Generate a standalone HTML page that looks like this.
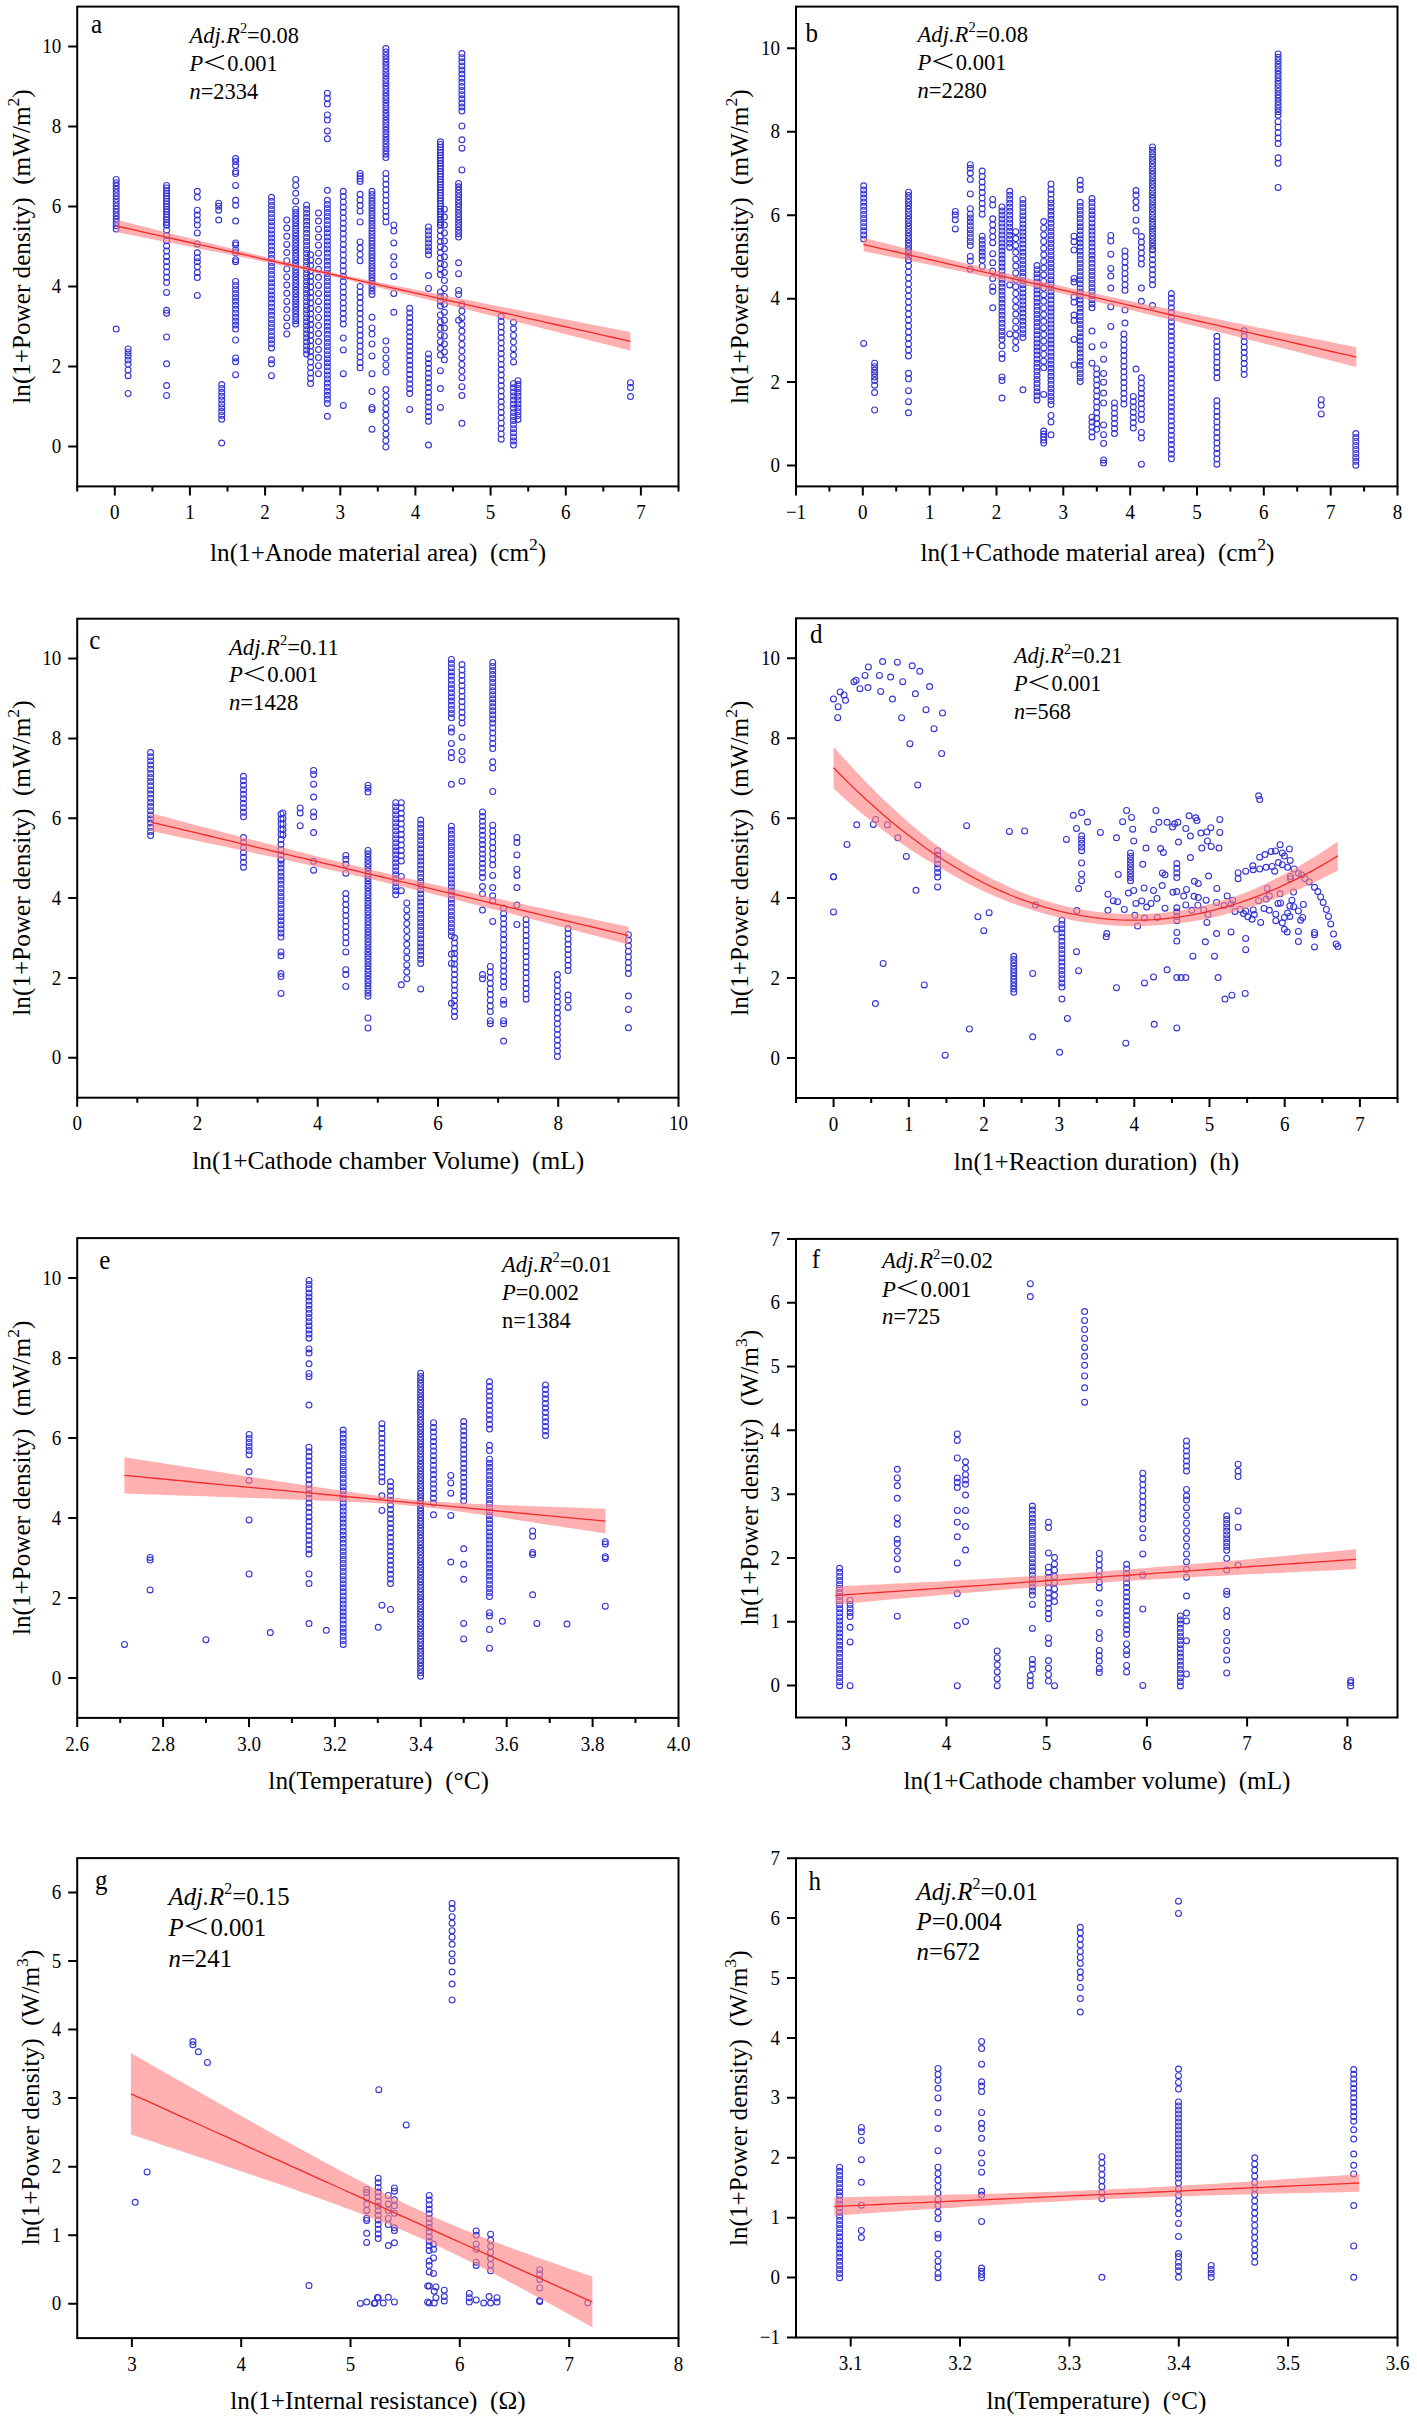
<!DOCTYPE html>
<html><head><meta charset="utf-8"><style>
html,body{margin:0;padding:0;background:#fff;}
svg{display:block;}
text{font-family:"Liberation Serif", serif;fill:#000;white-space:pre;}
</style></head><body>
<svg width="1417" height="2421" viewBox="0 0 1417 2421">
<rect width="1417" height="2421" fill="#fff"/>
<g fill="none" stroke="#3434d4" stroke-width="1.1"><circle cx="116.2" cy="179.4" r="2.95"/><circle cx="116.2" cy="182.7" r="2.95"/><circle cx="116.2" cy="186.0" r="2.95"/><circle cx="116.2" cy="189.3" r="2.95"/><circle cx="116.2" cy="192.6" r="2.95"/><circle cx="116.2" cy="195.9" r="2.95"/><circle cx="116.2" cy="199.2" r="2.95"/><circle cx="116.2" cy="202.5" r="2.95"/><circle cx="116.2" cy="205.9" r="2.95"/><circle cx="116.2" cy="209.2" r="2.95"/><circle cx="116.2" cy="212.5" r="2.95"/><circle cx="116.2" cy="215.8" r="2.95"/><circle cx="116.2" cy="219.1" r="2.95"/><circle cx="116.2" cy="222.4" r="2.95"/><circle cx="116.2" cy="225.7" r="2.95"/><circle cx="116.2" cy="229.0" r="2.95"/><circle cx="116.2" cy="329.1" r="2.95"/><circle cx="128.1" cy="348.9" r="2.95"/><circle cx="128.1" cy="352.4" r="2.95"/><circle cx="128.1" cy="356.0" r="2.95"/><circle cx="128.1" cy="360.0" r="2.95"/><circle cx="128.1" cy="364.0" r="2.95"/><circle cx="128.1" cy="370.0" r="2.95"/><circle cx="128.1" cy="375.7" r="2.95"/><circle cx="128.1" cy="393.5" r="2.95"/><circle cx="166.6" cy="185.4" r="2.95"/><circle cx="166.6" cy="188.0" r="2.95"/><circle cx="166.6" cy="190.7" r="2.95"/><circle cx="166.6" cy="193.3" r="2.95"/><circle cx="166.6" cy="196.0" r="2.95"/><circle cx="166.6" cy="198.6" r="2.95"/><circle cx="166.6" cy="201.2" r="2.95"/><circle cx="166.6" cy="203.9" r="2.95"/><circle cx="166.6" cy="206.5" r="2.95"/><circle cx="166.6" cy="209.2" r="2.95"/><circle cx="166.6" cy="211.8" r="2.95"/><circle cx="166.6" cy="214.4" r="2.95"/><circle cx="166.6" cy="217.1" r="2.95"/><circle cx="166.6" cy="219.7" r="2.95"/><circle cx="166.6" cy="222.4" r="2.95"/><circle cx="166.6" cy="225.0" r="2.95"/><circle cx="166.6" cy="225.0" r="2.95"/><circle cx="166.6" cy="230.2" r="2.95"/><circle cx="166.6" cy="235.5" r="2.95"/><circle cx="166.6" cy="240.7" r="2.95"/><circle cx="166.6" cy="245.9" r="2.95"/><circle cx="166.6" cy="251.1" r="2.95"/><circle cx="166.6" cy="256.4" r="2.95"/><circle cx="166.6" cy="261.6" r="2.95"/><circle cx="166.6" cy="266.8" r="2.95"/><circle cx="166.6" cy="272.0" r="2.95"/><circle cx="166.6" cy="277.3" r="2.95"/><circle cx="166.6" cy="282.5" r="2.95"/><circle cx="166.6" cy="292.4" r="2.95"/><circle cx="166.6" cy="310.3" r="2.95"/><circle cx="166.6" cy="313.2" r="2.95"/><circle cx="166.6" cy="337.0" r="2.95"/><circle cx="166.6" cy="363.8" r="2.95"/><circle cx="166.6" cy="385.6" r="2.95"/><circle cx="166.6" cy="395.5" r="2.95"/><circle cx="197.3" cy="191.3" r="2.95"/><circle cx="197.3" cy="197.3" r="2.95"/><circle cx="197.3" cy="210.2" r="2.95"/><circle cx="197.3" cy="215.1" r="2.95"/><circle cx="197.3" cy="220.1" r="2.95"/><circle cx="197.3" cy="225.0" r="2.95"/><circle cx="197.3" cy="233.0" r="2.95"/><circle cx="197.3" cy="243.9" r="2.95"/><circle cx="197.3" cy="252.8" r="2.95"/><circle cx="197.3" cy="257.7" r="2.95"/><circle cx="197.3" cy="261.7" r="2.95"/><circle cx="197.3" cy="266.7" r="2.95"/><circle cx="197.3" cy="272.6" r="2.95"/><circle cx="197.3" cy="277.6" r="2.95"/><circle cx="197.3" cy="295.4" r="2.95"/><circle cx="218.7" cy="203.2" r="2.95"/><circle cx="218.7" cy="206.2" r="2.95"/><circle cx="218.7" cy="210.2" r="2.95"/><circle cx="218.7" cy="220.1" r="2.95"/><circle cx="221.7" cy="384.6" r="2.95"/><circle cx="221.7" cy="388.5" r="2.95"/><circle cx="221.7" cy="392.3" r="2.95"/><circle cx="221.7" cy="396.2" r="2.95"/><circle cx="221.7" cy="400.0" r="2.95"/><circle cx="221.7" cy="403.9" r="2.95"/><circle cx="221.7" cy="407.7" r="2.95"/><circle cx="221.7" cy="411.6" r="2.95"/><circle cx="221.7" cy="415.4" r="2.95"/><circle cx="221.7" cy="419.3" r="2.95"/><circle cx="221.7" cy="443.1" r="2.95"/><circle cx="235.6" cy="158.6" r="2.95"/><circle cx="235.6" cy="161.6" r="2.95"/><circle cx="235.6" cy="165.6" r="2.95"/><circle cx="235.6" cy="171.5" r="2.95"/><circle cx="235.6" cy="173.5" r="2.95"/><circle cx="235.6" cy="185.4" r="2.95"/><circle cx="235.6" cy="200.3" r="2.95"/><circle cx="235.6" cy="205.2" r="2.95"/><circle cx="235.6" cy="221.1" r="2.95"/><circle cx="235.6" cy="242.9" r="2.95"/><circle cx="235.6" cy="244.9" r="2.95"/><circle cx="235.6" cy="249.9" r="2.95"/><circle cx="235.6" cy="252.8" r="2.95"/><circle cx="235.6" cy="259.7" r="2.95"/><circle cx="235.6" cy="261.7" r="2.95"/><circle cx="235.6" cy="281.5" r="2.95"/><circle cx="235.6" cy="285.5" r="2.95"/><circle cx="235.6" cy="289.4" r="2.95"/><circle cx="235.6" cy="293.4" r="2.95"/><circle cx="235.6" cy="297.4" r="2.95"/><circle cx="235.6" cy="301.3" r="2.95"/><circle cx="235.6" cy="305.3" r="2.95"/><circle cx="235.6" cy="309.3" r="2.95"/><circle cx="235.6" cy="313.2" r="2.95"/><circle cx="235.6" cy="317.2" r="2.95"/><circle cx="235.6" cy="321.2" r="2.95"/><circle cx="235.6" cy="325.1" r="2.95"/><circle cx="235.6" cy="329.1" r="2.95"/><circle cx="235.6" cy="340.0" r="2.95"/><circle cx="235.6" cy="357.9" r="2.95"/><circle cx="235.6" cy="361.8" r="2.95"/><circle cx="235.6" cy="374.7" r="2.95"/><circle cx="271.5" cy="197.3" r="2.95"/><circle cx="271.5" cy="201.4" r="2.95"/><circle cx="271.5" cy="205.4" r="2.95"/><circle cx="271.5" cy="209.5" r="2.95"/><circle cx="271.5" cy="213.6" r="2.95"/><circle cx="271.5" cy="217.7" r="2.95"/><circle cx="271.5" cy="221.7" r="2.95"/><circle cx="271.5" cy="225.8" r="2.95"/><circle cx="271.5" cy="229.9" r="2.95"/><circle cx="271.5" cy="233.9" r="2.95"/><circle cx="271.5" cy="238.0" r="2.95"/><circle cx="271.5" cy="242.1" r="2.95"/><circle cx="271.5" cy="246.1" r="2.95"/><circle cx="271.5" cy="250.2" r="2.95"/><circle cx="271.5" cy="254.3" r="2.95"/><circle cx="271.5" cy="258.4" r="2.95"/><circle cx="271.5" cy="262.4" r="2.95"/><circle cx="271.5" cy="266.5" r="2.95"/><circle cx="271.5" cy="270.6" r="2.95"/><circle cx="271.5" cy="274.6" r="2.95"/><circle cx="271.5" cy="278.7" r="2.95"/><circle cx="271.5" cy="282.8" r="2.95"/><circle cx="271.5" cy="286.8" r="2.95"/><circle cx="271.5" cy="290.9" r="2.95"/><circle cx="271.5" cy="295.0" r="2.95"/><circle cx="271.5" cy="299.1" r="2.95"/><circle cx="271.5" cy="303.1" r="2.95"/><circle cx="271.5" cy="307.2" r="2.95"/><circle cx="271.5" cy="311.3" r="2.95"/><circle cx="271.5" cy="315.3" r="2.95"/><circle cx="271.5" cy="319.4" r="2.95"/><circle cx="271.5" cy="323.5" r="2.95"/><circle cx="271.5" cy="327.5" r="2.95"/><circle cx="271.5" cy="331.6" r="2.95"/><circle cx="271.5" cy="335.7" r="2.95"/><circle cx="271.5" cy="339.8" r="2.95"/><circle cx="271.5" cy="343.8" r="2.95"/><circle cx="271.5" cy="347.9" r="2.95"/><circle cx="271.5" cy="359.8" r="2.95"/><circle cx="271.5" cy="363.8" r="2.95"/><circle cx="271.5" cy="375.7" r="2.95"/><circle cx="286.8" cy="220.0" r="2.95"/><circle cx="286.8" cy="228.1" r="2.95"/><circle cx="286.8" cy="236.3" r="2.95"/><circle cx="286.8" cy="244.4" r="2.95"/><circle cx="286.8" cy="252.6" r="2.95"/><circle cx="286.8" cy="260.7" r="2.95"/><circle cx="286.8" cy="268.9" r="2.95"/><circle cx="286.8" cy="277.0" r="2.95"/><circle cx="286.8" cy="285.1" r="2.95"/><circle cx="286.8" cy="293.3" r="2.95"/><circle cx="286.8" cy="301.4" r="2.95"/><circle cx="286.8" cy="309.6" r="2.95"/><circle cx="286.8" cy="317.7" r="2.95"/><circle cx="286.8" cy="325.9" r="2.95"/><circle cx="286.8" cy="334.0" r="2.95"/><circle cx="295.7" cy="179.4" r="2.95"/><circle cx="295.7" cy="185.4" r="2.95"/><circle cx="295.7" cy="193.3" r="2.95"/><circle cx="295.7" cy="201.2" r="2.95"/><circle cx="295.7" cy="209.2" r="2.95"/><circle cx="295.7" cy="212.6" r="2.95"/><circle cx="295.7" cy="216.0" r="2.95"/><circle cx="295.7" cy="219.3" r="2.95"/><circle cx="295.7" cy="222.7" r="2.95"/><circle cx="295.7" cy="226.1" r="2.95"/><circle cx="295.7" cy="229.5" r="2.95"/><circle cx="295.7" cy="232.9" r="2.95"/><circle cx="295.7" cy="236.2" r="2.95"/><circle cx="295.7" cy="239.6" r="2.95"/><circle cx="295.7" cy="243.0" r="2.95"/><circle cx="295.7" cy="246.4" r="2.95"/><circle cx="295.7" cy="249.8" r="2.95"/><circle cx="295.7" cy="253.1" r="2.95"/><circle cx="295.7" cy="256.5" r="2.95"/><circle cx="295.7" cy="259.9" r="2.95"/><circle cx="295.7" cy="263.3" r="2.95"/><circle cx="295.7" cy="266.6" r="2.95"/><circle cx="295.7" cy="270.0" r="2.95"/><circle cx="295.7" cy="273.4" r="2.95"/><circle cx="295.7" cy="276.8" r="2.95"/><circle cx="295.7" cy="280.2" r="2.95"/><circle cx="295.7" cy="283.5" r="2.95"/><circle cx="295.7" cy="286.9" r="2.95"/><circle cx="295.7" cy="290.3" r="2.95"/><circle cx="295.7" cy="293.7" r="2.95"/><circle cx="295.7" cy="297.1" r="2.95"/><circle cx="295.7" cy="300.4" r="2.95"/><circle cx="295.7" cy="303.8" r="2.95"/><circle cx="295.7" cy="307.2" r="2.95"/><circle cx="295.7" cy="310.6" r="2.95"/><circle cx="295.7" cy="314.0" r="2.95"/><circle cx="295.7" cy="317.3" r="2.95"/><circle cx="295.7" cy="320.7" r="2.95"/><circle cx="295.7" cy="324.1" r="2.95"/><circle cx="306.6" cy="205.2" r="2.95"/><circle cx="306.6" cy="209.2" r="2.95"/><circle cx="306.6" cy="213.2" r="2.95"/><circle cx="306.6" cy="217.3" r="2.95"/><circle cx="306.6" cy="221.3" r="2.95"/><circle cx="306.6" cy="225.3" r="2.95"/><circle cx="306.6" cy="229.3" r="2.95"/><circle cx="306.6" cy="233.3" r="2.95"/><circle cx="306.6" cy="237.4" r="2.95"/><circle cx="306.6" cy="241.4" r="2.95"/><circle cx="306.6" cy="245.4" r="2.95"/><circle cx="306.6" cy="249.4" r="2.95"/><circle cx="306.6" cy="253.4" r="2.95"/><circle cx="306.6" cy="257.4" r="2.95"/><circle cx="306.6" cy="261.5" r="2.95"/><circle cx="306.6" cy="265.5" r="2.95"/><circle cx="306.6" cy="269.5" r="2.95"/><circle cx="306.6" cy="273.5" r="2.95"/><circle cx="306.6" cy="277.5" r="2.95"/><circle cx="306.6" cy="281.6" r="2.95"/><circle cx="306.6" cy="285.6" r="2.95"/><circle cx="306.6" cy="289.6" r="2.95"/><circle cx="306.6" cy="293.6" r="2.95"/><circle cx="306.6" cy="297.6" r="2.95"/><circle cx="306.6" cy="301.7" r="2.95"/><circle cx="306.6" cy="305.7" r="2.95"/><circle cx="306.6" cy="309.7" r="2.95"/><circle cx="306.6" cy="313.7" r="2.95"/><circle cx="306.6" cy="317.7" r="2.95"/><circle cx="306.6" cy="321.7" r="2.95"/><circle cx="306.6" cy="325.8" r="2.95"/><circle cx="306.6" cy="329.8" r="2.95"/><circle cx="306.6" cy="333.8" r="2.95"/><circle cx="306.6" cy="337.8" r="2.95"/><circle cx="306.6" cy="341.8" r="2.95"/><circle cx="306.6" cy="345.9" r="2.95"/><circle cx="306.6" cy="349.9" r="2.95"/><circle cx="306.6" cy="353.9" r="2.95"/><circle cx="310.6" cy="254.8" r="2.95"/><circle cx="310.6" cy="260.2" r="2.95"/><circle cx="310.6" cy="265.5" r="2.95"/><circle cx="310.6" cy="270.9" r="2.95"/><circle cx="310.6" cy="276.3" r="2.95"/><circle cx="310.6" cy="281.6" r="2.95"/><circle cx="310.6" cy="287.0" r="2.95"/><circle cx="310.6" cy="292.4" r="2.95"/><circle cx="310.6" cy="297.7" r="2.95"/><circle cx="310.6" cy="303.1" r="2.95"/><circle cx="310.6" cy="308.5" r="2.95"/><circle cx="310.6" cy="313.8" r="2.95"/><circle cx="310.6" cy="319.2" r="2.95"/><circle cx="310.6" cy="324.6" r="2.95"/><circle cx="310.6" cy="329.9" r="2.95"/><circle cx="310.6" cy="335.3" r="2.95"/><circle cx="310.6" cy="340.7" r="2.95"/><circle cx="310.6" cy="346.0" r="2.95"/><circle cx="310.6" cy="351.4" r="2.95"/><circle cx="310.6" cy="356.8" r="2.95"/><circle cx="310.6" cy="362.1" r="2.95"/><circle cx="310.6" cy="367.5" r="2.95"/><circle cx="310.6" cy="372.9" r="2.95"/><circle cx="310.6" cy="378.2" r="2.95"/><circle cx="310.6" cy="383.6" r="2.95"/><circle cx="318.5" cy="213.1" r="2.95"/><circle cx="318.5" cy="221.1" r="2.95"/><circle cx="318.5" cy="229.2" r="2.95"/><circle cx="318.5" cy="237.2" r="2.95"/><circle cx="318.5" cy="245.2" r="2.95"/><circle cx="318.5" cy="253.2" r="2.95"/><circle cx="318.5" cy="261.3" r="2.95"/><circle cx="318.5" cy="269.3" r="2.95"/><circle cx="318.5" cy="277.3" r="2.95"/><circle cx="318.5" cy="285.4" r="2.95"/><circle cx="318.5" cy="293.4" r="2.95"/><circle cx="318.5" cy="301.4" r="2.95"/><circle cx="318.5" cy="309.5" r="2.95"/><circle cx="318.5" cy="317.5" r="2.95"/><circle cx="318.5" cy="325.5" r="2.95"/><circle cx="318.5" cy="333.6" r="2.95"/><circle cx="318.5" cy="341.6" r="2.95"/><circle cx="318.5" cy="349.6" r="2.95"/><circle cx="318.5" cy="357.6" r="2.95"/><circle cx="318.5" cy="365.7" r="2.95"/><circle cx="318.5" cy="373.7" r="2.95"/><circle cx="327.4" cy="93.2" r="2.95"/><circle cx="327.4" cy="98.2" r="2.95"/><circle cx="327.4" cy="104.1" r="2.95"/><circle cx="327.4" cy="115.0" r="2.95"/><circle cx="327.4" cy="120.0" r="2.95"/><circle cx="327.4" cy="130.9" r="2.95"/><circle cx="327.4" cy="138.8" r="2.95"/><circle cx="327.4" cy="190.3" r="2.95"/><circle cx="327.4" cy="200.3" r="2.95"/><circle cx="327.4" cy="204.4" r="2.95"/><circle cx="327.4" cy="208.4" r="2.95"/><circle cx="327.4" cy="212.5" r="2.95"/><circle cx="327.4" cy="216.5" r="2.95"/><circle cx="327.4" cy="220.6" r="2.95"/><circle cx="327.4" cy="224.7" r="2.95"/><circle cx="327.4" cy="228.7" r="2.95"/><circle cx="327.4" cy="232.8" r="2.95"/><circle cx="327.4" cy="236.9" r="2.95"/><circle cx="327.4" cy="240.9" r="2.95"/><circle cx="327.4" cy="245.0" r="2.95"/><circle cx="327.4" cy="249.0" r="2.95"/><circle cx="327.4" cy="253.1" r="2.95"/><circle cx="327.4" cy="257.2" r="2.95"/><circle cx="327.4" cy="261.2" r="2.95"/><circle cx="327.4" cy="265.3" r="2.95"/><circle cx="327.4" cy="269.4" r="2.95"/><circle cx="327.4" cy="273.4" r="2.95"/><circle cx="327.4" cy="277.5" r="2.95"/><circle cx="327.4" cy="281.5" r="2.95"/><circle cx="327.4" cy="285.6" r="2.95"/><circle cx="327.4" cy="289.7" r="2.95"/><circle cx="327.4" cy="293.7" r="2.95"/><circle cx="327.4" cy="297.8" r="2.95"/><circle cx="327.4" cy="301.9" r="2.95"/><circle cx="327.4" cy="305.9" r="2.95"/><circle cx="327.4" cy="310.0" r="2.95"/><circle cx="327.4" cy="314.0" r="2.95"/><circle cx="327.4" cy="318.1" r="2.95"/><circle cx="327.4" cy="322.2" r="2.95"/><circle cx="327.4" cy="326.2" r="2.95"/><circle cx="327.4" cy="330.3" r="2.95"/><circle cx="327.4" cy="334.3" r="2.95"/><circle cx="327.4" cy="338.4" r="2.95"/><circle cx="327.4" cy="342.5" r="2.95"/><circle cx="327.4" cy="346.5" r="2.95"/><circle cx="327.4" cy="350.6" r="2.95"/><circle cx="327.4" cy="354.7" r="2.95"/><circle cx="327.4" cy="358.7" r="2.95"/><circle cx="327.4" cy="362.8" r="2.95"/><circle cx="327.4" cy="366.8" r="2.95"/><circle cx="327.4" cy="370.9" r="2.95"/><circle cx="327.4" cy="375.0" r="2.95"/><circle cx="327.4" cy="379.0" r="2.95"/><circle cx="327.4" cy="383.1" r="2.95"/><circle cx="327.4" cy="387.2" r="2.95"/><circle cx="327.4" cy="391.2" r="2.95"/><circle cx="327.4" cy="395.3" r="2.95"/><circle cx="327.4" cy="399.3" r="2.95"/><circle cx="327.4" cy="403.4" r="2.95"/><circle cx="327.4" cy="416.3" r="2.95"/><circle cx="343.3" cy="191.3" r="2.95"/><circle cx="343.3" cy="196.6" r="2.95"/><circle cx="343.3" cy="201.9" r="2.95"/><circle cx="343.3" cy="207.2" r="2.95"/><circle cx="343.3" cy="212.5" r="2.95"/><circle cx="343.3" cy="217.9" r="2.95"/><circle cx="343.3" cy="223.2" r="2.95"/><circle cx="343.3" cy="228.5" r="2.95"/><circle cx="343.3" cy="233.8" r="2.95"/><circle cx="343.3" cy="239.1" r="2.95"/><circle cx="343.3" cy="244.4" r="2.95"/><circle cx="343.3" cy="249.7" r="2.95"/><circle cx="343.3" cy="255.0" r="2.95"/><circle cx="343.3" cy="260.4" r="2.95"/><circle cx="343.3" cy="265.7" r="2.95"/><circle cx="343.3" cy="271.0" r="2.95"/><circle cx="343.3" cy="276.3" r="2.95"/><circle cx="343.3" cy="281.6" r="2.95"/><circle cx="343.3" cy="286.9" r="2.95"/><circle cx="343.3" cy="292.2" r="2.95"/><circle cx="343.3" cy="297.5" r="2.95"/><circle cx="343.3" cy="302.9" r="2.95"/><circle cx="343.3" cy="308.2" r="2.95"/><circle cx="343.3" cy="313.5" r="2.95"/><circle cx="343.3" cy="318.8" r="2.95"/><circle cx="343.3" cy="324.1" r="2.95"/><circle cx="343.3" cy="338.0" r="2.95"/><circle cx="343.3" cy="349.9" r="2.95"/><circle cx="343.3" cy="373.7" r="2.95"/><circle cx="343.3" cy="405.4" r="2.95"/><circle cx="360.1" cy="173.5" r="2.95"/><circle cx="360.1" cy="176.1" r="2.95"/><circle cx="360.1" cy="178.8" r="2.95"/><circle cx="360.1" cy="181.4" r="2.95"/><circle cx="360.1" cy="194.3" r="2.95"/><circle cx="360.1" cy="199.9" r="2.95"/><circle cx="360.1" cy="205.6" r="2.95"/><circle cx="360.1" cy="211.2" r="2.95"/><circle cx="360.1" cy="222.0" r="2.95"/><circle cx="360.1" cy="241.9" r="2.95"/><circle cx="360.1" cy="248.2" r="2.95"/><circle cx="360.1" cy="254.4" r="2.95"/><circle cx="360.1" cy="260.7" r="2.95"/><circle cx="360.1" cy="286.5" r="2.95"/><circle cx="360.1" cy="291.9" r="2.95"/><circle cx="360.1" cy="297.3" r="2.95"/><circle cx="360.1" cy="302.8" r="2.95"/><circle cx="360.1" cy="308.2" r="2.95"/><circle cx="360.1" cy="313.6" r="2.95"/><circle cx="360.1" cy="319.0" r="2.95"/><circle cx="360.1" cy="324.4" r="2.95"/><circle cx="360.1" cy="329.9" r="2.95"/><circle cx="360.1" cy="335.3" r="2.95"/><circle cx="360.1" cy="340.7" r="2.95"/><circle cx="360.1" cy="346.1" r="2.95"/><circle cx="360.1" cy="351.5" r="2.95"/><circle cx="360.1" cy="357.0" r="2.95"/><circle cx="360.1" cy="362.4" r="2.95"/><circle cx="360.1" cy="367.8" r="2.95"/><circle cx="372.0" cy="191.3" r="2.95"/><circle cx="372.0" cy="194.6" r="2.95"/><circle cx="372.0" cy="198.0" r="2.95"/><circle cx="372.0" cy="201.3" r="2.95"/><circle cx="372.0" cy="204.6" r="2.95"/><circle cx="372.0" cy="207.9" r="2.95"/><circle cx="372.0" cy="211.3" r="2.95"/><circle cx="372.0" cy="214.6" r="2.95"/><circle cx="372.0" cy="217.9" r="2.95"/><circle cx="372.0" cy="221.2" r="2.95"/><circle cx="372.0" cy="224.6" r="2.95"/><circle cx="372.0" cy="227.9" r="2.95"/><circle cx="372.0" cy="231.2" r="2.95"/><circle cx="372.0" cy="234.5" r="2.95"/><circle cx="372.0" cy="237.9" r="2.95"/><circle cx="372.0" cy="241.2" r="2.95"/><circle cx="372.0" cy="244.5" r="2.95"/><circle cx="372.0" cy="247.8" r="2.95"/><circle cx="372.0" cy="251.2" r="2.95"/><circle cx="372.0" cy="254.5" r="2.95"/><circle cx="372.0" cy="257.8" r="2.95"/><circle cx="372.0" cy="261.1" r="2.95"/><circle cx="372.0" cy="264.5" r="2.95"/><circle cx="372.0" cy="267.8" r="2.95"/><circle cx="372.0" cy="271.1" r="2.95"/><circle cx="372.0" cy="274.4" r="2.95"/><circle cx="372.0" cy="277.8" r="2.95"/><circle cx="372.0" cy="281.1" r="2.95"/><circle cx="372.0" cy="284.4" r="2.95"/><circle cx="372.0" cy="287.7" r="2.95"/><circle cx="372.0" cy="291.1" r="2.95"/><circle cx="372.0" cy="294.4" r="2.95"/><circle cx="372.0" cy="317.2" r="2.95"/><circle cx="372.0" cy="328.0" r="2.95"/><circle cx="372.0" cy="334.0" r="2.95"/><circle cx="372.0" cy="344.0" r="2.95"/><circle cx="372.0" cy="355.9" r="2.95"/><circle cx="372.0" cy="373.7" r="2.95"/><circle cx="372.0" cy="391.5" r="2.95"/><circle cx="372.0" cy="407.4" r="2.95"/><circle cx="372.0" cy="409.4" r="2.95"/><circle cx="372.0" cy="429.2" r="2.95"/><circle cx="385.9" cy="48.6" r="2.95"/><circle cx="385.9" cy="52.0" r="2.95"/><circle cx="385.9" cy="55.4" r="2.95"/><circle cx="385.9" cy="58.8" r="2.95"/><circle cx="385.9" cy="62.2" r="2.95"/><circle cx="385.9" cy="65.6" r="2.95"/><circle cx="385.9" cy="69.0" r="2.95"/><circle cx="385.9" cy="72.4" r="2.95"/><circle cx="385.9" cy="75.8" r="2.95"/><circle cx="385.9" cy="79.3" r="2.95"/><circle cx="385.9" cy="82.7" r="2.95"/><circle cx="385.9" cy="86.1" r="2.95"/><circle cx="385.9" cy="89.5" r="2.95"/><circle cx="385.9" cy="92.9" r="2.95"/><circle cx="385.9" cy="96.3" r="2.95"/><circle cx="385.9" cy="99.7" r="2.95"/><circle cx="385.9" cy="103.1" r="2.95"/><circle cx="385.9" cy="106.5" r="2.95"/><circle cx="385.9" cy="109.9" r="2.95"/><circle cx="385.9" cy="113.3" r="2.95"/><circle cx="385.9" cy="116.7" r="2.95"/><circle cx="385.9" cy="120.1" r="2.95"/><circle cx="385.9" cy="123.5" r="2.95"/><circle cx="385.9" cy="126.9" r="2.95"/><circle cx="385.9" cy="130.3" r="2.95"/><circle cx="385.9" cy="133.8" r="2.95"/><circle cx="385.9" cy="137.2" r="2.95"/><circle cx="385.9" cy="140.6" r="2.95"/><circle cx="385.9" cy="144.0" r="2.95"/><circle cx="385.9" cy="147.4" r="2.95"/><circle cx="385.9" cy="150.8" r="2.95"/><circle cx="385.9" cy="154.2" r="2.95"/><circle cx="385.9" cy="157.6" r="2.95"/><circle cx="385.9" cy="173.5" r="2.95"/><circle cx="385.9" cy="178.9" r="2.95"/><circle cx="385.9" cy="184.3" r="2.95"/><circle cx="385.9" cy="189.7" r="2.95"/><circle cx="385.9" cy="195.1" r="2.95"/><circle cx="385.9" cy="200.4" r="2.95"/><circle cx="385.9" cy="205.8" r="2.95"/><circle cx="385.9" cy="211.2" r="2.95"/><circle cx="385.9" cy="216.6" r="2.95"/><circle cx="385.9" cy="222.0" r="2.95"/><circle cx="385.9" cy="341.0" r="2.95"/><circle cx="385.9" cy="350.0" r="2.95"/><circle cx="385.9" cy="358.0" r="2.95"/><circle cx="385.9" cy="365.0" r="2.95"/><circle cx="385.9" cy="372.0" r="2.95"/><circle cx="385.9" cy="389.6" r="2.95"/><circle cx="385.9" cy="396.0" r="2.95"/><circle cx="385.9" cy="402.4" r="2.95"/><circle cx="385.9" cy="408.7" r="2.95"/><circle cx="385.9" cy="415.1" r="2.95"/><circle cx="385.9" cy="421.5" r="2.95"/><circle cx="385.9" cy="427.9" r="2.95"/><circle cx="385.9" cy="434.2" r="2.95"/><circle cx="385.9" cy="440.6" r="2.95"/><circle cx="385.9" cy="447.0" r="2.95"/><circle cx="393.8" cy="225.0" r="2.95"/><circle cx="393.8" cy="231.0" r="2.95"/><circle cx="393.8" cy="242.9" r="2.95"/><circle cx="393.8" cy="256.7" r="2.95"/><circle cx="393.8" cy="264.7" r="2.95"/><circle cx="393.8" cy="276.6" r="2.95"/><circle cx="393.8" cy="293.4" r="2.95"/><circle cx="393.8" cy="312.3" r="2.95"/><circle cx="409.7" cy="308.3" r="2.95"/><circle cx="409.7" cy="313.0" r="2.95"/><circle cx="409.7" cy="317.8" r="2.95"/><circle cx="409.7" cy="322.5" r="2.95"/><circle cx="409.7" cy="327.2" r="2.95"/><circle cx="409.7" cy="332.0" r="2.95"/><circle cx="409.7" cy="336.7" r="2.95"/><circle cx="409.7" cy="341.4" r="2.95"/><circle cx="409.7" cy="346.2" r="2.95"/><circle cx="409.7" cy="350.9" r="2.95"/><circle cx="409.7" cy="355.6" r="2.95"/><circle cx="409.7" cy="360.4" r="2.95"/><circle cx="409.7" cy="365.1" r="2.95"/><circle cx="409.7" cy="369.8" r="2.95"/><circle cx="409.7" cy="374.6" r="2.95"/><circle cx="409.7" cy="379.3" r="2.95"/><circle cx="409.7" cy="384.0" r="2.95"/><circle cx="409.7" cy="388.8" r="2.95"/><circle cx="409.7" cy="393.5" r="2.95"/><circle cx="409.7" cy="409.4" r="2.95"/><circle cx="428.5" cy="227.0" r="2.95"/><circle cx="428.5" cy="231.0" r="2.95"/><circle cx="428.5" cy="234.9" r="2.95"/><circle cx="428.5" cy="238.9" r="2.95"/><circle cx="428.5" cy="242.9" r="2.95"/><circle cx="428.5" cy="246.9" r="2.95"/><circle cx="428.5" cy="250.8" r="2.95"/><circle cx="428.5" cy="254.8" r="2.95"/><circle cx="428.5" cy="275.6" r="2.95"/><circle cx="428.5" cy="288.5" r="2.95"/><circle cx="428.5" cy="353.9" r="2.95"/><circle cx="428.5" cy="358.7" r="2.95"/><circle cx="428.5" cy="363.5" r="2.95"/><circle cx="428.5" cy="368.3" r="2.95"/><circle cx="428.5" cy="373.2" r="2.95"/><circle cx="428.5" cy="378.0" r="2.95"/><circle cx="428.5" cy="382.8" r="2.95"/><circle cx="428.5" cy="387.6" r="2.95"/><circle cx="428.5" cy="392.4" r="2.95"/><circle cx="428.5" cy="397.2" r="2.95"/><circle cx="428.5" cy="402.0" r="2.95"/><circle cx="428.5" cy="406.9" r="2.95"/><circle cx="428.5" cy="411.7" r="2.95"/><circle cx="428.5" cy="416.5" r="2.95"/><circle cx="428.5" cy="421.3" r="2.95"/><circle cx="428.5" cy="445.1" r="2.95"/><circle cx="440.4" cy="141.8" r="2.95"/><circle cx="440.4" cy="144.5" r="2.95"/><circle cx="440.4" cy="147.2" r="2.95"/><circle cx="440.4" cy="149.9" r="2.95"/><circle cx="440.4" cy="152.5" r="2.95"/><circle cx="440.4" cy="155.2" r="2.95"/><circle cx="440.4" cy="157.9" r="2.95"/><circle cx="440.4" cy="160.6" r="2.95"/><circle cx="440.4" cy="163.3" r="2.95"/><circle cx="440.4" cy="166.0" r="2.95"/><circle cx="440.4" cy="168.6" r="2.95"/><circle cx="440.4" cy="171.3" r="2.95"/><circle cx="440.4" cy="174.0" r="2.95"/><circle cx="440.4" cy="176.7" r="2.95"/><circle cx="440.4" cy="179.4" r="2.95"/><circle cx="440.4" cy="182.1" r="2.95"/><circle cx="440.4" cy="184.7" r="2.95"/><circle cx="440.4" cy="187.4" r="2.95"/><circle cx="440.4" cy="190.1" r="2.95"/><circle cx="440.4" cy="192.8" r="2.95"/><circle cx="440.4" cy="195.5" r="2.95"/><circle cx="440.4" cy="198.2" r="2.95"/><circle cx="440.4" cy="200.8" r="2.95"/><circle cx="440.4" cy="203.5" r="2.95"/><circle cx="440.4" cy="206.2" r="2.95"/><circle cx="440.4" cy="208.9" r="2.95"/><circle cx="440.4" cy="211.6" r="2.95"/><circle cx="440.4" cy="214.3" r="2.95"/><circle cx="440.4" cy="216.9" r="2.95"/><circle cx="440.4" cy="219.6" r="2.95"/><circle cx="440.4" cy="222.3" r="2.95"/><circle cx="440.4" cy="225.0" r="2.95"/><circle cx="440.4" cy="225.0" r="2.95"/><circle cx="440.4" cy="230.5" r="2.95"/><circle cx="440.4" cy="236.0" r="2.95"/><circle cx="440.4" cy="241.5" r="2.95"/><circle cx="440.4" cy="247.0" r="2.95"/><circle cx="440.4" cy="252.6" r="2.95"/><circle cx="440.4" cy="258.1" r="2.95"/><circle cx="440.4" cy="263.6" r="2.95"/><circle cx="440.4" cy="269.1" r="2.95"/><circle cx="440.4" cy="274.6" r="2.95"/><circle cx="440.4" cy="292.0" r="2.95"/><circle cx="440.4" cy="296.7" r="2.95"/><circle cx="440.4" cy="301.3" r="2.95"/><circle cx="440.4" cy="306.0" r="2.95"/><circle cx="440.4" cy="315.0" r="2.95"/><circle cx="440.4" cy="321.7" r="2.95"/><circle cx="440.4" cy="328.3" r="2.95"/><circle cx="440.4" cy="335.0" r="2.95"/><circle cx="440.4" cy="341.7" r="2.95"/><circle cx="440.4" cy="348.3" r="2.95"/><circle cx="440.4" cy="355.0" r="2.95"/><circle cx="440.4" cy="370.7" r="2.95"/><circle cx="440.4" cy="388.6" r="2.95"/><circle cx="440.4" cy="407.4" r="2.95"/><circle cx="444.4" cy="209.2" r="2.95"/><circle cx="444.4" cy="217.1" r="2.95"/><circle cx="444.4" cy="225.1" r="2.95"/><circle cx="444.4" cy="233.0" r="2.95"/><circle cx="444.4" cy="240.9" r="2.95"/><circle cx="444.4" cy="248.8" r="2.95"/><circle cx="444.4" cy="256.8" r="2.95"/><circle cx="444.4" cy="264.7" r="2.95"/><circle cx="444.4" cy="272.6" r="2.95"/><circle cx="444.4" cy="280.5" r="2.95"/><circle cx="444.4" cy="288.5" r="2.95"/><circle cx="444.4" cy="296.4" r="2.95"/><circle cx="444.4" cy="304.3" r="2.95"/><circle cx="444.4" cy="312.2" r="2.95"/><circle cx="444.4" cy="320.2" r="2.95"/><circle cx="444.4" cy="328.1" r="2.95"/><circle cx="444.4" cy="336.0" r="2.95"/><circle cx="444.4" cy="343.9" r="2.95"/><circle cx="444.4" cy="351.9" r="2.95"/><circle cx="444.4" cy="359.8" r="2.95"/><circle cx="458.6" cy="183.4" r="2.95"/><circle cx="458.6" cy="186.8" r="2.95"/><circle cx="458.6" cy="190.1" r="2.95"/><circle cx="458.6" cy="193.5" r="2.95"/><circle cx="458.6" cy="196.8" r="2.95"/><circle cx="458.6" cy="200.2" r="2.95"/><circle cx="458.6" cy="203.5" r="2.95"/><circle cx="458.6" cy="206.8" r="2.95"/><circle cx="458.6" cy="210.2" r="2.95"/><circle cx="458.6" cy="213.6" r="2.95"/><circle cx="458.6" cy="216.9" r="2.95"/><circle cx="458.6" cy="220.2" r="2.95"/><circle cx="458.6" cy="223.6" r="2.95"/><circle cx="458.6" cy="226.9" r="2.95"/><circle cx="458.6" cy="230.3" r="2.95"/><circle cx="458.6" cy="233.7" r="2.95"/><circle cx="458.6" cy="237.0" r="2.95"/><circle cx="458.6" cy="262.8" r="2.95"/><circle cx="458.6" cy="273.7" r="2.95"/><circle cx="458.6" cy="290.5" r="2.95"/><circle cx="458.6" cy="294.5" r="2.95"/><circle cx="458.6" cy="320.2" r="2.95"/><circle cx="461.9" cy="53.6" r="2.95"/><circle cx="461.9" cy="57.7" r="2.95"/><circle cx="461.9" cy="61.8" r="2.95"/><circle cx="461.9" cy="65.9" r="2.95"/><circle cx="461.9" cy="70.0" r="2.95"/><circle cx="461.9" cy="74.1" r="2.95"/><circle cx="461.9" cy="78.2" r="2.95"/><circle cx="461.9" cy="82.3" r="2.95"/><circle cx="461.9" cy="86.5" r="2.95"/><circle cx="461.9" cy="90.6" r="2.95"/><circle cx="461.9" cy="94.7" r="2.95"/><circle cx="461.9" cy="98.8" r="2.95"/><circle cx="461.9" cy="102.9" r="2.95"/><circle cx="461.9" cy="107.0" r="2.95"/><circle cx="461.9" cy="111.1" r="2.95"/><circle cx="461.9" cy="126.0" r="2.95"/><circle cx="461.9" cy="139.8" r="2.95"/><circle cx="461.9" cy="148.2" r="2.95"/><circle cx="461.9" cy="170.0" r="2.95"/><circle cx="461.9" cy="304.4" r="2.95"/><circle cx="461.9" cy="311.1" r="2.95"/><circle cx="461.9" cy="317.7" r="2.95"/><circle cx="461.9" cy="324.4" r="2.95"/><circle cx="461.9" cy="331.1" r="2.95"/><circle cx="461.9" cy="337.7" r="2.95"/><circle cx="461.9" cy="344.4" r="2.95"/><circle cx="461.9" cy="351.0" r="2.95"/><circle cx="461.9" cy="357.7" r="2.95"/><circle cx="461.9" cy="364.4" r="2.95"/><circle cx="461.9" cy="371.0" r="2.95"/><circle cx="461.9" cy="377.7" r="2.95"/><circle cx="461.9" cy="386.7" r="2.95"/><circle cx="461.9" cy="395.6" r="2.95"/><circle cx="461.9" cy="423.3" r="2.95"/><circle cx="501.2" cy="316.3" r="2.95"/><circle cx="501.2" cy="321.6" r="2.95"/><circle cx="501.2" cy="327.0" r="2.95"/><circle cx="501.2" cy="332.3" r="2.95"/><circle cx="501.2" cy="337.7" r="2.95"/><circle cx="501.2" cy="343.0" r="2.95"/><circle cx="501.2" cy="348.4" r="2.95"/><circle cx="501.2" cy="353.7" r="2.95"/><circle cx="501.2" cy="359.0" r="2.95"/><circle cx="501.2" cy="364.4" r="2.95"/><circle cx="501.2" cy="369.7" r="2.95"/><circle cx="501.2" cy="375.1" r="2.95"/><circle cx="501.2" cy="380.4" r="2.95"/><circle cx="501.2" cy="385.8" r="2.95"/><circle cx="501.2" cy="391.1" r="2.95"/><circle cx="501.2" cy="396.5" r="2.95"/><circle cx="501.2" cy="401.8" r="2.95"/><circle cx="501.2" cy="407.1" r="2.95"/><circle cx="501.2" cy="412.5" r="2.95"/><circle cx="501.2" cy="417.8" r="2.95"/><circle cx="501.2" cy="423.2" r="2.95"/><circle cx="501.2" cy="428.5" r="2.95"/><circle cx="501.2" cy="433.9" r="2.95"/><circle cx="501.2" cy="439.2" r="2.95"/><circle cx="513.5" cy="322.2" r="2.95"/><circle cx="513.5" cy="328.8" r="2.95"/><circle cx="513.5" cy="335.4" r="2.95"/><circle cx="513.5" cy="342.0" r="2.95"/><circle cx="513.5" cy="348.7" r="2.95"/><circle cx="513.5" cy="355.3" r="2.95"/><circle cx="513.5" cy="361.9" r="2.95"/><circle cx="513.5" cy="383.7" r="2.95"/><circle cx="513.5" cy="387.8" r="2.95"/><circle cx="513.5" cy="391.9" r="2.95"/><circle cx="513.5" cy="396.0" r="2.95"/><circle cx="513.5" cy="400.1" r="2.95"/><circle cx="513.5" cy="404.2" r="2.95"/><circle cx="513.5" cy="408.3" r="2.95"/><circle cx="513.5" cy="412.4" r="2.95"/><circle cx="513.5" cy="416.4" r="2.95"/><circle cx="513.5" cy="420.5" r="2.95"/><circle cx="513.5" cy="424.6" r="2.95"/><circle cx="513.5" cy="428.7" r="2.95"/><circle cx="513.5" cy="432.8" r="2.95"/><circle cx="513.5" cy="436.9" r="2.95"/><circle cx="513.5" cy="441.0" r="2.95"/><circle cx="513.5" cy="445.1" r="2.95"/><circle cx="518.0" cy="380.7" r="2.95"/><circle cx="518.0" cy="384.6" r="2.95"/><circle cx="518.0" cy="388.4" r="2.95"/><circle cx="518.0" cy="392.3" r="2.95"/><circle cx="518.0" cy="396.2" r="2.95"/><circle cx="518.0" cy="400.0" r="2.95"/><circle cx="518.0" cy="403.9" r="2.95"/><circle cx="518.0" cy="407.8" r="2.95"/><circle cx="518.0" cy="411.7" r="2.95"/><circle cx="518.0" cy="415.5" r="2.95"/><circle cx="518.0" cy="419.4" r="2.95"/><circle cx="630.5" cy="382.7" r="2.95"/><circle cx="630.5" cy="387.6" r="2.95"/><circle cx="630.5" cy="396.6" r="2.95"/></g><polygon points="116.8,220.0 125.4,222.1 133.9,224.3 142.5,226.4 151.0,228.6 159.6,230.7 168.2,232.9 176.7,235.0 185.3,237.1 193.8,239.3 202.4,241.4 211.0,243.5 219.5,245.7 228.1,247.8 236.6,249.9 245.2,252.0 253.8,254.1 262.3,256.2 270.9,258.3 279.4,260.3 288.0,262.3 296.6,264.3 305.1,266.3 313.7,268.3 322.2,270.2 330.8,272.1 339.4,273.9 347.9,275.8 356.5,277.6 365.0,279.4 373.6,281.2 382.2,282.9 390.7,284.7 399.3,286.4 407.8,288.1 416.4,289.9 425.0,291.6 433.5,293.3 442.1,295.0 450.6,296.7 459.2,298.4 467.8,300.1 476.3,301.8 484.9,303.5 493.4,305.2 502.0,306.9 510.6,308.6 519.1,310.2 527.7,311.9 536.2,313.6 544.8,315.3 553.4,317.0 561.9,318.7 570.5,320.3 579.0,322.0 587.6,323.7 596.2,325.4 604.7,327.1 613.3,328.8 621.8,330.4 630.4,332.1 630.4,350.5 621.8,348.4 613.3,346.2 604.7,344.0 596.2,341.9 587.6,339.7 579.0,337.6 570.5,335.4 561.9,333.3 553.4,331.1 544.8,328.9 536.2,326.8 527.7,324.6 519.1,322.5 510.6,320.3 502.0,318.2 493.4,316.0 484.9,313.9 476.3,311.7 467.8,309.6 459.2,307.4 450.6,305.3 442.1,303.2 433.5,301.0 425.0,298.9 416.4,296.8 407.8,294.7 399.3,292.5 390.7,290.4 382.2,288.4 373.6,286.3 365.0,284.2 356.5,282.2 347.9,280.1 339.4,278.1 330.8,276.1 322.2,274.2 313.7,272.3 305.1,270.4 296.6,268.5 288.0,266.7 279.4,264.9 270.9,263.1 262.3,261.3 253.8,259.6 245.2,257.8 236.6,256.1 228.1,254.3 219.5,252.6 211.0,250.9 202.4,249.2 193.8,247.5 185.3,245.8 176.7,244.1 168.2,242.4 159.6,240.7 151.0,239.0 142.5,237.3 133.9,235.6 125.4,233.9 116.8,232.2" fill="#ff8080" fill-opacity="0.62" stroke="none"/><polyline points="116.8,226.1 125.4,228.0 133.9,229.9 142.5,231.9 151.0,233.8 159.6,235.7 168.2,237.6 176.7,239.5 185.3,241.5 193.8,243.4 202.4,245.3 211.0,247.2 219.5,249.2 228.1,251.1 236.6,253.0 245.2,254.9 253.8,256.8 262.3,258.8 270.9,260.7 279.4,262.6 288.0,264.5 296.6,266.4 305.1,268.4 313.7,270.3 322.2,272.2 330.8,274.1 339.4,276.0 347.9,278.0 356.5,279.9 365.0,281.8 373.6,283.7 382.2,285.6 390.7,287.6 399.3,289.5 407.8,291.4 416.4,293.3 425.0,295.2 433.5,297.2 442.1,299.1 450.6,301.0 459.2,302.9 467.8,304.8 476.3,306.8 484.9,308.7 493.4,310.6 502.0,312.5 510.6,314.4 519.1,316.4 527.7,318.3 536.2,320.2 544.8,322.1 553.4,324.0 561.9,326.0 570.5,327.9 579.0,329.8 587.6,331.7 596.2,333.6 604.7,335.6 613.3,337.5 621.8,339.4 630.4,341.3" fill="none" stroke="#f22a2a" stroke-width="1.3"/>
<rect x="77.2" y="6.6" width="601.3" height="479.8" fill="none" stroke="#000" stroke-width="2"/>
<path d="M114.8 486.4V495.4 M189.9 486.4V495.4 M265.1 486.4V495.4 M340.3 486.4V495.4 M415.4 486.4V495.4 M490.6 486.4V495.4 M565.8 486.4V495.4 M640.9 486.4V495.4 M77.2 486.4V491.4 M152.4 486.4V491.4 M227.5 486.4V491.4 M302.7 486.4V491.4 M377.8 486.4V491.4 M453.0 486.4V491.4 M528.2 486.4V491.4 M603.3 486.4V491.4 M678.5 486.4V491.4 M77.2 446.4H68.2 M77.2 366.4H68.2 M77.2 286.5H68.2 M77.2 206.5H68.2 M77.2 126.6H68.2 M77.2 46.6H68.2" stroke="#000" stroke-width="2" fill="none"/>
<text transform="translate(114.8,519.0) scale(1,1.09)" font-size="19" text-anchor="middle">0</text>
<text transform="translate(189.9,519.0) scale(1,1.09)" font-size="19" text-anchor="middle">1</text>
<text transform="translate(265.1,519.0) scale(1,1.09)" font-size="19" text-anchor="middle">2</text>
<text transform="translate(340.3,519.0) scale(1,1.09)" font-size="19" text-anchor="middle">3</text>
<text transform="translate(415.4,519.0) scale(1,1.09)" font-size="19" text-anchor="middle">4</text>
<text transform="translate(490.6,519.0) scale(1,1.09)" font-size="19" text-anchor="middle">5</text>
<text transform="translate(565.8,519.0) scale(1,1.09)" font-size="19" text-anchor="middle">6</text>
<text transform="translate(640.9,519.0) scale(1,1.09)" font-size="19" text-anchor="middle">7</text>
<text transform="translate(61.2,453.0) scale(1,1.09)" font-size="19" text-anchor="end">0</text>
<text transform="translate(61.2,373.1) scale(1,1.09)" font-size="19" text-anchor="end">2</text>
<text transform="translate(61.2,293.1) scale(1,1.09)" font-size="19" text-anchor="end">4</text>
<text transform="translate(61.2,213.1) scale(1,1.09)" font-size="19" text-anchor="end">6</text>
<text transform="translate(61.2,133.2) scale(1,1.09)" font-size="19" text-anchor="end">8</text>
<text transform="translate(61.2,53.2) scale(1,1.09)" font-size="19" text-anchor="end">10</text>
<text transform="translate(91.1,32.7) scale(1,1.07)" font-size="25">a</text>
<g transform="translate(1.87,0) scale(0.9964,1)"><g transform="translate(0,43.0) scale(1,1.07) translate(0,-43.0)"><text x="188.3" y="43.0" font-size="22.5"><tspan font-style="italic">Adj.R</tspan><tspan font-size="14.4" dy="-9.0">2</tspan><tspan dy="9.0">=0.08</tspan></text></g></g>
<g transform="translate(1.87,0) scale(0.9964,1)"><g transform="translate(0,71.2) scale(1,1.07) translate(0,-71.2)"><text x="188.3" y="71.2" font-size="22.5"><tspan font-style="italic">P</tspan></text><path d="M223.0 56.3L205.0 62.9L223.0 69.6" fill="none" stroke="#000" stroke-width="1.25"/><text x="226.3" y="71.2" font-size="22.5">0.001</text></g></g>
<g transform="translate(1.87,0) scale(0.9964,1)"><g transform="translate(0,99.0) scale(1,1.07) translate(0,-99.0)"><text x="188.3" y="99.0" font-size="22.5"><tspan font-style="italic">n</tspan>=2334</text></g></g>
<g transform="translate(-2.60,-0.65) scale(1.0076,1.0000)"><text x="377.9" y="561.9" font-size="25" text-anchor="middle">ln(1+Anode material area)  (cm<tspan font-size="17.5" dy="-11">2</tspan><tspan dy="11">)</tspan></text></g>
<g transform="translate(-0.85,10.47) scale(1.0000,1.0065)"><text transform="translate(30.6,234.5) rotate(-90)" font-size="25" text-anchor="middle">ln(1+Power density)  (mW/m<tspan font-size="17.5" dy="-11">2</tspan><tspan dy="11">)</tspan></text></g>
<g fill="none" stroke="#3434d4" stroke-width="1.1"><circle cx="863.7" cy="185.8" r="2.95"/><circle cx="863.7" cy="189.9" r="2.95"/><circle cx="863.7" cy="194.0" r="2.95"/><circle cx="863.7" cy="198.1" r="2.95"/><circle cx="863.7" cy="202.2" r="2.95"/><circle cx="863.7" cy="206.3" r="2.95"/><circle cx="863.7" cy="210.4" r="2.95"/><circle cx="863.7" cy="214.4" r="2.95"/><circle cx="863.7" cy="218.5" r="2.95"/><circle cx="863.7" cy="222.6" r="2.95"/><circle cx="863.7" cy="226.7" r="2.95"/><circle cx="863.7" cy="230.8" r="2.95"/><circle cx="863.7" cy="234.9" r="2.95"/><circle cx="863.7" cy="239.0" r="2.95"/><circle cx="863.7" cy="343.4" r="2.95"/><circle cx="874.6" cy="363.2" r="2.95"/><circle cx="874.6" cy="366.7" r="2.95"/><circle cx="874.6" cy="370.2" r="2.95"/><circle cx="874.6" cy="373.6" r="2.95"/><circle cx="874.6" cy="377.1" r="2.95"/><circle cx="874.6" cy="380.6" r="2.95"/><circle cx="874.6" cy="385.2" r="2.95"/><circle cx="874.6" cy="392.6" r="2.95"/><circle cx="874.6" cy="410.0" r="2.95"/><circle cx="908.5" cy="192.2" r="2.95"/><circle cx="908.5" cy="195.6" r="2.95"/><circle cx="908.5" cy="199.0" r="2.95"/><circle cx="908.5" cy="202.4" r="2.95"/><circle cx="908.5" cy="205.8" r="2.95"/><circle cx="908.5" cy="209.1" r="2.95"/><circle cx="908.5" cy="212.5" r="2.95"/><circle cx="908.5" cy="215.9" r="2.95"/><circle cx="908.5" cy="219.3" r="2.95"/><circle cx="908.5" cy="222.7" r="2.95"/><circle cx="908.5" cy="226.1" r="2.95"/><circle cx="908.5" cy="229.5" r="2.95"/><circle cx="908.5" cy="232.9" r="2.95"/><circle cx="908.5" cy="236.3" r="2.95"/><circle cx="908.5" cy="239.7" r="2.95"/><circle cx="908.5" cy="243.1" r="2.95"/><circle cx="908.5" cy="246.4" r="2.95"/><circle cx="908.5" cy="249.8" r="2.95"/><circle cx="908.5" cy="253.2" r="2.95"/><circle cx="908.5" cy="256.6" r="2.95"/><circle cx="908.5" cy="260.0" r="2.95"/><circle cx="908.5" cy="260.0" r="2.95"/><circle cx="908.5" cy="266.0" r="2.95"/><circle cx="908.5" cy="272.0" r="2.95"/><circle cx="908.5" cy="278.0" r="2.95"/><circle cx="908.5" cy="284.0" r="2.95"/><circle cx="908.5" cy="290.0" r="2.95"/><circle cx="908.5" cy="296.0" r="2.95"/><circle cx="908.5" cy="302.0" r="2.95"/><circle cx="908.5" cy="307.9" r="2.95"/><circle cx="908.5" cy="313.9" r="2.95"/><circle cx="908.5" cy="319.9" r="2.95"/><circle cx="908.5" cy="325.9" r="2.95"/><circle cx="908.5" cy="331.9" r="2.95"/><circle cx="908.5" cy="337.9" r="2.95"/><circle cx="908.5" cy="343.9" r="2.95"/><circle cx="908.5" cy="349.9" r="2.95"/><circle cx="908.5" cy="355.9" r="2.95"/><circle cx="908.5" cy="373.3" r="2.95"/><circle cx="908.5" cy="378.8" r="2.95"/><circle cx="908.5" cy="390.7" r="2.95"/><circle cx="908.5" cy="401.7" r="2.95"/><circle cx="908.5" cy="412.8" r="2.95"/><circle cx="955.3" cy="211.5" r="2.95"/><circle cx="955.3" cy="215.1" r="2.95"/><circle cx="955.3" cy="219.7" r="2.95"/><circle cx="955.3" cy="228.9" r="2.95"/><circle cx="970.3" cy="164.7" r="2.95"/><circle cx="970.3" cy="168.3" r="2.95"/><circle cx="970.3" cy="172.9" r="2.95"/><circle cx="970.3" cy="179.4" r="2.95"/><circle cx="970.3" cy="194.0" r="2.95"/><circle cx="970.3" cy="208.7" r="2.95"/><circle cx="970.3" cy="214.2" r="2.95"/><circle cx="970.3" cy="217.9" r="2.95"/><circle cx="970.3" cy="221.8" r="2.95"/><circle cx="970.3" cy="225.8" r="2.95"/><circle cx="970.3" cy="229.7" r="2.95"/><circle cx="970.3" cy="233.6" r="2.95"/><circle cx="970.3" cy="237.5" r="2.95"/><circle cx="970.3" cy="241.5" r="2.95"/><circle cx="970.3" cy="245.4" r="2.95"/><circle cx="970.3" cy="256.4" r="2.95"/><circle cx="970.3" cy="261.0" r="2.95"/><circle cx="970.3" cy="269.3" r="2.95"/><circle cx="982.2" cy="171.1" r="2.95"/><circle cx="982.2" cy="176.5" r="2.95"/><circle cx="982.2" cy="181.9" r="2.95"/><circle cx="982.2" cy="187.3" r="2.95"/><circle cx="982.2" cy="192.6" r="2.95"/><circle cx="982.2" cy="198.0" r="2.95"/><circle cx="982.2" cy="203.4" r="2.95"/><circle cx="982.2" cy="208.8" r="2.95"/><circle cx="982.2" cy="214.2" r="2.95"/><circle cx="982.2" cy="236.2" r="2.95"/><circle cx="982.2" cy="240.2" r="2.95"/><circle cx="982.2" cy="244.2" r="2.95"/><circle cx="982.2" cy="248.2" r="2.95"/><circle cx="982.2" cy="252.1" r="2.95"/><circle cx="982.2" cy="256.1" r="2.95"/><circle cx="982.2" cy="260.1" r="2.95"/><circle cx="982.2" cy="266.5" r="2.95"/><circle cx="992.7" cy="199.5" r="2.95"/><circle cx="992.7" cy="205.0" r="2.95"/><circle cx="992.7" cy="218.8" r="2.95"/><circle cx="992.7" cy="224.8" r="2.95"/><circle cx="992.7" cy="230.8" r="2.95"/><circle cx="992.7" cy="236.7" r="2.95"/><circle cx="992.7" cy="242.7" r="2.95"/><circle cx="992.7" cy="253.7" r="2.95"/><circle cx="992.7" cy="262.8" r="2.95"/><circle cx="992.7" cy="271.1" r="2.95"/><circle cx="992.7" cy="278.4" r="2.95"/><circle cx="992.7" cy="286.7" r="2.95"/><circle cx="992.7" cy="291.3" r="2.95"/><circle cx="992.7" cy="307.8" r="2.95"/><circle cx="1002.0" cy="206.9" r="2.95"/><circle cx="1002.0" cy="210.9" r="2.95"/><circle cx="1002.0" cy="214.9" r="2.95"/><circle cx="1002.0" cy="218.9" r="2.95"/><circle cx="1002.0" cy="223.0" r="2.95"/><circle cx="1002.0" cy="227.0" r="2.95"/><circle cx="1002.0" cy="231.0" r="2.95"/><circle cx="1002.0" cy="235.0" r="2.95"/><circle cx="1002.0" cy="239.0" r="2.95"/><circle cx="1002.0" cy="243.0" r="2.95"/><circle cx="1002.0" cy="247.1" r="2.95"/><circle cx="1002.0" cy="251.1" r="2.95"/><circle cx="1002.0" cy="255.1" r="2.95"/><circle cx="1002.0" cy="259.1" r="2.95"/><circle cx="1002.0" cy="263.1" r="2.95"/><circle cx="1002.0" cy="267.1" r="2.95"/><circle cx="1002.0" cy="271.1" r="2.95"/><circle cx="1002.0" cy="275.2" r="2.95"/><circle cx="1002.0" cy="279.2" r="2.95"/><circle cx="1002.0" cy="283.2" r="2.95"/><circle cx="1002.0" cy="287.2" r="2.95"/><circle cx="1002.0" cy="291.2" r="2.95"/><circle cx="1002.0" cy="295.2" r="2.95"/><circle cx="1002.0" cy="299.2" r="2.95"/><circle cx="1002.0" cy="303.3" r="2.95"/><circle cx="1002.0" cy="307.3" r="2.95"/><circle cx="1002.0" cy="311.3" r="2.95"/><circle cx="1002.0" cy="315.3" r="2.95"/><circle cx="1002.0" cy="319.3" r="2.95"/><circle cx="1002.0" cy="323.3" r="2.95"/><circle cx="1002.0" cy="327.4" r="2.95"/><circle cx="1002.0" cy="331.4" r="2.95"/><circle cx="1002.0" cy="335.4" r="2.95"/><circle cx="1002.0" cy="339.4" r="2.95"/><circle cx="1002.0" cy="345.8" r="2.95"/><circle cx="1002.0" cy="354.0" r="2.95"/><circle cx="1002.0" cy="358.6" r="2.95"/><circle cx="1002.0" cy="377.0" r="2.95"/><circle cx="1002.0" cy="380.6" r="2.95"/><circle cx="1002.0" cy="398.1" r="2.95"/><circle cx="1009.7" cy="191.3" r="2.95"/><circle cx="1009.7" cy="195.3" r="2.95"/><circle cx="1009.7" cy="199.3" r="2.95"/><circle cx="1009.7" cy="203.3" r="2.95"/><circle cx="1009.7" cy="207.3" r="2.95"/><circle cx="1009.7" cy="211.3" r="2.95"/><circle cx="1009.7" cy="215.3" r="2.95"/><circle cx="1009.7" cy="219.2" r="2.95"/><circle cx="1009.7" cy="223.2" r="2.95"/><circle cx="1009.7" cy="227.2" r="2.95"/><circle cx="1009.7" cy="231.2" r="2.95"/><circle cx="1009.7" cy="235.2" r="2.95"/><circle cx="1009.7" cy="239.2" r="2.95"/><circle cx="1009.7" cy="243.2" r="2.95"/><circle cx="1009.7" cy="247.2" r="2.95"/><circle cx="1009.7" cy="284.9" r="2.95"/><circle cx="1009.7" cy="333.9" r="2.95"/><circle cx="1015.7" cy="231.7" r="2.95"/><circle cx="1015.7" cy="238.6" r="2.95"/><circle cx="1015.7" cy="245.4" r="2.95"/><circle cx="1015.7" cy="252.3" r="2.95"/><circle cx="1015.7" cy="259.2" r="2.95"/><circle cx="1015.7" cy="266.1" r="2.95"/><circle cx="1015.7" cy="272.9" r="2.95"/><circle cx="1015.7" cy="279.8" r="2.95"/><circle cx="1015.7" cy="286.7" r="2.95"/><circle cx="1015.7" cy="293.5" r="2.95"/><circle cx="1015.7" cy="300.4" r="2.95"/><circle cx="1015.7" cy="307.3" r="2.95"/><circle cx="1015.7" cy="314.1" r="2.95"/><circle cx="1015.7" cy="321.0" r="2.95"/><circle cx="1015.7" cy="327.9" r="2.95"/><circle cx="1015.7" cy="334.8" r="2.95"/><circle cx="1015.7" cy="341.6" r="2.95"/><circle cx="1015.7" cy="348.5" r="2.95"/><circle cx="1022.9" cy="199.5" r="2.95"/><circle cx="1022.9" cy="203.6" r="2.95"/><circle cx="1022.9" cy="207.6" r="2.95"/><circle cx="1022.9" cy="211.7" r="2.95"/><circle cx="1022.9" cy="215.7" r="2.95"/><circle cx="1022.9" cy="219.8" r="2.95"/><circle cx="1022.9" cy="223.9" r="2.95"/><circle cx="1022.9" cy="227.9" r="2.95"/><circle cx="1022.9" cy="232.0" r="2.95"/><circle cx="1022.9" cy="236.0" r="2.95"/><circle cx="1022.9" cy="240.1" r="2.95"/><circle cx="1022.9" cy="244.1" r="2.95"/><circle cx="1022.9" cy="248.2" r="2.95"/><circle cx="1022.9" cy="252.3" r="2.95"/><circle cx="1022.9" cy="256.3" r="2.95"/><circle cx="1022.9" cy="260.4" r="2.95"/><circle cx="1022.9" cy="264.4" r="2.95"/><circle cx="1022.9" cy="268.5" r="2.95"/><circle cx="1022.9" cy="272.6" r="2.95"/><circle cx="1022.9" cy="276.6" r="2.95"/><circle cx="1022.9" cy="280.7" r="2.95"/><circle cx="1022.9" cy="284.7" r="2.95"/><circle cx="1022.9" cy="288.8" r="2.95"/><circle cx="1022.9" cy="292.9" r="2.95"/><circle cx="1022.9" cy="296.9" r="2.95"/><circle cx="1022.9" cy="301.0" r="2.95"/><circle cx="1022.9" cy="305.0" r="2.95"/><circle cx="1022.9" cy="309.1" r="2.95"/><circle cx="1022.9" cy="313.1" r="2.95"/><circle cx="1022.9" cy="317.2" r="2.95"/><circle cx="1022.9" cy="321.3" r="2.95"/><circle cx="1022.9" cy="325.3" r="2.95"/><circle cx="1022.9" cy="329.4" r="2.95"/><circle cx="1022.9" cy="333.4" r="2.95"/><circle cx="1022.9" cy="337.5" r="2.95"/><circle cx="1022.9" cy="389.8" r="2.95"/><circle cx="1037.0" cy="265.6" r="2.95"/><circle cx="1037.0" cy="269.7" r="2.95"/><circle cx="1037.0" cy="273.7" r="2.95"/><circle cx="1037.0" cy="277.8" r="2.95"/><circle cx="1037.0" cy="281.9" r="2.95"/><circle cx="1037.0" cy="285.9" r="2.95"/><circle cx="1037.0" cy="290.0" r="2.95"/><circle cx="1037.0" cy="294.1" r="2.95"/><circle cx="1037.0" cy="298.2" r="2.95"/><circle cx="1037.0" cy="302.2" r="2.95"/><circle cx="1037.0" cy="306.3" r="2.95"/><circle cx="1037.0" cy="310.4" r="2.95"/><circle cx="1037.0" cy="314.4" r="2.95"/><circle cx="1037.0" cy="318.5" r="2.95"/><circle cx="1037.0" cy="322.6" r="2.95"/><circle cx="1037.0" cy="326.6" r="2.95"/><circle cx="1037.0" cy="330.7" r="2.95"/><circle cx="1037.0" cy="334.8" r="2.95"/><circle cx="1037.0" cy="338.9" r="2.95"/><circle cx="1037.0" cy="342.9" r="2.95"/><circle cx="1037.0" cy="347.0" r="2.95"/><circle cx="1037.0" cy="351.1" r="2.95"/><circle cx="1037.0" cy="355.1" r="2.95"/><circle cx="1037.0" cy="359.2" r="2.95"/><circle cx="1037.0" cy="363.3" r="2.95"/><circle cx="1037.0" cy="367.3" r="2.95"/><circle cx="1037.0" cy="371.4" r="2.95"/><circle cx="1037.0" cy="375.5" r="2.95"/><circle cx="1037.0" cy="379.6" r="2.95"/><circle cx="1037.0" cy="383.6" r="2.95"/><circle cx="1037.0" cy="387.7" r="2.95"/><circle cx="1037.0" cy="391.8" r="2.95"/><circle cx="1037.0" cy="395.8" r="2.95"/><circle cx="1037.0" cy="399.9" r="2.95"/><circle cx="1043.7" cy="221.6" r="2.95"/><circle cx="1043.7" cy="228.2" r="2.95"/><circle cx="1043.7" cy="234.9" r="2.95"/><circle cx="1043.7" cy="241.5" r="2.95"/><circle cx="1043.7" cy="248.2" r="2.95"/><circle cx="1043.7" cy="254.8" r="2.95"/><circle cx="1043.7" cy="261.5" r="2.95"/><circle cx="1043.7" cy="268.1" r="2.95"/><circle cx="1043.7" cy="274.8" r="2.95"/><circle cx="1043.7" cy="281.4" r="2.95"/><circle cx="1043.7" cy="288.1" r="2.95"/><circle cx="1043.7" cy="294.7" r="2.95"/><circle cx="1043.7" cy="301.3" r="2.95"/><circle cx="1043.7" cy="308.0" r="2.95"/><circle cx="1043.7" cy="314.6" r="2.95"/><circle cx="1043.7" cy="321.3" r="2.95"/><circle cx="1043.7" cy="327.9" r="2.95"/><circle cx="1043.7" cy="334.6" r="2.95"/><circle cx="1043.7" cy="341.2" r="2.95"/><circle cx="1043.7" cy="347.9" r="2.95"/><circle cx="1043.7" cy="354.5" r="2.95"/><circle cx="1043.7" cy="361.2" r="2.95"/><circle cx="1043.7" cy="367.8" r="2.95"/><circle cx="1043.7" cy="394.4" r="2.95"/><circle cx="1043.7" cy="431.1" r="2.95"/><circle cx="1043.7" cy="434.1" r="2.95"/><circle cx="1043.7" cy="437.1" r="2.95"/><circle cx="1043.7" cy="440.0" r="2.95"/><circle cx="1043.7" cy="443.0" r="2.95"/><circle cx="1051.0" cy="184.0" r="2.95"/><circle cx="1051.0" cy="189.4" r="2.95"/><circle cx="1051.0" cy="194.0" r="2.95"/><circle cx="1051.0" cy="199.5" r="2.95"/><circle cx="1051.0" cy="203.2" r="2.95"/><circle cx="1051.0" cy="207.2" r="2.95"/><circle cx="1051.0" cy="211.3" r="2.95"/><circle cx="1051.0" cy="215.3" r="2.95"/><circle cx="1051.0" cy="219.3" r="2.95"/><circle cx="1051.0" cy="223.3" r="2.95"/><circle cx="1051.0" cy="227.4" r="2.95"/><circle cx="1051.0" cy="231.4" r="2.95"/><circle cx="1051.0" cy="235.4" r="2.95"/><circle cx="1051.0" cy="239.4" r="2.95"/><circle cx="1051.0" cy="243.5" r="2.95"/><circle cx="1051.0" cy="247.5" r="2.95"/><circle cx="1051.0" cy="251.5" r="2.95"/><circle cx="1051.0" cy="255.5" r="2.95"/><circle cx="1051.0" cy="259.6" r="2.95"/><circle cx="1051.0" cy="263.6" r="2.95"/><circle cx="1051.0" cy="267.6" r="2.95"/><circle cx="1051.0" cy="271.6" r="2.95"/><circle cx="1051.0" cy="275.7" r="2.95"/><circle cx="1051.0" cy="279.7" r="2.95"/><circle cx="1051.0" cy="283.7" r="2.95"/><circle cx="1051.0" cy="287.7" r="2.95"/><circle cx="1051.0" cy="291.8" r="2.95"/><circle cx="1051.0" cy="295.8" r="2.95"/><circle cx="1051.0" cy="299.8" r="2.95"/><circle cx="1051.0" cy="303.9" r="2.95"/><circle cx="1051.0" cy="307.9" r="2.95"/><circle cx="1051.0" cy="311.9" r="2.95"/><circle cx="1051.0" cy="315.9" r="2.95"/><circle cx="1051.0" cy="320.0" r="2.95"/><circle cx="1051.0" cy="324.0" r="2.95"/><circle cx="1051.0" cy="328.0" r="2.95"/><circle cx="1051.0" cy="332.0" r="2.95"/><circle cx="1051.0" cy="336.1" r="2.95"/><circle cx="1051.0" cy="340.1" r="2.95"/><circle cx="1051.0" cy="344.1" r="2.95"/><circle cx="1051.0" cy="348.1" r="2.95"/><circle cx="1051.0" cy="352.2" r="2.95"/><circle cx="1051.0" cy="356.2" r="2.95"/><circle cx="1051.0" cy="360.2" r="2.95"/><circle cx="1051.0" cy="364.2" r="2.95"/><circle cx="1051.0" cy="368.3" r="2.95"/><circle cx="1051.0" cy="372.3" r="2.95"/><circle cx="1051.0" cy="376.3" r="2.95"/><circle cx="1051.0" cy="380.3" r="2.95"/><circle cx="1051.0" cy="384.4" r="2.95"/><circle cx="1051.0" cy="388.4" r="2.95"/><circle cx="1051.0" cy="392.4" r="2.95"/><circle cx="1051.0" cy="396.4" r="2.95"/><circle cx="1051.0" cy="400.5" r="2.95"/><circle cx="1051.0" cy="404.5" r="2.95"/><circle cx="1051.0" cy="415.5" r="2.95"/><circle cx="1051.0" cy="421.9" r="2.95"/><circle cx="1051.0" cy="434.8" r="2.95"/><circle cx="1074.0" cy="236.2" r="2.95"/><circle cx="1074.0" cy="241.7" r="2.95"/><circle cx="1074.0" cy="250.0" r="2.95"/><circle cx="1074.0" cy="278.4" r="2.95"/><circle cx="1074.0" cy="282.1" r="2.95"/><circle cx="1074.0" cy="296.8" r="2.95"/><circle cx="1074.0" cy="302.3" r="2.95"/><circle cx="1074.0" cy="315.1" r="2.95"/><circle cx="1074.0" cy="320.6" r="2.95"/><circle cx="1074.0" cy="339.4" r="2.95"/><circle cx="1074.0" cy="365.0" r="2.95"/><circle cx="1080.2" cy="180.3" r="2.95"/><circle cx="1080.2" cy="184.9" r="2.95"/><circle cx="1080.2" cy="189.4" r="2.95"/><circle cx="1080.2" cy="202.3" r="2.95"/><circle cx="1080.2" cy="206.4" r="2.95"/><circle cx="1080.2" cy="210.5" r="2.95"/><circle cx="1080.2" cy="214.5" r="2.95"/><circle cx="1080.2" cy="218.6" r="2.95"/><circle cx="1080.2" cy="222.7" r="2.95"/><circle cx="1080.2" cy="226.8" r="2.95"/><circle cx="1080.2" cy="230.8" r="2.95"/><circle cx="1080.2" cy="234.9" r="2.95"/><circle cx="1080.2" cy="239.0" r="2.95"/><circle cx="1080.2" cy="243.1" r="2.95"/><circle cx="1080.2" cy="247.1" r="2.95"/><circle cx="1080.2" cy="251.2" r="2.95"/><circle cx="1080.2" cy="255.3" r="2.95"/><circle cx="1080.2" cy="259.4" r="2.95"/><circle cx="1080.2" cy="263.4" r="2.95"/><circle cx="1080.2" cy="267.5" r="2.95"/><circle cx="1080.2" cy="271.6" r="2.95"/><circle cx="1080.2" cy="275.7" r="2.95"/><circle cx="1080.2" cy="279.7" r="2.95"/><circle cx="1080.2" cy="283.8" r="2.95"/><circle cx="1080.2" cy="287.9" r="2.95"/><circle cx="1080.2" cy="292.0" r="2.95"/><circle cx="1080.2" cy="296.0" r="2.95"/><circle cx="1080.2" cy="300.1" r="2.95"/><circle cx="1080.2" cy="304.2" r="2.95"/><circle cx="1080.2" cy="308.2" r="2.95"/><circle cx="1080.2" cy="312.3" r="2.95"/><circle cx="1080.2" cy="316.4" r="2.95"/><circle cx="1080.2" cy="320.5" r="2.95"/><circle cx="1080.2" cy="324.6" r="2.95"/><circle cx="1080.2" cy="328.6" r="2.95"/><circle cx="1080.2" cy="332.7" r="2.95"/><circle cx="1080.2" cy="336.8" r="2.95"/><circle cx="1080.2" cy="340.9" r="2.95"/><circle cx="1080.2" cy="344.9" r="2.95"/><circle cx="1080.2" cy="349.0" r="2.95"/><circle cx="1080.2" cy="353.1" r="2.95"/><circle cx="1080.2" cy="357.2" r="2.95"/><circle cx="1080.2" cy="361.2" r="2.95"/><circle cx="1080.2" cy="365.3" r="2.95"/><circle cx="1080.2" cy="369.4" r="2.95"/><circle cx="1080.2" cy="373.5" r="2.95"/><circle cx="1080.2" cy="377.5" r="2.95"/><circle cx="1080.2" cy="381.6" r="2.95"/><circle cx="1092.0" cy="198.6" r="2.95"/><circle cx="1092.0" cy="202.6" r="2.95"/><circle cx="1092.0" cy="206.7" r="2.95"/><circle cx="1092.0" cy="210.7" r="2.95"/><circle cx="1092.0" cy="214.8" r="2.95"/><circle cx="1092.0" cy="218.8" r="2.95"/><circle cx="1092.0" cy="222.9" r="2.95"/><circle cx="1092.0" cy="226.9" r="2.95"/><circle cx="1092.0" cy="231.0" r="2.95"/><circle cx="1092.0" cy="235.0" r="2.95"/><circle cx="1092.0" cy="239.0" r="2.95"/><circle cx="1092.0" cy="243.1" r="2.95"/><circle cx="1092.0" cy="247.1" r="2.95"/><circle cx="1092.0" cy="251.2" r="2.95"/><circle cx="1092.0" cy="255.2" r="2.95"/><circle cx="1092.0" cy="259.3" r="2.95"/><circle cx="1092.0" cy="263.3" r="2.95"/><circle cx="1092.0" cy="267.4" r="2.95"/><circle cx="1092.0" cy="271.4" r="2.95"/><circle cx="1092.0" cy="275.4" r="2.95"/><circle cx="1092.0" cy="279.5" r="2.95"/><circle cx="1092.0" cy="283.5" r="2.95"/><circle cx="1092.0" cy="287.6" r="2.95"/><circle cx="1092.0" cy="291.6" r="2.95"/><circle cx="1092.0" cy="295.7" r="2.95"/><circle cx="1092.0" cy="299.7" r="2.95"/><circle cx="1092.0" cy="303.8" r="2.95"/><circle cx="1092.0" cy="307.8" r="2.95"/><circle cx="1092.0" cy="331.1" r="2.95"/><circle cx="1092.0" cy="346.7" r="2.95"/><circle cx="1092.0" cy="363.2" r="2.95"/><circle cx="1092.0" cy="417.2" r="2.95"/><circle cx="1092.0" cy="422.1" r="2.95"/><circle cx="1092.0" cy="427.0" r="2.95"/><circle cx="1092.0" cy="432.0" r="2.95"/><circle cx="1092.0" cy="436.9" r="2.95"/><circle cx="1096.7" cy="368.7" r="2.95"/><circle cx="1096.7" cy="374.2" r="2.95"/><circle cx="1096.7" cy="379.7" r="2.95"/><circle cx="1096.7" cy="385.2" r="2.95"/><circle cx="1096.7" cy="390.7" r="2.95"/><circle cx="1096.7" cy="396.2" r="2.95"/><circle cx="1096.7" cy="401.8" r="2.95"/><circle cx="1096.7" cy="407.3" r="2.95"/><circle cx="1096.7" cy="412.8" r="2.95"/><circle cx="1096.7" cy="418.3" r="2.95"/><circle cx="1096.7" cy="423.8" r="2.95"/><circle cx="1096.7" cy="429.3" r="2.95"/><circle cx="1103.6" cy="345.0" r="2.95"/><circle cx="1103.6" cy="359.2" r="2.95"/><circle cx="1103.6" cy="373.4" r="2.95"/><circle cx="1103.6" cy="382.2" r="2.95"/><circle cx="1103.6" cy="393.1" r="2.95"/><circle cx="1103.6" cy="403.0" r="2.95"/><circle cx="1103.6" cy="424.9" r="2.95"/><circle cx="1103.6" cy="434.7" r="2.95"/><circle cx="1103.6" cy="443.5" r="2.95"/><circle cx="1103.6" cy="459.9" r="2.95"/><circle cx="1103.6" cy="463.1" r="2.95"/><circle cx="1110.8" cy="235.5" r="2.95"/><circle cx="1110.8" cy="241.0" r="2.95"/><circle cx="1110.8" cy="254.2" r="2.95"/><circle cx="1110.8" cy="268.4" r="2.95"/><circle cx="1110.8" cy="276.1" r="2.95"/><circle cx="1110.8" cy="288.1" r="2.95"/><circle cx="1110.8" cy="306.7" r="2.95"/><circle cx="1110.8" cy="326.4" r="2.95"/><circle cx="1114.5" cy="403.0" r="2.95"/><circle cx="1114.5" cy="408.1" r="2.95"/><circle cx="1114.5" cy="413.2" r="2.95"/><circle cx="1114.5" cy="418.3" r="2.95"/><circle cx="1114.5" cy="423.4" r="2.95"/><circle cx="1114.5" cy="428.5" r="2.95"/><circle cx="1114.5" cy="433.6" r="2.95"/><circle cx="1125.0" cy="250.9" r="2.95"/><circle cx="1125.0" cy="256.5" r="2.95"/><circle cx="1125.0" cy="262.2" r="2.95"/><circle cx="1125.0" cy="267.8" r="2.95"/><circle cx="1125.0" cy="273.4" r="2.95"/><circle cx="1125.0" cy="279.0" r="2.95"/><circle cx="1125.0" cy="284.7" r="2.95"/><circle cx="1125.0" cy="290.3" r="2.95"/><circle cx="1125.0" cy="310.0" r="2.95"/><circle cx="1125.0" cy="323.1" r="2.95"/><circle cx="1123.9" cy="334.1" r="2.95"/><circle cx="1123.9" cy="339.5" r="2.95"/><circle cx="1123.9" cy="344.9" r="2.95"/><circle cx="1123.9" cy="350.3" r="2.95"/><circle cx="1123.9" cy="355.6" r="2.95"/><circle cx="1123.9" cy="361.0" r="2.95"/><circle cx="1123.9" cy="366.4" r="2.95"/><circle cx="1123.9" cy="371.8" r="2.95"/><circle cx="1123.9" cy="377.2" r="2.95"/><circle cx="1123.9" cy="382.6" r="2.95"/><circle cx="1123.9" cy="387.9" r="2.95"/><circle cx="1123.9" cy="393.3" r="2.95"/><circle cx="1123.9" cy="398.7" r="2.95"/><circle cx="1123.9" cy="404.1" r="2.95"/><circle cx="1133.3" cy="396.4" r="2.95"/><circle cx="1133.3" cy="401.7" r="2.95"/><circle cx="1133.3" cy="407.0" r="2.95"/><circle cx="1133.3" cy="412.2" r="2.95"/><circle cx="1133.3" cy="417.5" r="2.95"/><circle cx="1133.3" cy="422.8" r="2.95"/><circle cx="1133.3" cy="428.1" r="2.95"/><circle cx="1136.0" cy="190.6" r="2.95"/><circle cx="1136.0" cy="195.0" r="2.95"/><circle cx="1136.0" cy="201.6" r="2.95"/><circle cx="1136.0" cy="208.1" r="2.95"/><circle cx="1136.0" cy="220.2" r="2.95"/><circle cx="1136.0" cy="231.1" r="2.95"/><circle cx="1136.0" cy="369.1" r="2.95"/><circle cx="1141.4" cy="236.6" r="2.95"/><circle cx="1141.4" cy="242.1" r="2.95"/><circle cx="1141.4" cy="247.6" r="2.95"/><circle cx="1141.4" cy="253.1" r="2.95"/><circle cx="1141.4" cy="258.6" r="2.95"/><circle cx="1141.4" cy="264.1" r="2.95"/><circle cx="1141.4" cy="288.1" r="2.95"/><circle cx="1141.4" cy="301.3" r="2.95"/><circle cx="1141.4" cy="377.8" r="2.95"/><circle cx="1141.4" cy="383.0" r="2.95"/><circle cx="1141.4" cy="388.2" r="2.95"/><circle cx="1141.4" cy="393.4" r="2.95"/><circle cx="1141.4" cy="398.6" r="2.95"/><circle cx="1141.4" cy="403.8" r="2.95"/><circle cx="1141.4" cy="409.0" r="2.95"/><circle cx="1141.4" cy="414.2" r="2.95"/><circle cx="1141.4" cy="419.4" r="2.95"/><circle cx="1141.4" cy="432.5" r="2.95"/><circle cx="1141.4" cy="438.0" r="2.95"/><circle cx="1141.4" cy="464.2" r="2.95"/><circle cx="1152.5" cy="146.9" r="2.95"/><circle cx="1152.5" cy="150.3" r="2.95"/><circle cx="1152.5" cy="153.8" r="2.95"/><circle cx="1152.5" cy="157.2" r="2.95"/><circle cx="1152.5" cy="160.6" r="2.95"/><circle cx="1152.5" cy="164.0" r="2.95"/><circle cx="1152.5" cy="167.5" r="2.95"/><circle cx="1152.5" cy="170.9" r="2.95"/><circle cx="1152.5" cy="174.3" r="2.95"/><circle cx="1152.5" cy="177.7" r="2.95"/><circle cx="1152.5" cy="181.2" r="2.95"/><circle cx="1152.5" cy="184.6" r="2.95"/><circle cx="1152.5" cy="188.0" r="2.95"/><circle cx="1152.5" cy="191.4" r="2.95"/><circle cx="1152.5" cy="194.9" r="2.95"/><circle cx="1152.5" cy="198.3" r="2.95"/><circle cx="1152.5" cy="201.7" r="2.95"/><circle cx="1152.5" cy="205.2" r="2.95"/><circle cx="1152.5" cy="208.6" r="2.95"/><circle cx="1152.5" cy="212.0" r="2.95"/><circle cx="1152.5" cy="215.4" r="2.95"/><circle cx="1152.5" cy="218.9" r="2.95"/><circle cx="1152.5" cy="222.3" r="2.95"/><circle cx="1152.5" cy="225.7" r="2.95"/><circle cx="1152.5" cy="229.1" r="2.95"/><circle cx="1152.5" cy="232.6" r="2.95"/><circle cx="1152.5" cy="236.0" r="2.95"/><circle cx="1152.5" cy="239.4" r="2.95"/><circle cx="1152.5" cy="242.8" r="2.95"/><circle cx="1152.5" cy="246.3" r="2.95"/><circle cx="1152.5" cy="249.7" r="2.95"/><circle cx="1152.5" cy="249.7" r="2.95"/><circle cx="1152.5" cy="254.7" r="2.95"/><circle cx="1152.5" cy="259.7" r="2.95"/><circle cx="1152.5" cy="264.7" r="2.95"/><circle cx="1152.5" cy="269.8" r="2.95"/><circle cx="1152.5" cy="274.8" r="2.95"/><circle cx="1152.5" cy="279.8" r="2.95"/><circle cx="1152.5" cy="284.8" r="2.95"/><circle cx="1152.5" cy="305.6" r="2.95"/><circle cx="1171.4" cy="293.6" r="2.95"/><circle cx="1171.4" cy="298.3" r="2.95"/><circle cx="1171.4" cy="303.0" r="2.95"/><circle cx="1171.4" cy="307.8" r="2.95"/><circle cx="1171.4" cy="312.5" r="2.95"/><circle cx="1171.4" cy="317.2" r="2.95"/><circle cx="1171.4" cy="321.9" r="2.95"/><circle cx="1171.4" cy="326.6" r="2.95"/><circle cx="1171.4" cy="331.4" r="2.95"/><circle cx="1171.4" cy="336.1" r="2.95"/><circle cx="1171.4" cy="340.8" r="2.95"/><circle cx="1171.4" cy="345.5" r="2.95"/><circle cx="1171.4" cy="350.2" r="2.95"/><circle cx="1171.4" cy="355.0" r="2.95"/><circle cx="1171.4" cy="359.7" r="2.95"/><circle cx="1171.4" cy="364.4" r="2.95"/><circle cx="1171.4" cy="369.1" r="2.95"/><circle cx="1171.4" cy="373.8" r="2.95"/><circle cx="1171.4" cy="378.6" r="2.95"/><circle cx="1171.4" cy="383.3" r="2.95"/><circle cx="1171.4" cy="388.0" r="2.95"/><circle cx="1171.4" cy="392.7" r="2.95"/><circle cx="1171.4" cy="397.4" r="2.95"/><circle cx="1171.4" cy="402.2" r="2.95"/><circle cx="1171.4" cy="406.9" r="2.95"/><circle cx="1171.4" cy="411.6" r="2.95"/><circle cx="1171.4" cy="416.3" r="2.95"/><circle cx="1171.4" cy="421.0" r="2.95"/><circle cx="1171.4" cy="425.8" r="2.95"/><circle cx="1171.4" cy="430.5" r="2.95"/><circle cx="1171.4" cy="435.2" r="2.95"/><circle cx="1171.4" cy="439.9" r="2.95"/><circle cx="1171.4" cy="444.6" r="2.95"/><circle cx="1171.4" cy="449.4" r="2.95"/><circle cx="1171.4" cy="454.1" r="2.95"/><circle cx="1171.4" cy="458.8" r="2.95"/><circle cx="1216.9" cy="336.3" r="2.95"/><circle cx="1216.9" cy="341.5" r="2.95"/><circle cx="1216.9" cy="346.7" r="2.95"/><circle cx="1216.9" cy="351.9" r="2.95"/><circle cx="1216.9" cy="357.1" r="2.95"/><circle cx="1216.9" cy="362.2" r="2.95"/><circle cx="1216.9" cy="367.4" r="2.95"/><circle cx="1216.9" cy="372.6" r="2.95"/><circle cx="1216.9" cy="377.8" r="2.95"/><circle cx="1216.9" cy="400.8" r="2.95"/><circle cx="1216.9" cy="406.1" r="2.95"/><circle cx="1216.9" cy="411.4" r="2.95"/><circle cx="1216.9" cy="416.6" r="2.95"/><circle cx="1216.9" cy="421.9" r="2.95"/><circle cx="1216.9" cy="427.2" r="2.95"/><circle cx="1216.9" cy="432.5" r="2.95"/><circle cx="1216.9" cy="437.8" r="2.95"/><circle cx="1216.9" cy="443.1" r="2.95"/><circle cx="1216.9" cy="448.4" r="2.95"/><circle cx="1216.9" cy="453.6" r="2.95"/><circle cx="1216.9" cy="458.9" r="2.95"/><circle cx="1216.9" cy="464.2" r="2.95"/><circle cx="1244.2" cy="330.8" r="2.95"/><circle cx="1244.2" cy="336.3" r="2.95"/><circle cx="1244.2" cy="341.7" r="2.95"/><circle cx="1244.2" cy="347.2" r="2.95"/><circle cx="1244.2" cy="352.6" r="2.95"/><circle cx="1244.2" cy="358.1" r="2.95"/><circle cx="1244.2" cy="363.6" r="2.95"/><circle cx="1244.2" cy="369.0" r="2.95"/><circle cx="1244.2" cy="374.5" r="2.95"/><circle cx="1278.1" cy="53.9" r="2.95"/><circle cx="1278.1" cy="57.3" r="2.95"/><circle cx="1278.1" cy="60.7" r="2.95"/><circle cx="1278.1" cy="64.1" r="2.95"/><circle cx="1278.1" cy="67.5" r="2.95"/><circle cx="1278.1" cy="70.9" r="2.95"/><circle cx="1278.1" cy="74.3" r="2.95"/><circle cx="1278.1" cy="77.7" r="2.95"/><circle cx="1278.1" cy="81.1" r="2.95"/><circle cx="1278.1" cy="84.5" r="2.95"/><circle cx="1278.1" cy="88.0" r="2.95"/><circle cx="1278.1" cy="91.4" r="2.95"/><circle cx="1278.1" cy="94.8" r="2.95"/><circle cx="1278.1" cy="98.2" r="2.95"/><circle cx="1278.1" cy="101.6" r="2.95"/><circle cx="1278.1" cy="105.0" r="2.95"/><circle cx="1278.1" cy="108.4" r="2.95"/><circle cx="1278.1" cy="111.8" r="2.95"/><circle cx="1278.1" cy="115.2" r="2.95"/><circle cx="1278.1" cy="121.7" r="2.95"/><circle cx="1278.1" cy="127.2" r="2.95"/><circle cx="1278.1" cy="132.7" r="2.95"/><circle cx="1278.1" cy="138.1" r="2.95"/><circle cx="1278.1" cy="143.6" r="2.95"/><circle cx="1278.1" cy="157.8" r="2.95"/><circle cx="1278.1" cy="163.3" r="2.95"/><circle cx="1278.1" cy="187.4" r="2.95"/><circle cx="1321.2" cy="399.7" r="2.95"/><circle cx="1321.2" cy="405.2" r="2.95"/><circle cx="1321.2" cy="413.9" r="2.95"/><circle cx="1355.8" cy="433.6" r="2.95"/><circle cx="1355.8" cy="437.6" r="2.95"/><circle cx="1355.8" cy="441.5" r="2.95"/><circle cx="1355.8" cy="445.5" r="2.95"/><circle cx="1355.8" cy="449.5" r="2.95"/><circle cx="1355.8" cy="453.4" r="2.95"/><circle cx="1355.8" cy="457.4" r="2.95"/><circle cx="1355.8" cy="461.3" r="2.95"/><circle cx="1355.8" cy="465.3" r="2.95"/></g><polygon points="863.6,237.8 871.8,239.9 880.0,242.0 888.2,244.1 896.4,246.1 904.6,248.2 912.8,250.3 921.0,252.3 929.3,254.4 937.5,256.4 945.7,258.4 953.9,260.5 962.1,262.5 970.3,264.5 978.5,266.5 986.7,268.5 995.0,270.5 1003.2,272.5 1011.4,274.4 1019.6,276.3 1027.8,278.3 1036.0,280.2 1044.2,282.1 1052.4,284.0 1060.6,285.8 1068.9,287.7 1077.1,289.5 1085.3,291.3 1093.5,293.1 1101.7,294.9 1109.9,296.7 1118.1,298.5 1126.3,300.2 1134.6,301.9 1142.8,303.7 1151.0,305.4 1159.2,307.1 1167.4,308.8 1175.6,310.5 1183.8,312.2 1192.0,313.9 1200.2,315.6 1208.5,317.3 1216.7,319.0 1224.9,320.7 1233.1,322.4 1241.3,324.0 1249.5,325.7 1257.7,327.4 1265.9,329.0 1274.1,330.7 1282.4,332.4 1290.6,334.0 1298.8,335.7 1307.0,337.3 1315.2,339.0 1323.4,340.6 1331.6,342.3 1339.8,343.9 1348.1,345.6 1356.3,347.2 1356.3,367.0 1348.1,364.9 1339.8,362.8 1331.6,360.7 1323.4,358.6 1315.2,356.5 1307.0,354.4 1298.8,352.3 1290.6,350.2 1282.4,348.1 1274.1,346.0 1265.9,343.9 1257.7,341.8 1249.5,339.7 1241.3,337.7 1233.1,335.6 1224.9,333.5 1216.7,331.4 1208.5,329.4 1200.2,327.3 1192.0,325.2 1183.8,323.2 1175.6,321.1 1167.4,319.1 1159.2,317.0 1151.0,315.0 1142.8,313.0 1134.6,311.0 1126.3,308.9 1118.1,307.0 1109.9,305.0 1101.7,303.0 1093.5,301.0 1085.3,299.1 1077.1,297.1 1068.9,295.2 1060.6,293.3 1052.4,291.4 1044.2,289.6 1036.0,287.7 1027.8,285.9 1019.6,284.0 1011.4,282.2 1003.2,280.4 995.0,278.6 986.7,276.9 978.5,275.1 970.3,273.4 962.1,271.6 953.9,269.9 945.7,268.2 937.5,266.4 929.3,264.7 921.0,263.0 912.8,261.3 904.6,259.6 896.4,257.9 888.2,256.3 880.0,254.6 871.8,252.9 863.6,251.2" fill="#ff8080" fill-opacity="0.62" stroke="none"/><polyline points="863.6,244.5 871.8,246.4 880.0,248.3 888.2,250.2 896.4,252.0 904.6,253.9 912.8,255.8 921.0,257.7 929.3,259.5 937.5,261.4 945.7,263.3 953.9,265.2 962.1,267.1 970.3,268.9 978.5,270.8 986.7,272.7 995.0,274.6 1003.2,276.4 1011.4,278.3 1019.6,280.2 1027.8,282.1 1036.0,283.9 1044.2,285.8 1052.4,287.7 1060.6,289.6 1068.9,291.4 1077.1,293.3 1085.3,295.2 1093.5,297.1 1101.7,298.9 1109.9,300.8 1118.1,302.7 1126.3,304.6 1134.6,306.5 1142.8,308.3 1151.0,310.2 1159.2,312.1 1167.4,314.0 1175.6,315.8 1183.8,317.7 1192.0,319.6 1200.2,321.5 1208.5,323.3 1216.7,325.2 1224.9,327.1 1233.1,329.0 1241.3,330.8 1249.5,332.7 1257.7,334.6 1265.9,336.5 1274.1,338.3 1282.4,340.2 1290.6,342.1 1298.8,344.0 1307.0,345.9 1315.2,347.7 1323.4,349.6 1331.6,351.5 1339.8,353.4 1348.1,355.2 1356.3,357.1" fill="none" stroke="#f22a2a" stroke-width="1.3"/>
<rect x="796.0" y="6.6" width="601.5" height="479.8" fill="none" stroke="#000" stroke-width="2"/>
<path d="M796.0 486.4V495.4 M862.8 486.4V495.4 M929.7 486.4V495.4 M996.5 486.4V495.4 M1063.3 486.4V495.4 M1130.2 486.4V495.4 M1197.0 486.4V495.4 M1263.8 486.4V495.4 M1330.7 486.4V495.4 M1397.5 486.4V495.4 M829.4 486.4V491.4 M896.2 486.4V491.4 M963.1 486.4V491.4 M1029.9 486.4V491.4 M1096.8 486.4V491.4 M1163.6 486.4V491.4 M1230.4 486.4V491.4 M1297.2 486.4V491.4 M1364.1 486.4V491.4 M796.0 465.5H787.0 M796.0 382.1H787.0 M796.0 298.7H787.0 M796.0 215.2H787.0 M796.0 131.8H787.0 M796.0 48.3H787.0" stroke="#000" stroke-width="2" fill="none"/>
<text transform="translate(796.0,519.0) scale(1,1.09)" font-size="19" text-anchor="middle">−1</text>
<text transform="translate(862.8,519.0) scale(1,1.09)" font-size="19" text-anchor="middle">0</text>
<text transform="translate(929.7,519.0) scale(1,1.09)" font-size="19" text-anchor="middle">1</text>
<text transform="translate(996.5,519.0) scale(1,1.09)" font-size="19" text-anchor="middle">2</text>
<text transform="translate(1063.3,519.0) scale(1,1.09)" font-size="19" text-anchor="middle">3</text>
<text transform="translate(1130.2,519.0) scale(1,1.09)" font-size="19" text-anchor="middle">4</text>
<text transform="translate(1197.0,519.0) scale(1,1.09)" font-size="19" text-anchor="middle">5</text>
<text transform="translate(1263.8,519.0) scale(1,1.09)" font-size="19" text-anchor="middle">6</text>
<text transform="translate(1330.7,519.0) scale(1,1.09)" font-size="19" text-anchor="middle">7</text>
<text transform="translate(1397.5,519.0) scale(1,1.09)" font-size="19" text-anchor="middle">8</text>
<text transform="translate(780.0,472.1) scale(1,1.09)" font-size="19" text-anchor="end">0</text>
<text transform="translate(780.0,388.7) scale(1,1.09)" font-size="19" text-anchor="end">2</text>
<text transform="translate(780.0,305.3) scale(1,1.09)" font-size="19" text-anchor="end">4</text>
<text transform="translate(780.0,221.8) scale(1,1.09)" font-size="19" text-anchor="end">6</text>
<text transform="translate(780.0,138.4) scale(1,1.09)" font-size="19" text-anchor="end">8</text>
<text transform="translate(780.0,54.9) scale(1,1.09)" font-size="19" text-anchor="end">10</text>
<text transform="translate(805.6,42.3) scale(1,1.07)" font-size="25">b</text>
<g transform="translate(-4.23,0) scale(1.0055,1)"><g transform="translate(0,42.1) scale(1,1.07) translate(0,-42.1)"><text x="916.7" y="42.1" font-size="22.5"><tspan font-style="italic">Adj.R</tspan><tspan font-size="14.4" dy="-9.0">2</tspan><tspan dy="9.0">=0.08</tspan></text></g></g>
<g transform="translate(-4.23,0) scale(1.0055,1)"><g transform="translate(0,70.1) scale(1,1.07) translate(0,-70.1)"><text x="916.7" y="70.1" font-size="22.5"><tspan font-style="italic">P</tspan></text><path d="M951.4 55.2L933.4 61.8L951.4 68.5" fill="none" stroke="#000" stroke-width="1.25"/><text x="954.7" y="70.1" font-size="22.5">0.001</text></g></g>
<g transform="translate(-4.23,0) scale(1.0055,1)"><g transform="translate(0,98.0) scale(1,1.07) translate(0,-98.0)"><text x="916.7" y="98.0" font-size="22.5"><tspan font-style="italic">n</tspan>=2280</text></g></g>
<g transform="translate(-10.78,-0.65) scale(1.0104,1.0000)"><text x="1096.8" y="561.9" font-size="25" text-anchor="middle">ln(1+Cathode material area)  (cm<tspan font-size="17.5" dy="-11">2</tspan><tspan dy="11">)</tspan></text></g>
<g transform="translate(-1.20,10.40) scale(1.0000,1.0075)"><text transform="translate(749.4,234.5) rotate(-90)" font-size="25" text-anchor="middle">ln(1+Power density)  (mW/m<tspan font-size="17.5" dy="-11">2</tspan><tspan dy="11">)</tspan></text></g>
<g fill="none" stroke="#3434d4" stroke-width="1.1"><circle cx="150.6" cy="752.6" r="2.95"/><circle cx="150.6" cy="756.8" r="2.95"/><circle cx="150.6" cy="760.9" r="2.95"/><circle cx="150.6" cy="765.1" r="2.95"/><circle cx="150.6" cy="769.2" r="2.95"/><circle cx="150.6" cy="773.4" r="2.95"/><circle cx="150.6" cy="777.5" r="2.95"/><circle cx="150.6" cy="781.6" r="2.95"/><circle cx="150.6" cy="785.8" r="2.95"/><circle cx="150.6" cy="790.0" r="2.95"/><circle cx="150.6" cy="794.1" r="2.95"/><circle cx="150.6" cy="798.2" r="2.95"/><circle cx="150.6" cy="802.4" r="2.95"/><circle cx="150.6" cy="806.6" r="2.95"/><circle cx="150.6" cy="810.7" r="2.95"/><circle cx="150.6" cy="814.9" r="2.95"/><circle cx="150.6" cy="819.0" r="2.95"/><circle cx="150.6" cy="823.1" r="2.95"/><circle cx="150.6" cy="827.3" r="2.95"/><circle cx="150.6" cy="831.5" r="2.95"/><circle cx="150.6" cy="835.6" r="2.95"/><circle cx="243.5" cy="776.3" r="2.95"/><circle cx="243.5" cy="780.8" r="2.95"/><circle cx="243.5" cy="785.3" r="2.95"/><circle cx="243.5" cy="789.8" r="2.95"/><circle cx="243.5" cy="794.3" r="2.95"/><circle cx="243.5" cy="798.8" r="2.95"/><circle cx="243.5" cy="803.3" r="2.95"/><circle cx="243.5" cy="807.8" r="2.95"/><circle cx="243.5" cy="812.3" r="2.95"/><circle cx="243.5" cy="816.8" r="2.95"/><circle cx="243.5" cy="837.6" r="2.95"/><circle cx="243.5" cy="842.5" r="2.95"/><circle cx="243.5" cy="847.5" r="2.95"/><circle cx="243.5" cy="852.4" r="2.95"/><circle cx="243.5" cy="857.3" r="2.95"/><circle cx="243.5" cy="862.3" r="2.95"/><circle cx="243.5" cy="867.2" r="2.95"/><circle cx="281.0" cy="813.9" r="2.95"/><circle cx="281.0" cy="819.0" r="2.95"/><circle cx="281.0" cy="824.1" r="2.95"/><circle cx="281.0" cy="829.3" r="2.95"/><circle cx="281.0" cy="834.4" r="2.95"/><circle cx="281.0" cy="839.5" r="2.95"/><circle cx="281.0" cy="844.6" r="2.95"/><circle cx="281.0" cy="849.8" r="2.95"/><circle cx="281.0" cy="854.9" r="2.95"/><circle cx="281.0" cy="860.0" r="2.95"/><circle cx="281.0" cy="860.0" r="2.95"/><circle cx="281.0" cy="864.1" r="2.95"/><circle cx="281.0" cy="868.1" r="2.95"/><circle cx="281.0" cy="872.2" r="2.95"/><circle cx="281.0" cy="876.2" r="2.95"/><circle cx="281.0" cy="880.3" r="2.95"/><circle cx="281.0" cy="884.3" r="2.95"/><circle cx="281.0" cy="888.4" r="2.95"/><circle cx="281.0" cy="892.4" r="2.95"/><circle cx="281.0" cy="896.5" r="2.95"/><circle cx="281.0" cy="900.5" r="2.95"/><circle cx="281.0" cy="904.6" r="2.95"/><circle cx="281.0" cy="908.6" r="2.95"/><circle cx="281.0" cy="912.7" r="2.95"/><circle cx="281.0" cy="916.7" r="2.95"/><circle cx="281.0" cy="920.8" r="2.95"/><circle cx="281.0" cy="924.8" r="2.95"/><circle cx="281.0" cy="928.9" r="2.95"/><circle cx="281.0" cy="932.9" r="2.95"/><circle cx="281.0" cy="937.0" r="2.95"/><circle cx="281.0" cy="951.9" r="2.95"/><circle cx="281.0" cy="955.8" r="2.95"/><circle cx="281.0" cy="973.6" r="2.95"/><circle cx="281.0" cy="976.6" r="2.95"/><circle cx="281.0" cy="993.4" r="2.95"/><circle cx="283.0" cy="813.0" r="2.95"/><circle cx="283.0" cy="818.5" r="2.95"/><circle cx="283.0" cy="824.0" r="2.95"/><circle cx="283.0" cy="829.5" r="2.95"/><circle cx="283.0" cy="835.0" r="2.95"/><circle cx="300.2" cy="808.0" r="2.95"/><circle cx="300.2" cy="812.9" r="2.95"/><circle cx="300.2" cy="825.7" r="2.95"/><circle cx="313.6" cy="770.4" r="2.95"/><circle cx="313.6" cy="774.4" r="2.95"/><circle cx="313.6" cy="784.2" r="2.95"/><circle cx="313.6" cy="797.1" r="2.95"/><circle cx="313.6" cy="811.9" r="2.95"/><circle cx="313.6" cy="816.8" r="2.95"/><circle cx="313.6" cy="832.6" r="2.95"/><circle cx="313.6" cy="861.3" r="2.95"/><circle cx="313.6" cy="870.2" r="2.95"/><circle cx="345.8" cy="855.4" r="2.95"/><circle cx="345.8" cy="859.3" r="2.95"/><circle cx="345.8" cy="864.3" r="2.95"/><circle cx="345.8" cy="873.2" r="2.95"/><circle cx="345.8" cy="893.6" r="2.95"/><circle cx="345.8" cy="899.1" r="2.95"/><circle cx="345.8" cy="904.6" r="2.95"/><circle cx="345.8" cy="910.1" r="2.95"/><circle cx="345.8" cy="915.6" r="2.95"/><circle cx="345.8" cy="921.0" r="2.95"/><circle cx="345.8" cy="926.5" r="2.95"/><circle cx="345.8" cy="932.0" r="2.95"/><circle cx="345.8" cy="937.5" r="2.95"/><circle cx="345.8" cy="943.0" r="2.95"/><circle cx="345.8" cy="951.9" r="2.95"/><circle cx="345.8" cy="969.7" r="2.95"/><circle cx="345.8" cy="974.6" r="2.95"/><circle cx="345.8" cy="986.5" r="2.95"/><circle cx="368.0" cy="785.2" r="2.95"/><circle cx="368.0" cy="788.2" r="2.95"/><circle cx="368.0" cy="792.1" r="2.95"/><circle cx="368.0" cy="850.4" r="2.95"/><circle cx="368.0" cy="853.8" r="2.95"/><circle cx="368.0" cy="857.2" r="2.95"/><circle cx="368.0" cy="860.6" r="2.95"/><circle cx="368.0" cy="864.0" r="2.95"/><circle cx="368.0" cy="867.4" r="2.95"/><circle cx="368.0" cy="870.8" r="2.95"/><circle cx="368.0" cy="874.2" r="2.95"/><circle cx="368.0" cy="877.5" r="2.95"/><circle cx="368.0" cy="880.9" r="2.95"/><circle cx="368.0" cy="884.3" r="2.95"/><circle cx="368.0" cy="887.7" r="2.95"/><circle cx="368.0" cy="891.1" r="2.95"/><circle cx="368.0" cy="894.5" r="2.95"/><circle cx="368.0" cy="897.9" r="2.95"/><circle cx="368.0" cy="901.3" r="2.95"/><circle cx="368.0" cy="904.7" r="2.95"/><circle cx="368.0" cy="908.1" r="2.95"/><circle cx="368.0" cy="911.5" r="2.95"/><circle cx="368.0" cy="914.9" r="2.95"/><circle cx="368.0" cy="918.3" r="2.95"/><circle cx="368.0" cy="921.7" r="2.95"/><circle cx="368.0" cy="925.0" r="2.95"/><circle cx="368.0" cy="928.4" r="2.95"/><circle cx="368.0" cy="931.8" r="2.95"/><circle cx="368.0" cy="935.2" r="2.95"/><circle cx="368.0" cy="938.6" r="2.95"/><circle cx="368.0" cy="942.0" r="2.95"/><circle cx="368.0" cy="945.4" r="2.95"/><circle cx="368.0" cy="948.8" r="2.95"/><circle cx="368.0" cy="952.2" r="2.95"/><circle cx="368.0" cy="955.6" r="2.95"/><circle cx="368.0" cy="959.0" r="2.95"/><circle cx="368.0" cy="962.4" r="2.95"/><circle cx="368.0" cy="965.8" r="2.95"/><circle cx="368.0" cy="969.2" r="2.95"/><circle cx="368.0" cy="972.5" r="2.95"/><circle cx="368.0" cy="975.9" r="2.95"/><circle cx="368.0" cy="979.3" r="2.95"/><circle cx="368.0" cy="982.7" r="2.95"/><circle cx="368.0" cy="986.1" r="2.95"/><circle cx="368.0" cy="989.5" r="2.95"/><circle cx="368.0" cy="992.9" r="2.95"/><circle cx="368.0" cy="996.3" r="2.95"/><circle cx="368.0" cy="1018.0" r="2.95"/><circle cx="368.0" cy="1028.0" r="2.95"/><circle cx="395.7" cy="802.7" r="2.95"/><circle cx="395.7" cy="806.7" r="2.95"/><circle cx="395.7" cy="810.7" r="2.95"/><circle cx="395.7" cy="814.7" r="2.95"/><circle cx="395.7" cy="818.7" r="2.95"/><circle cx="395.7" cy="822.7" r="2.95"/><circle cx="395.7" cy="826.7" r="2.95"/><circle cx="395.7" cy="830.7" r="2.95"/><circle cx="395.7" cy="834.7" r="2.95"/><circle cx="395.7" cy="838.7" r="2.95"/><circle cx="395.7" cy="842.7" r="2.95"/><circle cx="395.7" cy="846.7" r="2.95"/><circle cx="395.7" cy="850.8" r="2.95"/><circle cx="395.7" cy="854.8" r="2.95"/><circle cx="395.7" cy="858.8" r="2.95"/><circle cx="395.7" cy="862.8" r="2.95"/><circle cx="395.7" cy="866.8" r="2.95"/><circle cx="395.7" cy="870.8" r="2.95"/><circle cx="395.7" cy="874.8" r="2.95"/><circle cx="395.7" cy="878.8" r="2.95"/><circle cx="395.7" cy="882.8" r="2.95"/><circle cx="395.7" cy="886.8" r="2.95"/><circle cx="395.7" cy="890.8" r="2.95"/><circle cx="395.7" cy="894.8" r="2.95"/><circle cx="401.3" cy="802.7" r="2.95"/><circle cx="401.3" cy="808.0" r="2.95"/><circle cx="401.3" cy="813.3" r="2.95"/><circle cx="401.3" cy="818.6" r="2.95"/><circle cx="401.3" cy="823.9" r="2.95"/><circle cx="401.3" cy="829.2" r="2.95"/><circle cx="401.3" cy="834.5" r="2.95"/><circle cx="401.3" cy="839.8" r="2.95"/><circle cx="401.3" cy="845.1" r="2.95"/><circle cx="401.3" cy="850.4" r="2.95"/><circle cx="401.3" cy="855.7" r="2.95"/><circle cx="401.3" cy="861.0" r="2.95"/><circle cx="401.3" cy="876.4" r="2.95"/><circle cx="401.3" cy="890.7" r="2.95"/><circle cx="401.3" cy="984.8" r="2.95"/><circle cx="406.8" cy="903.0" r="2.95"/><circle cx="406.8" cy="909.9" r="2.95"/><circle cx="406.8" cy="916.8" r="2.95"/><circle cx="406.8" cy="923.6" r="2.95"/><circle cx="406.8" cy="930.5" r="2.95"/><circle cx="406.8" cy="937.4" r="2.95"/><circle cx="406.8" cy="944.3" r="2.95"/><circle cx="406.8" cy="951.2" r="2.95"/><circle cx="406.8" cy="958.1" r="2.95"/><circle cx="406.8" cy="964.9" r="2.95"/><circle cx="406.8" cy="971.8" r="2.95"/><circle cx="406.8" cy="978.7" r="2.95"/><circle cx="420.7" cy="820.1" r="2.95"/><circle cx="420.7" cy="824.2" r="2.95"/><circle cx="420.7" cy="828.3" r="2.95"/><circle cx="420.7" cy="832.4" r="2.95"/><circle cx="420.7" cy="836.5" r="2.95"/><circle cx="420.7" cy="840.6" r="2.95"/><circle cx="420.7" cy="844.7" r="2.95"/><circle cx="420.7" cy="848.8" r="2.95"/><circle cx="420.7" cy="852.9" r="2.95"/><circle cx="420.7" cy="856.9" r="2.95"/><circle cx="420.7" cy="861.0" r="2.95"/><circle cx="420.7" cy="865.1" r="2.95"/><circle cx="420.7" cy="869.2" r="2.95"/><circle cx="420.7" cy="873.3" r="2.95"/><circle cx="420.7" cy="877.4" r="2.95"/><circle cx="420.7" cy="881.5" r="2.95"/><circle cx="420.7" cy="885.6" r="2.95"/><circle cx="420.7" cy="889.7" r="2.95"/><circle cx="420.7" cy="893.8" r="2.95"/><circle cx="420.7" cy="897.9" r="2.95"/><circle cx="420.7" cy="902.0" r="2.95"/><circle cx="420.7" cy="906.1" r="2.95"/><circle cx="420.7" cy="910.2" r="2.95"/><circle cx="420.7" cy="914.3" r="2.95"/><circle cx="420.7" cy="918.4" r="2.95"/><circle cx="420.7" cy="922.5" r="2.95"/><circle cx="420.7" cy="926.6" r="2.95"/><circle cx="420.7" cy="930.6" r="2.95"/><circle cx="420.7" cy="934.7" r="2.95"/><circle cx="420.7" cy="938.8" r="2.95"/><circle cx="420.7" cy="942.9" r="2.95"/><circle cx="420.7" cy="947.0" r="2.95"/><circle cx="420.7" cy="951.1" r="2.95"/><circle cx="420.7" cy="955.2" r="2.95"/><circle cx="420.7" cy="959.3" r="2.95"/><circle cx="420.7" cy="963.4" r="2.95"/><circle cx="420.7" cy="988.9" r="2.95"/><circle cx="451.4" cy="659.4" r="2.95"/><circle cx="451.4" cy="663.6" r="2.95"/><circle cx="451.4" cy="667.7" r="2.95"/><circle cx="451.4" cy="671.9" r="2.95"/><circle cx="451.4" cy="676.1" r="2.95"/><circle cx="451.4" cy="680.3" r="2.95"/><circle cx="451.4" cy="684.4" r="2.95"/><circle cx="451.4" cy="688.6" r="2.95"/><circle cx="451.4" cy="692.8" r="2.95"/><circle cx="451.4" cy="696.9" r="2.95"/><circle cx="451.4" cy="701.1" r="2.95"/><circle cx="451.4" cy="705.3" r="2.95"/><circle cx="451.4" cy="709.5" r="2.95"/><circle cx="451.4" cy="713.6" r="2.95"/><circle cx="451.4" cy="717.8" r="2.95"/><circle cx="451.4" cy="728.0" r="2.95"/><circle cx="451.4" cy="732.1" r="2.95"/><circle cx="451.4" cy="743.4" r="2.95"/><circle cx="451.4" cy="752.6" r="2.95"/><circle cx="451.4" cy="757.7" r="2.95"/><circle cx="451.4" cy="784.3" r="2.95"/><circle cx="451.4" cy="826.2" r="2.95"/><circle cx="451.4" cy="830.3" r="2.95"/><circle cx="451.4" cy="834.3" r="2.95"/><circle cx="451.4" cy="838.4" r="2.95"/><circle cx="451.4" cy="842.4" r="2.95"/><circle cx="451.4" cy="846.5" r="2.95"/><circle cx="451.4" cy="850.5" r="2.95"/><circle cx="451.4" cy="854.6" r="2.95"/><circle cx="451.4" cy="858.6" r="2.95"/><circle cx="451.4" cy="862.7" r="2.95"/><circle cx="451.4" cy="866.8" r="2.95"/><circle cx="451.4" cy="870.8" r="2.95"/><circle cx="451.4" cy="874.9" r="2.95"/><circle cx="451.4" cy="878.9" r="2.95"/><circle cx="451.4" cy="883.0" r="2.95"/><circle cx="451.4" cy="887.0" r="2.95"/><circle cx="451.4" cy="891.1" r="2.95"/><circle cx="451.4" cy="895.1" r="2.95"/><circle cx="451.4" cy="899.2" r="2.95"/><circle cx="451.4" cy="903.3" r="2.95"/><circle cx="451.4" cy="907.3" r="2.95"/><circle cx="451.4" cy="911.4" r="2.95"/><circle cx="451.4" cy="915.4" r="2.95"/><circle cx="451.4" cy="919.5" r="2.95"/><circle cx="451.4" cy="923.5" r="2.95"/><circle cx="451.4" cy="927.6" r="2.95"/><circle cx="451.4" cy="931.6" r="2.95"/><circle cx="451.4" cy="935.7" r="2.95"/><circle cx="451.4" cy="954.1" r="2.95"/><circle cx="451.4" cy="963.4" r="2.95"/><circle cx="451.4" cy="1003.3" r="2.95"/><circle cx="454.5" cy="937.8" r="2.95"/><circle cx="454.5" cy="943.1" r="2.95"/><circle cx="454.5" cy="948.3" r="2.95"/><circle cx="454.5" cy="953.6" r="2.95"/><circle cx="454.5" cy="958.8" r="2.95"/><circle cx="454.5" cy="964.1" r="2.95"/><circle cx="454.5" cy="969.3" r="2.95"/><circle cx="454.5" cy="974.6" r="2.95"/><circle cx="454.5" cy="979.8" r="2.95"/><circle cx="454.5" cy="985.1" r="2.95"/><circle cx="454.5" cy="990.3" r="2.95"/><circle cx="454.5" cy="995.6" r="2.95"/><circle cx="454.5" cy="1000.8" r="2.95"/><circle cx="454.5" cy="1006.1" r="2.95"/><circle cx="454.5" cy="1011.3" r="2.95"/><circle cx="454.5" cy="1016.6" r="2.95"/><circle cx="462.0" cy="664.6" r="2.95"/><circle cx="462.0" cy="669.9" r="2.95"/><circle cx="462.0" cy="675.2" r="2.95"/><circle cx="462.0" cy="680.5" r="2.95"/><circle cx="462.0" cy="685.8" r="2.95"/><circle cx="462.0" cy="691.1" r="2.95"/><circle cx="462.0" cy="696.4" r="2.95"/><circle cx="462.0" cy="701.7" r="2.95"/><circle cx="462.0" cy="707.0" r="2.95"/><circle cx="462.0" cy="712.3" r="2.95"/><circle cx="462.0" cy="717.6" r="2.95"/><circle cx="462.0" cy="722.9" r="2.95"/><circle cx="462.0" cy="737.2" r="2.95"/><circle cx="462.0" cy="751.5" r="2.95"/><circle cx="462.0" cy="759.7" r="2.95"/><circle cx="462.0" cy="781.2" r="2.95"/><circle cx="482.5" cy="811.9" r="2.95"/><circle cx="482.5" cy="816.6" r="2.95"/><circle cx="482.5" cy="821.3" r="2.95"/><circle cx="482.5" cy="825.9" r="2.95"/><circle cx="482.5" cy="830.6" r="2.95"/><circle cx="482.5" cy="835.3" r="2.95"/><circle cx="482.5" cy="840.0" r="2.95"/><circle cx="482.5" cy="844.6" r="2.95"/><circle cx="482.5" cy="849.3" r="2.95"/><circle cx="482.5" cy="854.0" r="2.95"/><circle cx="482.5" cy="858.7" r="2.95"/><circle cx="482.5" cy="863.4" r="2.95"/><circle cx="482.5" cy="868.0" r="2.95"/><circle cx="482.5" cy="872.7" r="2.95"/><circle cx="482.5" cy="877.4" r="2.95"/><circle cx="482.5" cy="886.6" r="2.95"/><circle cx="482.5" cy="893.8" r="2.95"/><circle cx="482.5" cy="910.1" r="2.95"/><circle cx="482.5" cy="974.6" r="2.95"/><circle cx="482.5" cy="978.7" r="2.95"/><circle cx="490.3" cy="966.4" r="2.95"/><circle cx="490.3" cy="972.0" r="2.95"/><circle cx="490.3" cy="977.7" r="2.95"/><circle cx="490.3" cy="983.3" r="2.95"/><circle cx="490.3" cy="989.0" r="2.95"/><circle cx="490.3" cy="994.6" r="2.95"/><circle cx="490.3" cy="1000.2" r="2.95"/><circle cx="490.3" cy="1005.9" r="2.95"/><circle cx="490.3" cy="1011.5" r="2.95"/><circle cx="490.3" cy="1020.7" r="2.95"/><circle cx="490.3" cy="1023.7" r="2.95"/><circle cx="492.7" cy="662.5" r="2.95"/><circle cx="492.7" cy="666.5" r="2.95"/><circle cx="492.7" cy="670.6" r="2.95"/><circle cx="492.7" cy="674.6" r="2.95"/><circle cx="492.7" cy="678.6" r="2.95"/><circle cx="492.7" cy="682.6" r="2.95"/><circle cx="492.7" cy="686.7" r="2.95"/><circle cx="492.7" cy="690.7" r="2.95"/><circle cx="492.7" cy="694.7" r="2.95"/><circle cx="492.7" cy="698.7" r="2.95"/><circle cx="492.7" cy="702.8" r="2.95"/><circle cx="492.7" cy="706.8" r="2.95"/><circle cx="492.7" cy="710.8" r="2.95"/><circle cx="492.7" cy="714.8" r="2.95"/><circle cx="492.7" cy="718.9" r="2.95"/><circle cx="492.7" cy="722.9" r="2.95"/><circle cx="492.7" cy="728.0" r="2.95"/><circle cx="492.7" cy="733.1" r="2.95"/><circle cx="492.7" cy="738.2" r="2.95"/><circle cx="492.7" cy="743.4" r="2.95"/><circle cx="492.7" cy="748.5" r="2.95"/><circle cx="492.7" cy="761.8" r="2.95"/><circle cx="492.7" cy="767.9" r="2.95"/><circle cx="492.7" cy="791.5" r="2.95"/><circle cx="492.7" cy="825.2" r="2.95"/><circle cx="492.7" cy="830.9" r="2.95"/><circle cx="492.7" cy="836.6" r="2.95"/><circle cx="492.7" cy="842.3" r="2.95"/><circle cx="492.7" cy="848.0" r="2.95"/><circle cx="492.7" cy="853.7" r="2.95"/><circle cx="492.7" cy="859.4" r="2.95"/><circle cx="492.7" cy="865.1" r="2.95"/><circle cx="492.7" cy="875.4" r="2.95"/><circle cx="492.7" cy="887.6" r="2.95"/><circle cx="492.7" cy="895.8" r="2.95"/><circle cx="492.7" cy="900.9" r="2.95"/><circle cx="492.7" cy="921.4" r="2.95"/><circle cx="503.6" cy="908.1" r="2.95"/><circle cx="503.6" cy="913.4" r="2.95"/><circle cx="503.6" cy="918.6" r="2.95"/><circle cx="503.6" cy="923.9" r="2.95"/><circle cx="503.6" cy="929.1" r="2.95"/><circle cx="503.6" cy="934.4" r="2.95"/><circle cx="503.6" cy="939.6" r="2.95"/><circle cx="503.6" cy="944.9" r="2.95"/><circle cx="503.6" cy="950.1" r="2.95"/><circle cx="503.6" cy="955.4" r="2.95"/><circle cx="503.6" cy="960.6" r="2.95"/><circle cx="503.6" cy="965.9" r="2.95"/><circle cx="503.6" cy="971.1" r="2.95"/><circle cx="503.6" cy="976.4" r="2.95"/><circle cx="503.6" cy="981.6" r="2.95"/><circle cx="503.6" cy="986.9" r="2.95"/><circle cx="503.6" cy="1000.2" r="2.95"/><circle cx="503.6" cy="1004.3" r="2.95"/><circle cx="503.6" cy="1020.7" r="2.95"/><circle cx="503.6" cy="1023.7" r="2.95"/><circle cx="503.6" cy="1041.1" r="2.95"/><circle cx="516.9" cy="837.5" r="2.95"/><circle cx="516.9" cy="842.6" r="2.95"/><circle cx="516.9" cy="854.9" r="2.95"/><circle cx="516.9" cy="869.2" r="2.95"/><circle cx="516.9" cy="875.4" r="2.95"/><circle cx="516.9" cy="887.6" r="2.95"/><circle cx="516.9" cy="905.0" r="2.95"/><circle cx="516.9" cy="924.5" r="2.95"/><circle cx="526.1" cy="919.4" r="2.95"/><circle cx="526.1" cy="924.7" r="2.95"/><circle cx="526.1" cy="930.0" r="2.95"/><circle cx="526.1" cy="935.4" r="2.95"/><circle cx="526.1" cy="940.7" r="2.95"/><circle cx="526.1" cy="946.0" r="2.95"/><circle cx="526.1" cy="951.3" r="2.95"/><circle cx="526.1" cy="956.6" r="2.95"/><circle cx="526.1" cy="962.0" r="2.95"/><circle cx="526.1" cy="967.3" r="2.95"/><circle cx="526.1" cy="972.6" r="2.95"/><circle cx="526.1" cy="977.9" r="2.95"/><circle cx="526.1" cy="983.2" r="2.95"/><circle cx="526.1" cy="988.6" r="2.95"/><circle cx="526.1" cy="993.9" r="2.95"/><circle cx="526.1" cy="999.2" r="2.95"/><circle cx="557.4" cy="974.6" r="2.95"/><circle cx="557.4" cy="980.1" r="2.95"/><circle cx="557.4" cy="985.5" r="2.95"/><circle cx="557.4" cy="991.0" r="2.95"/><circle cx="557.4" cy="996.4" r="2.95"/><circle cx="557.4" cy="1001.9" r="2.95"/><circle cx="557.4" cy="1007.4" r="2.95"/><circle cx="557.4" cy="1012.8" r="2.95"/><circle cx="557.4" cy="1018.3" r="2.95"/><circle cx="557.4" cy="1023.7" r="2.95"/><circle cx="557.4" cy="1029.2" r="2.95"/><circle cx="557.4" cy="1034.7" r="2.95"/><circle cx="557.4" cy="1040.1" r="2.95"/><circle cx="557.4" cy="1045.6" r="2.95"/><circle cx="557.4" cy="1051.0" r="2.95"/><circle cx="557.4" cy="1056.5" r="2.95"/><circle cx="568.1" cy="928.6" r="2.95"/><circle cx="568.1" cy="933.8" r="2.95"/><circle cx="568.1" cy="939.1" r="2.95"/><circle cx="568.1" cy="944.3" r="2.95"/><circle cx="568.1" cy="949.5" r="2.95"/><circle cx="568.1" cy="954.8" r="2.95"/><circle cx="568.1" cy="960.0" r="2.95"/><circle cx="568.1" cy="965.3" r="2.95"/><circle cx="568.1" cy="970.5" r="2.95"/><circle cx="568.1" cy="995.1" r="2.95"/><circle cx="568.1" cy="1000.2" r="2.95"/><circle cx="568.1" cy="1007.4" r="2.95"/><circle cx="628.4" cy="934.7" r="2.95"/><circle cx="628.4" cy="940.3" r="2.95"/><circle cx="628.4" cy="945.8" r="2.95"/><circle cx="628.4" cy="951.4" r="2.95"/><circle cx="628.4" cy="956.9" r="2.95"/><circle cx="628.4" cy="962.5" r="2.95"/><circle cx="628.4" cy="968.0" r="2.95"/><circle cx="628.4" cy="973.6" r="2.95"/><circle cx="628.4" cy="996.1" r="2.95"/><circle cx="628.4" cy="1009.4" r="2.95"/><circle cx="628.4" cy="1027.8" r="2.95"/></g><polygon points="151.6,813.4 159.5,815.5 167.5,817.6 175.4,819.7 183.4,821.8 191.3,823.9 199.3,826.0 207.2,828.1 215.2,830.1 223.1,832.2 231.1,834.3 239.0,836.4 246.9,838.4 254.9,840.5 262.8,842.5 270.8,844.6 278.7,846.6 286.7,848.6 294.6,850.7 302.6,852.7 310.5,854.7 318.5,856.7 326.4,858.7 334.4,860.7 342.3,862.6 350.3,864.6 358.2,866.6 366.2,868.5 374.1,870.4 382.0,872.3 390.0,874.2 397.9,876.1 405.9,878.0 413.8,879.8 421.8,881.7 429.7,883.5 437.7,885.3 445.6,887.1 453.6,888.9 461.5,890.7 469.5,892.5 477.4,894.2 485.4,896.0 493.3,897.8 501.3,899.5 509.2,901.2 517.2,903.0 525.1,904.7 533.0,906.4 541.0,908.1 548.9,909.8 556.9,911.5 564.8,913.2 572.8,914.9 580.7,916.6 588.7,918.3 596.6,920.0 604.6,921.7 612.5,923.4 620.5,925.0 628.4,926.7 628.4,944.5 620.5,942.4 612.5,940.3 604.6,938.2 596.6,936.1 588.7,934.0 580.7,931.9 572.8,929.8 564.8,927.7 556.9,925.7 548.9,923.6 541.0,921.5 533.0,919.5 525.1,917.4 517.2,915.3 509.2,913.3 501.3,911.3 493.3,909.2 485.4,907.2 477.4,905.2 469.5,903.2 461.5,901.2 453.6,899.2 445.6,897.2 437.7,895.2 429.7,893.3 421.8,891.3 413.8,889.4 405.9,887.5 397.9,885.6 390.0,883.7 382.0,881.8 374.1,879.9 366.2,878.1 358.2,876.2 350.3,874.4 342.3,872.6 334.4,870.8 326.4,869.0 318.5,867.2 310.5,865.4 302.6,863.6 294.6,861.9 286.7,860.1 278.7,858.4 270.8,856.6 262.8,854.9 254.9,853.2 246.9,851.5 239.0,849.7 231.1,848.0 223.1,846.3 215.2,844.6 207.2,842.9 199.3,841.2 191.3,839.6 183.4,837.9 175.4,836.2 167.5,834.5 159.5,832.8 151.6,831.1" fill="#ff8080" fill-opacity="0.62" stroke="none"/><polyline points="151.6,822.3 159.5,824.2 167.5,826.1 175.4,827.9 183.4,829.8 191.3,831.7 199.3,833.6 207.2,835.5 215.2,837.4 223.1,839.3 231.1,841.2 239.0,843.1 246.9,844.9 254.9,846.8 262.8,848.7 270.8,850.6 278.7,852.5 286.7,854.4 294.6,856.3 302.6,858.2 310.5,860.0 318.5,861.9 326.4,863.8 334.4,865.7 342.3,867.6 350.3,869.5 358.2,871.4 366.2,873.3 374.1,875.2 382.0,877.0 390.0,878.9 397.9,880.8 405.9,882.7 413.8,884.6 421.8,886.5 429.7,888.4 437.7,890.3 445.6,892.2 453.6,894.0 461.5,895.9 469.5,897.8 477.4,899.7 485.4,901.6 493.3,903.5 501.3,905.4 509.2,907.3 517.2,909.2 525.1,911.0 533.0,912.9 541.0,914.8 548.9,916.7 556.9,918.6 564.8,920.5 572.8,922.4 580.7,924.3 588.7,926.2 596.6,928.0 604.6,929.9 612.5,931.8 620.5,933.7 628.4,935.6" fill="none" stroke="#f22a2a" stroke-width="1.3"/>
<rect x="77.2" y="618.7" width="601.3" height="479.0" fill="none" stroke="#000" stroke-width="2"/>
<path d="M77.2 1097.7V1106.7 M197.5 1097.7V1106.7 M317.7 1097.7V1106.7 M438.0 1097.7V1106.7 M558.2 1097.7V1106.7 M678.5 1097.7V1106.7 M137.3 1097.7V1102.7 M257.6 1097.7V1102.7 M377.8 1097.7V1102.7 M498.1 1097.7V1102.7 M618.4 1097.7V1102.7 M77.2 1057.8H68.2 M77.2 978.0H68.2 M77.2 898.1H68.2 M77.2 818.3H68.2 M77.2 738.5H68.2 M77.2 658.6H68.2" stroke="#000" stroke-width="2" fill="none"/>
<text transform="translate(77.2,1130.3) scale(1,1.09)" font-size="19" text-anchor="middle">0</text>
<text transform="translate(197.5,1130.3) scale(1,1.09)" font-size="19" text-anchor="middle">2</text>
<text transform="translate(317.7,1130.3) scale(1,1.09)" font-size="19" text-anchor="middle">4</text>
<text transform="translate(438.0,1130.3) scale(1,1.09)" font-size="19" text-anchor="middle">6</text>
<text transform="translate(558.2,1130.3) scale(1,1.09)" font-size="19" text-anchor="middle">8</text>
<text transform="translate(678.5,1130.3) scale(1,1.09)" font-size="19" text-anchor="middle">10</text>
<text transform="translate(61.2,1064.4) scale(1,1.09)" font-size="19" text-anchor="end">0</text>
<text transform="translate(61.2,984.6) scale(1,1.09)" font-size="19" text-anchor="end">2</text>
<text transform="translate(61.2,904.7) scale(1,1.09)" font-size="19" text-anchor="end">4</text>
<text transform="translate(61.2,824.9) scale(1,1.09)" font-size="19" text-anchor="end">6</text>
<text transform="translate(61.2,745.1) scale(1,1.09)" font-size="19" text-anchor="end">8</text>
<text transform="translate(61.2,665.2) scale(1,1.09)" font-size="19" text-anchor="end">10</text>
<text transform="translate(89.3,649.3) scale(1,1.07)" font-size="25">c</text>
<g transform="translate(-0.92,0) scale(1.0075,1)"><g transform="translate(0,654.7) scale(1,1.07) translate(0,-654.7)"><text x="228.2" y="654.7" font-size="22.5"><tspan font-style="italic">Adj.R</tspan><tspan font-size="14.4" dy="-9.0">2</tspan><tspan dy="9.0">=0.11</tspan></text></g></g>
<g transform="translate(-0.92,0) scale(1.0075,1)"><g transform="translate(0,682.5) scale(1,1.07) translate(0,-682.5)"><text x="228.2" y="682.5" font-size="22.5"><tspan font-style="italic">P</tspan></text><path d="M262.9 667.6L244.9 674.2L262.9 680.9" fill="none" stroke="#000" stroke-width="1.25"/><text x="266.2" y="682.5" font-size="22.5">0.001</text></g></g>
<g transform="translate(-0.92,0) scale(1.0075,1)"><g transform="translate(0,710.5) scale(1,1.07) translate(0,-710.5)"><text x="228.2" y="710.5" font-size="22.5"><tspan font-style="italic">n</tspan>=1428</text></g></g>
<g transform="translate(3.55,-4.30) scale(1.0180,1.0000)"><text x="377.9" y="1173.2" font-size="25" text-anchor="middle">ln(1+Cathode chamber Volume)  (mL)</text></g>
<g transform="translate(-0.85,3.60) scale(1.0000,1.0097)"><text transform="translate(30.6,846.2) rotate(-90)" font-size="25" text-anchor="middle">ln(1+Power density)  (mW/m<tspan font-size="17.5" dy="-11">2</tspan><tspan dy="11">)</tspan></text></g>
<g fill="none" stroke="#3434d4" stroke-width="1.1"><circle cx="833.5" cy="698.9" r="2.95"/><circle cx="838.1" cy="706.7" r="2.95"/><circle cx="837.7" cy="717.7" r="2.95"/><circle cx="840.2" cy="691.9" r="2.95"/><circle cx="844.0" cy="695.0" r="2.95"/><circle cx="845.5" cy="700.3" r="2.95"/><circle cx="854.0" cy="681.7" r="2.95"/><circle cx="856.1" cy="680.2" r="2.95"/><circle cx="859.9" cy="688.7" r="2.95"/><circle cx="865.0" cy="675.4" r="2.95"/><circle cx="868.4" cy="666.9" r="2.95"/><circle cx="868.0" cy="687.6" r="2.95"/><circle cx="879.4" cy="675.4" r="2.95"/><circle cx="880.7" cy="691.5" r="2.95"/><circle cx="882.6" cy="661.6" r="2.95"/><circle cx="890.6" cy="677.1" r="2.95"/><circle cx="892.5" cy="699.1" r="2.95"/><circle cx="897.4" cy="662.2" r="2.95"/><circle cx="902.7" cy="681.7" r="2.95"/><circle cx="901.6" cy="717.7" r="2.95"/><circle cx="909.9" cy="743.7" r="2.95"/><circle cx="912.2" cy="665.8" r="2.95"/><circle cx="915.4" cy="693.8" r="2.95"/><circle cx="919.8" cy="671.3" r="2.95"/><circle cx="926.0" cy="709.7" r="2.95"/><circle cx="929.6" cy="686.6" r="2.95"/><circle cx="934.0" cy="728.7" r="2.95"/><circle cx="942.5" cy="713.0" r="2.95"/><circle cx="941.6" cy="753.5" r="2.95"/><circle cx="917.7" cy="785.0" r="2.95"/><circle cx="856.7" cy="824.8" r="2.95"/><circle cx="847.0" cy="844.5" r="2.95"/><circle cx="833.5" cy="876.7" r="2.95"/><circle cx="873.3" cy="824.4" r="2.95"/><circle cx="875.6" cy="819.5" r="2.95"/><circle cx="887.4" cy="824.8" r="2.95"/><circle cx="897.8" cy="837.8" r="2.95"/><circle cx="906.3" cy="856.4" r="2.95"/><circle cx="966.6" cy="825.7" r="2.95"/><circle cx="1009.4" cy="831.4" r="2.95"/><circle cx="1024.6" cy="831.0" r="2.95"/><circle cx="1066.4" cy="839.4" r="2.95"/><circle cx="1073.3" cy="815.3" r="2.95"/><circle cx="1081.6" cy="812.6" r="2.95"/><circle cx="1087.5" cy="822.1" r="2.95"/><circle cx="1076.5" cy="828.4" r="2.95"/><circle cx="937.6" cy="850.7" r="2.95"/><circle cx="937.6" cy="855.1" r="2.95"/><circle cx="937.6" cy="859.5" r="2.95"/><circle cx="937.6" cy="863.9" r="2.95"/><circle cx="937.6" cy="868.2" r="2.95"/><circle cx="937.6" cy="872.6" r="2.95"/><circle cx="937.6" cy="877.0" r="2.95"/><circle cx="937.6" cy="886.9" r="2.95"/><circle cx="1081.6" cy="835.8" r="2.95"/><circle cx="1081.6" cy="839.5" r="2.95"/><circle cx="1081.6" cy="843.2" r="2.95"/><circle cx="1081.6" cy="847.0" r="2.95"/><circle cx="1081.6" cy="850.7" r="2.95"/><circle cx="1081.6" cy="863.0" r="2.95"/><circle cx="1081.6" cy="874.0" r="2.95"/><circle cx="1081.6" cy="880.7" r="2.95"/><circle cx="1078.6" cy="888.6" r="2.95"/><circle cx="833.5" cy="876.7" r="2.95"/><circle cx="833.5" cy="911.9" r="2.95"/><circle cx="916.0" cy="890.3" r="2.95"/><circle cx="883.2" cy="963.5" r="2.95"/><circle cx="924.3" cy="984.9" r="2.95"/><circle cx="875.4" cy="1003.6" r="2.95"/><circle cx="945.2" cy="1055.2" r="2.95"/><circle cx="969.4" cy="1029.0" r="2.95"/><circle cx="977.9" cy="916.7" r="2.95"/><circle cx="989.1" cy="912.7" r="2.95"/><circle cx="983.8" cy="930.7" r="2.95"/><circle cx="1032.7" cy="973.5" r="2.95"/><circle cx="1032.7" cy="1036.8" r="2.95"/><circle cx="1035.4" cy="905.1" r="2.95"/><circle cx="1056.6" cy="929.0" r="2.95"/><circle cx="1076.5" cy="951.7" r="2.95"/><circle cx="1078.6" cy="970.7" r="2.95"/><circle cx="1067.4" cy="1018.4" r="2.95"/><circle cx="1059.6" cy="1052.3" r="2.95"/><circle cx="1076.9" cy="910.6" r="2.95"/><circle cx="1061.9" cy="999.1" r="2.95"/><circle cx="1013.8" cy="956.3" r="2.95"/><circle cx="1013.8" cy="959.6" r="2.95"/><circle cx="1013.8" cy="962.9" r="2.95"/><circle cx="1013.8" cy="966.2" r="2.95"/><circle cx="1013.8" cy="969.4" r="2.95"/><circle cx="1013.8" cy="972.7" r="2.95"/><circle cx="1013.8" cy="976.0" r="2.95"/><circle cx="1013.8" cy="979.2" r="2.95"/><circle cx="1013.8" cy="982.5" r="2.95"/><circle cx="1013.8" cy="985.8" r="2.95"/><circle cx="1013.8" cy="989.1" r="2.95"/><circle cx="1013.8" cy="992.3" r="2.95"/><circle cx="1061.9" cy="920.3" r="2.95"/><circle cx="1061.9" cy="924.5" r="2.95"/><circle cx="1061.9" cy="928.7" r="2.95"/><circle cx="1061.9" cy="932.8" r="2.95"/><circle cx="1061.9" cy="937.0" r="2.95"/><circle cx="1061.9" cy="941.2" r="2.95"/><circle cx="1061.9" cy="945.4" r="2.95"/><circle cx="1061.9" cy="949.5" r="2.95"/><circle cx="1061.9" cy="953.7" r="2.95"/><circle cx="1061.9" cy="957.9" r="2.95"/><circle cx="1061.9" cy="962.0" r="2.95"/><circle cx="1061.9" cy="966.2" r="2.95"/><circle cx="1061.9" cy="970.4" r="2.95"/><circle cx="1061.9" cy="974.5" r="2.95"/><circle cx="1061.9" cy="978.7" r="2.95"/><circle cx="1061.9" cy="982.9" r="2.95"/><circle cx="1061.9" cy="987.0" r="2.95"/><circle cx="1100.4" cy="832.4" r="2.95"/><circle cx="1116.5" cy="837.8" r="2.95"/><circle cx="1122.6" cy="821.7" r="2.95"/><circle cx="1126.6" cy="810.5" r="2.95"/><circle cx="1131.6" cy="817.4" r="2.95"/><circle cx="1132.7" cy="829.2" r="2.95"/><circle cx="1133.7" cy="841.0" r="2.95"/><circle cx="1146.0" cy="848.1" r="2.95"/><circle cx="1142.8" cy="864.3" r="2.95"/><circle cx="1118.2" cy="874.4" r="2.95"/><circle cx="1155.9" cy="810.5" r="2.95"/><circle cx="1158.9" cy="822.3" r="2.95"/><circle cx="1153.5" cy="829.4" r="2.95"/><circle cx="1160.6" cy="848.6" r="2.95"/><circle cx="1163.4" cy="852.4" r="2.95"/><circle cx="1167.1" cy="822.3" r="2.95"/><circle cx="1172.5" cy="827.0" r="2.95"/><circle cx="1174.6" cy="823.8" r="2.95"/><circle cx="1177.9" cy="822.3" r="2.95"/><circle cx="1178.5" cy="842.1" r="2.95"/><circle cx="1185.8" cy="828.5" r="2.95"/><circle cx="1189.1" cy="815.8" r="2.95"/><circle cx="1190.4" cy="836.1" r="2.95"/><circle cx="1195.7" cy="817.8" r="2.95"/><circle cx="1197.0" cy="820.6" r="2.95"/><circle cx="1200.9" cy="833.1" r="2.95"/><circle cx="1206.9" cy="832.0" r="2.95"/><circle cx="1210.8" cy="827.7" r="2.95"/><circle cx="1207.4" cy="841.0" r="2.95"/><circle cx="1211.2" cy="846.4" r="2.95"/><circle cx="1201.8" cy="848.1" r="2.95"/><circle cx="1219.8" cy="819.5" r="2.95"/><circle cx="1219.8" cy="832.4" r="2.95"/><circle cx="1219.0" cy="848.1" r="2.95"/><circle cx="1190.4" cy="857.6" r="2.95"/><circle cx="1258.6" cy="795.8" r="2.95"/><circle cx="1259.7" cy="799.5" r="2.95"/><circle cx="1208.6" cy="876.1" r="2.95"/><circle cx="1194.4" cy="881.3" r="2.95"/><circle cx="1198.3" cy="883.4" r="2.95"/><circle cx="1162.4" cy="872.9" r="2.95"/><circle cx="1165.0" cy="874.8" r="2.95"/><circle cx="1162.2" cy="885.6" r="2.95"/><circle cx="1144.1" cy="888.0" r="2.95"/><circle cx="1153.5" cy="890.5" r="2.95"/><circle cx="1133.7" cy="890.5" r="2.95"/><circle cx="1128.4" cy="893.1" r="2.95"/><circle cx="1107.9" cy="894.2" r="2.95"/><circle cx="1113.3" cy="900.7" r="2.95"/><circle cx="1117.6" cy="901.7" r="2.95"/><circle cx="1124.3" cy="909.5" r="2.95"/><circle cx="1107.9" cy="910.3" r="2.95"/><circle cx="1135.9" cy="903.4" r="2.95"/><circle cx="1141.7" cy="900.9" r="2.95"/><circle cx="1146.7" cy="907.1" r="2.95"/><circle cx="1151.0" cy="903.4" r="2.95"/><circle cx="1157.0" cy="898.5" r="2.95"/><circle cx="1165.0" cy="908.2" r="2.95"/><circle cx="1172.9" cy="892.3" r="2.95"/><circle cx="1176.8" cy="891.6" r="2.95"/><circle cx="1183.7" cy="896.1" r="2.95"/><circle cx="1186.5" cy="889.5" r="2.95"/><circle cx="1194.0" cy="896.3" r="2.95"/><circle cx="1198.3" cy="897.6" r="2.95"/><circle cx="1185.8" cy="905.0" r="2.95"/><circle cx="1191.9" cy="910.3" r="2.95"/><circle cx="1197.9" cy="905.2" r="2.95"/><circle cx="1206.1" cy="900.2" r="2.95"/><circle cx="1203.7" cy="909.9" r="2.95"/><circle cx="1208.0" cy="914.6" r="2.95"/><circle cx="1206.9" cy="922.4" r="2.95"/><circle cx="1216.8" cy="888.4" r="2.95"/><circle cx="1216.6" cy="902.4" r="2.95"/><circle cx="1224.1" cy="905.6" r="2.95"/><circle cx="1227.2" cy="895.9" r="2.95"/><circle cx="1231.2" cy="903.9" r="2.95"/><circle cx="1232.8" cy="900.2" r="2.95"/><circle cx="1234.9" cy="911.4" r="2.95"/><circle cx="1216.6" cy="933.6" r="2.95"/><circle cx="1231.0" cy="931.9" r="2.95"/><circle cx="1205.4" cy="941.8" r="2.95"/><circle cx="1245.7" cy="938.5" r="2.95"/><circle cx="1245.7" cy="949.7" r="2.95"/><circle cx="1214.5" cy="956.2" r="2.95"/><circle cx="1192.9" cy="956.2" r="2.95"/><circle cx="1176.8" cy="932.5" r="2.95"/><circle cx="1176.8" cy="941.1" r="2.95"/><circle cx="1106.8" cy="933.6" r="2.95"/><circle cx="1106.2" cy="936.8" r="2.95"/><circle cx="1137.6" cy="926.0" r="2.95"/><circle cx="1134.8" cy="915.3" r="2.95"/><circle cx="1144.5" cy="918.1" r="2.95"/><circle cx="1157.4" cy="917.4" r="2.95"/><circle cx="1238.1" cy="872.7" r="2.95"/><circle cx="1238.1" cy="878.7" r="2.95"/><circle cx="1245.7" cy="871.2" r="2.95"/><circle cx="1252.8" cy="865.8" r="2.95"/><circle cx="1253.2" cy="869.7" r="2.95"/><circle cx="1259.7" cy="857.2" r="2.95"/><circle cx="1265.0" cy="854.6" r="2.95"/><circle cx="1259.7" cy="869.0" r="2.95"/><circle cx="1266.1" cy="867.3" r="2.95"/><circle cx="1271.1" cy="851.4" r="2.95"/><circle cx="1275.4" cy="850.9" r="2.95"/><circle cx="1280.1" cy="844.7" r="2.95"/><circle cx="1282.3" cy="852.9" r="2.95"/><circle cx="1284.4" cy="856.1" r="2.95"/><circle cx="1289.4" cy="849.0" r="2.95"/><circle cx="1278.4" cy="862.6" r="2.95"/><circle cx="1272.1" cy="866.4" r="2.95"/><circle cx="1274.7" cy="871.2" r="2.95"/><circle cx="1282.3" cy="864.7" r="2.95"/><circle cx="1287.6" cy="867.3" r="2.95"/><circle cx="1290.2" cy="860.4" r="2.95"/><circle cx="1294.1" cy="869.0" r="2.95"/><circle cx="1298.4" cy="873.3" r="2.95"/><circle cx="1301.6" cy="875.0" r="2.95"/><circle cx="1304.9" cy="878.7" r="2.95"/><circle cx="1309.2" cy="881.9" r="2.95"/><circle cx="1314.5" cy="887.3" r="2.95"/><circle cx="1317.8" cy="891.6" r="2.95"/><circle cx="1320.6" cy="897.0" r="2.95"/><circle cx="1323.2" cy="902.4" r="2.95"/><circle cx="1326.4" cy="909.5" r="2.95"/><circle cx="1328.5" cy="916.4" r="2.95"/><circle cx="1330.7" cy="923.9" r="2.95"/><circle cx="1333.5" cy="934.0" r="2.95"/><circle cx="1336.1" cy="943.9" r="2.95"/><circle cx="1337.8" cy="946.5" r="2.95"/><circle cx="1290.4" cy="876.5" r="2.95"/><circle cx="1290.4" cy="878.7" r="2.95"/><circle cx="1293.5" cy="892.0" r="2.95"/><circle cx="1291.9" cy="900.2" r="2.95"/><circle cx="1289.8" cy="906.0" r="2.95"/><circle cx="1293.7" cy="906.7" r="2.95"/><circle cx="1298.4" cy="911.0" r="2.95"/><circle cx="1303.4" cy="904.5" r="2.95"/><circle cx="1302.7" cy="917.4" r="2.95"/><circle cx="1300.6" cy="920.2" r="2.95"/><circle cx="1298.4" cy="931.4" r="2.95"/><circle cx="1298.4" cy="941.5" r="2.95"/><circle cx="1314.5" cy="932.5" r="2.95"/><circle cx="1314.5" cy="934.7" r="2.95"/><circle cx="1314.5" cy="946.9" r="2.95"/><circle cx="1267.2" cy="888.4" r="2.95"/><circle cx="1269.3" cy="895.9" r="2.95"/><circle cx="1266.1" cy="899.1" r="2.95"/><circle cx="1258.6" cy="900.7" r="2.95"/><circle cx="1280.1" cy="893.8" r="2.95"/><circle cx="1278.0" cy="903.4" r="2.95"/><circle cx="1280.5" cy="903.0" r="2.95"/><circle cx="1264.0" cy="908.4" r="2.95"/><circle cx="1269.3" cy="910.3" r="2.95"/><circle cx="1275.8" cy="914.2" r="2.95"/><circle cx="1275.8" cy="920.7" r="2.95"/><circle cx="1282.3" cy="922.8" r="2.95"/><circle cx="1284.4" cy="929.3" r="2.95"/><circle cx="1287.2" cy="931.9" r="2.95"/><circle cx="1284.4" cy="917.4" r="2.95"/><circle cx="1289.8" cy="916.4" r="2.95"/><circle cx="1287.6" cy="913.1" r="2.95"/><circle cx="1253.2" cy="909.9" r="2.95"/><circle cx="1254.3" cy="914.6" r="2.95"/><circle cx="1245.7" cy="911.0" r="2.95"/><circle cx="1247.8" cy="916.8" r="2.95"/><circle cx="1243.5" cy="913.6" r="2.95"/><circle cx="1252.1" cy="919.2" r="2.95"/><circle cx="1260.7" cy="922.4" r="2.95"/><circle cx="1240.3" cy="909.5" r="2.95"/><circle cx="1130.5" cy="852.9" r="2.95"/><circle cx="1130.5" cy="856.4" r="2.95"/><circle cx="1130.5" cy="859.9" r="2.95"/><circle cx="1130.5" cy="863.4" r="2.95"/><circle cx="1130.5" cy="866.9" r="2.95"/><circle cx="1130.5" cy="870.4" r="2.95"/><circle cx="1130.5" cy="873.9" r="2.95"/><circle cx="1130.5" cy="877.4" r="2.95"/><circle cx="1130.5" cy="880.8" r="2.95"/><circle cx="1176.8" cy="863.6" r="2.95"/><circle cx="1176.8" cy="868.3" r="2.95"/><circle cx="1176.8" cy="873.0" r="2.95"/><circle cx="1176.8" cy="877.6" r="2.95"/><circle cx="1176.8" cy="907.8" r="2.95"/><circle cx="1176.8" cy="912.1" r="2.95"/><circle cx="1176.8" cy="916.4" r="2.95"/><circle cx="1176.8" cy="920.7" r="2.95"/><circle cx="1116.5" cy="987.7" r="2.95"/><circle cx="1144.5" cy="982.9" r="2.95"/><circle cx="1153.5" cy="976.9" r="2.95"/><circle cx="1167.1" cy="969.8" r="2.95"/><circle cx="1176.8" cy="977.6" r="2.95"/><circle cx="1181.1" cy="977.6" r="2.95"/><circle cx="1185.8" cy="977.6" r="2.95"/><circle cx="1218.1" cy="977.6" r="2.95"/><circle cx="1225.0" cy="999.1" r="2.95"/><circle cx="1231.9" cy="995.2" r="2.95"/><circle cx="1245.2" cy="993.5" r="2.95"/><circle cx="1154.2" cy="1024.3" r="2.95"/><circle cx="1176.8" cy="1027.9" r="2.95"/><circle cx="1125.8" cy="1043.2" r="2.95"/></g><polygon points="833.6,746.9 842.0,756.3 850.4,765.6 858.8,774.5 867.2,783.2 875.6,791.7 884.0,799.9 892.4,807.8 900.8,815.5 909.2,822.9 917.6,830.1 926.0,837.0 934.4,843.6 942.8,849.7 951.2,855.3 959.6,860.6 968.0,865.7 976.5,870.6 984.9,875.2 993.3,879.5 1001.7,883.6 1010.1,887.5 1018.5,891.1 1026.9,894.5 1035.3,897.5 1043.7,900.2 1052.1,902.7 1060.5,904.9 1068.9,906.9 1077.3,908.7 1085.7,910.2 1094.1,911.5 1102.5,912.6 1110.9,913.3 1119.3,913.8 1127.7,914.1 1136.1,914.2 1144.5,914.0 1152.9,913.6 1161.3,913.0 1169.7,912.1 1178.1,910.9 1186.5,909.4 1194.9,907.7 1203.3,905.7 1211.7,903.6 1220.2,901.2 1228.6,898.6 1237.0,895.7 1245.4,892.7 1253.8,889.2 1262.2,885.3 1270.6,881.3 1279.0,877.1 1287.4,872.6 1295.8,867.9 1304.2,863.1 1312.6,858.0 1321.0,852.7 1329.4,847.2 1337.8,841.5 1337.8,870.3 1329.4,874.8 1321.0,879.1 1312.6,883.2 1304.2,887.1 1295.8,890.8 1287.4,894.3 1279.0,897.5 1270.6,900.6 1262.2,903.5 1253.8,906.1 1245.4,908.6 1237.0,911.2 1228.6,913.6 1220.2,915.7 1211.7,917.7 1203.3,919.4 1194.9,920.9 1186.5,922.2 1178.1,923.2 1169.7,924.1 1161.3,925.0 1152.9,925.6 1144.5,926.0 1136.1,926.2 1127.7,926.1 1119.3,925.8 1110.9,925.3 1102.5,924.6 1094.1,923.6 1085.7,922.5 1077.3,921.2 1068.9,919.6 1060.5,917.8 1052.1,915.8 1043.7,913.5 1035.3,911.0 1026.9,908.3 1018.5,905.5 1010.1,902.4 1001.7,899.1 993.3,895.6 984.9,891.8 976.5,887.8 968.0,883.6 959.6,879.1 951.2,874.3 942.8,869.3 934.4,864.3 926.0,859.4 917.6,854.2 909.2,848.8 900.8,843.1 892.4,837.2 884.0,831.0 875.6,824.5 867.2,817.8 858.8,810.9 850.4,803.7 842.0,796.2 833.6,788.4" fill="#ff8080" fill-opacity="0.62" stroke="none"/><polyline points="833.6,767.7 842.0,776.3 850.4,784.6 858.8,792.7 867.2,800.5 875.6,808.1 884.0,815.4 892.4,822.5 900.8,829.3 909.2,835.8 917.6,842.1 926.0,848.2 934.4,854.0 942.8,859.5 951.2,864.8 959.6,869.8 968.0,874.6 976.5,879.2 984.9,883.5 993.3,887.6 1001.7,891.4 1010.1,895.0 1018.5,898.3 1026.9,901.4 1035.3,904.2 1043.7,906.8 1052.1,909.2 1060.5,911.4 1068.9,913.3 1077.3,914.9 1085.7,916.4 1094.1,917.6 1102.5,918.6 1110.9,919.3 1119.3,919.8 1127.7,920.1 1136.1,920.2 1144.5,920.0 1152.9,919.6 1161.3,919.0 1169.7,918.1 1178.1,917.1 1186.5,915.8 1194.9,914.3 1203.3,912.6 1211.7,910.6 1220.2,908.4 1228.6,906.1 1237.0,903.5 1245.4,900.7 1253.8,897.6 1262.2,894.4 1270.6,891.0 1279.0,887.3 1287.4,883.4 1295.8,879.4 1304.2,875.1 1312.6,870.6 1321.0,865.9 1329.4,861.0 1337.8,855.9" fill="none" stroke="#f22a2a" stroke-width="1.3"/>
<rect x="796.0" y="618.3" width="601.5" height="479.7" fill="none" stroke="#000" stroke-width="2"/>
<path d="M833.6 1098.0V1107.0 M908.8 1098.0V1107.0 M984.0 1098.0V1107.0 M1059.2 1098.0V1107.0 M1134.3 1098.0V1107.0 M1209.5 1098.0V1107.0 M1284.7 1098.0V1107.0 M1359.9 1098.0V1107.0 M796.0 1098.0V1103.0 M871.2 1098.0V1103.0 M946.4 1098.0V1103.0 M1021.6 1098.0V1103.0 M1096.8 1098.0V1103.0 M1171.9 1098.0V1103.0 M1247.1 1098.0V1103.0 M1322.3 1098.0V1103.0 M1397.5 1098.0V1103.0 M796.0 1058.0H787.0 M796.0 978.1H787.0 M796.0 898.1H787.0 M796.0 818.2H787.0 M796.0 738.2H787.0 M796.0 658.3H787.0" stroke="#000" stroke-width="2" fill="none"/>
<text transform="translate(833.6,1130.6) scale(1,1.09)" font-size="19" text-anchor="middle">0</text>
<text transform="translate(908.8,1130.6) scale(1,1.09)" font-size="19" text-anchor="middle">1</text>
<text transform="translate(984.0,1130.6) scale(1,1.09)" font-size="19" text-anchor="middle">2</text>
<text transform="translate(1059.2,1130.6) scale(1,1.09)" font-size="19" text-anchor="middle">3</text>
<text transform="translate(1134.3,1130.6) scale(1,1.09)" font-size="19" text-anchor="middle">4</text>
<text transform="translate(1209.5,1130.6) scale(1,1.09)" font-size="19" text-anchor="middle">5</text>
<text transform="translate(1284.7,1130.6) scale(1,1.09)" font-size="19" text-anchor="middle">6</text>
<text transform="translate(1359.9,1130.6) scale(1,1.09)" font-size="19" text-anchor="middle">7</text>
<text transform="translate(780.0,1064.6) scale(1,1.09)" font-size="19" text-anchor="end">0</text>
<text transform="translate(780.0,984.7) scale(1,1.09)" font-size="19" text-anchor="end">2</text>
<text transform="translate(780.0,904.7) scale(1,1.09)" font-size="19" text-anchor="end">4</text>
<text transform="translate(780.0,824.8) scale(1,1.09)" font-size="19" text-anchor="end">6</text>
<text transform="translate(780.0,744.8) scale(1,1.09)" font-size="19" text-anchor="end">8</text>
<text transform="translate(780.0,664.9) scale(1,1.09)" font-size="19" text-anchor="end">10</text>
<text transform="translate(809.9,642.9) scale(1,1.07)" font-size="25">d</text>
<g transform="translate(13.93,0) scale(0.9872,1)"><g transform="translate(0,663.3) scale(1,1.07) translate(0,-663.3)"><text x="1013.0" y="663.3" font-size="22.5"><tspan font-style="italic">Adj.R</tspan><tspan font-size="14.4" dy="-9.0">2</tspan><tspan dy="9.0">=0.21</tspan></text></g></g>
<g transform="translate(13.93,0) scale(0.9872,1)"><g transform="translate(0,691.2) scale(1,1.07) translate(0,-691.2)"><text x="1013.0" y="691.2" font-size="22.5"><tspan font-style="italic">P</tspan></text><path d="M1047.7 676.3L1029.7 682.9L1047.7 689.6" fill="none" stroke="#000" stroke-width="1.25"/><text x="1051.0" y="691.2" font-size="22.5">0.001</text></g></g>
<g transform="translate(13.93,0) scale(0.9872,1)"><g transform="translate(0,719.0) scale(1,1.07) translate(0,-719.0)"><text x="1013.0" y="719.0" font-size="22.5"><tspan font-style="italic">n</tspan>=568</text></g></g>
<g transform="translate(-10.82,-3.90) scale(1.0096,1.0000)"><text x="1096.8" y="1173.5" font-size="25" text-anchor="middle">ln(1+Reaction duration)  (h)</text></g>
<g transform="translate(-1.20,3.90) scale(1.0000,1.0097)"><text transform="translate(749.4,846.1) rotate(-90)" font-size="25" text-anchor="middle">ln(1+Power density)  (mW/m<tspan font-size="17.5" dy="-11">2</tspan><tspan dy="11">)</tspan></text></g>
<g fill="none" stroke="#3434d4" stroke-width="1.1"><circle cx="249.1" cy="1434.4" r="2.95"/><circle cx="249.1" cy="1438.5" r="2.95"/><circle cx="249.1" cy="1442.5" r="2.95"/><circle cx="249.1" cy="1446.6" r="2.95"/><circle cx="249.1" cy="1450.6" r="2.95"/><circle cx="249.1" cy="1454.7" r="2.95"/><circle cx="249.1" cy="1471.8" r="2.95"/><circle cx="249.1" cy="1480.4" r="2.95"/><circle cx="309.0" cy="1280.5" r="2.95"/><circle cx="309.0" cy="1284.6" r="2.95"/><circle cx="309.0" cy="1288.7" r="2.95"/><circle cx="309.0" cy="1292.9" r="2.95"/><circle cx="309.0" cy="1297.0" r="2.95"/><circle cx="309.0" cy="1301.1" r="2.95"/><circle cx="309.0" cy="1305.2" r="2.95"/><circle cx="309.0" cy="1309.3" r="2.95"/><circle cx="309.0" cy="1313.5" r="2.95"/><circle cx="309.0" cy="1317.6" r="2.95"/><circle cx="309.0" cy="1321.7" r="2.95"/><circle cx="309.0" cy="1325.8" r="2.95"/><circle cx="309.0" cy="1330.0" r="2.95"/><circle cx="309.0" cy="1334.1" r="2.95"/><circle cx="309.0" cy="1338.2" r="2.95"/><circle cx="309.0" cy="1348.9" r="2.95"/><circle cx="309.0" cy="1353.1" r="2.95"/><circle cx="309.0" cy="1363.8" r="2.95"/><circle cx="309.0" cy="1373.5" r="2.95"/><circle cx="309.0" cy="1376.7" r="2.95"/><circle cx="309.0" cy="1405.1" r="2.95"/><circle cx="309.0" cy="1447.2" r="2.95"/><circle cx="309.0" cy="1451.8" r="2.95"/><circle cx="309.0" cy="1456.5" r="2.95"/><circle cx="309.0" cy="1461.1" r="2.95"/><circle cx="309.0" cy="1465.8" r="2.95"/><circle cx="309.0" cy="1470.4" r="2.95"/><circle cx="309.0" cy="1475.1" r="2.95"/><circle cx="309.0" cy="1479.7" r="2.95"/><circle cx="309.0" cy="1484.4" r="2.95"/><circle cx="309.0" cy="1489.0" r="2.95"/><circle cx="309.0" cy="1493.7" r="2.95"/><circle cx="309.0" cy="1498.3" r="2.95"/><circle cx="309.0" cy="1503.0" r="2.95"/><circle cx="309.0" cy="1507.6" r="2.95"/><circle cx="309.0" cy="1512.3" r="2.95"/><circle cx="309.0" cy="1516.9" r="2.95"/><circle cx="309.0" cy="1521.6" r="2.95"/><circle cx="309.0" cy="1526.2" r="2.95"/><circle cx="309.0" cy="1530.9" r="2.95"/><circle cx="309.0" cy="1535.5" r="2.95"/><circle cx="309.0" cy="1540.2" r="2.95"/><circle cx="309.0" cy="1544.8" r="2.95"/><circle cx="309.0" cy="1549.5" r="2.95"/><circle cx="309.0" cy="1554.1" r="2.95"/><circle cx="309.0" cy="1574.0" r="2.95"/><circle cx="309.0" cy="1583.6" r="2.95"/><circle cx="309.0" cy="1623.6" r="2.95"/><circle cx="343.2" cy="1430.1" r="2.95"/><circle cx="343.2" cy="1434.1" r="2.95"/><circle cx="343.2" cy="1438.2" r="2.95"/><circle cx="343.2" cy="1442.2" r="2.95"/><circle cx="343.2" cy="1446.3" r="2.95"/><circle cx="343.2" cy="1450.3" r="2.95"/><circle cx="343.2" cy="1454.4" r="2.95"/><circle cx="343.2" cy="1458.4" r="2.95"/><circle cx="343.2" cy="1462.4" r="2.95"/><circle cx="343.2" cy="1466.5" r="2.95"/><circle cx="343.2" cy="1470.5" r="2.95"/><circle cx="343.2" cy="1474.6" r="2.95"/><circle cx="343.2" cy="1478.6" r="2.95"/><circle cx="343.2" cy="1482.7" r="2.95"/><circle cx="343.2" cy="1486.7" r="2.95"/><circle cx="343.2" cy="1490.8" r="2.95"/><circle cx="343.2" cy="1494.8" r="2.95"/><circle cx="343.2" cy="1498.8" r="2.95"/><circle cx="343.2" cy="1502.9" r="2.95"/><circle cx="343.2" cy="1506.9" r="2.95"/><circle cx="343.2" cy="1511.0" r="2.95"/><circle cx="343.2" cy="1515.0" r="2.95"/><circle cx="343.2" cy="1519.1" r="2.95"/><circle cx="343.2" cy="1523.1" r="2.95"/><circle cx="343.2" cy="1527.1" r="2.95"/><circle cx="343.2" cy="1531.2" r="2.95"/><circle cx="343.2" cy="1535.2" r="2.95"/><circle cx="343.2" cy="1539.3" r="2.95"/><circle cx="343.2" cy="1543.3" r="2.95"/><circle cx="343.2" cy="1547.4" r="2.95"/><circle cx="343.2" cy="1551.4" r="2.95"/><circle cx="343.2" cy="1555.4" r="2.95"/><circle cx="343.2" cy="1559.5" r="2.95"/><circle cx="343.2" cy="1563.5" r="2.95"/><circle cx="343.2" cy="1567.6" r="2.95"/><circle cx="343.2" cy="1571.6" r="2.95"/><circle cx="343.2" cy="1575.7" r="2.95"/><circle cx="343.2" cy="1579.7" r="2.95"/><circle cx="343.2" cy="1583.7" r="2.95"/><circle cx="343.2" cy="1587.8" r="2.95"/><circle cx="343.2" cy="1591.8" r="2.95"/><circle cx="343.2" cy="1595.9" r="2.95"/><circle cx="343.2" cy="1599.9" r="2.95"/><circle cx="343.2" cy="1604.0" r="2.95"/><circle cx="343.2" cy="1608.0" r="2.95"/><circle cx="343.2" cy="1612.1" r="2.95"/><circle cx="343.2" cy="1616.1" r="2.95"/><circle cx="343.2" cy="1620.1" r="2.95"/><circle cx="343.2" cy="1624.2" r="2.95"/><circle cx="343.2" cy="1628.2" r="2.95"/><circle cx="343.2" cy="1632.3" r="2.95"/><circle cx="343.2" cy="1636.3" r="2.95"/><circle cx="343.2" cy="1640.4" r="2.95"/><circle cx="343.2" cy="1644.4" r="2.95"/><circle cx="381.9" cy="1423.7" r="2.95"/><circle cx="381.9" cy="1428.5" r="2.95"/><circle cx="381.9" cy="1433.4" r="2.95"/><circle cx="381.9" cy="1438.2" r="2.95"/><circle cx="381.9" cy="1443.1" r="2.95"/><circle cx="381.9" cy="1447.9" r="2.95"/><circle cx="381.9" cy="1452.8" r="2.95"/><circle cx="381.9" cy="1457.6" r="2.95"/><circle cx="381.9" cy="1462.4" r="2.95"/><circle cx="381.9" cy="1467.3" r="2.95"/><circle cx="381.9" cy="1472.1" r="2.95"/><circle cx="381.9" cy="1477.0" r="2.95"/><circle cx="381.9" cy="1481.8" r="2.95"/><circle cx="381.9" cy="1495.8" r="2.95"/><circle cx="381.9" cy="1510.4" r="2.95"/><circle cx="381.9" cy="1605.2" r="2.95"/><circle cx="390.5" cy="1481.8" r="2.95"/><circle cx="390.5" cy="1486.4" r="2.95"/><circle cx="390.5" cy="1491.1" r="2.95"/><circle cx="390.5" cy="1495.7" r="2.95"/><circle cx="390.5" cy="1500.3" r="2.95"/><circle cx="390.5" cy="1504.9" r="2.95"/><circle cx="390.5" cy="1509.6" r="2.95"/><circle cx="390.5" cy="1514.2" r="2.95"/><circle cx="390.5" cy="1518.8" r="2.95"/><circle cx="390.5" cy="1523.4" r="2.95"/><circle cx="390.5" cy="1528.1" r="2.95"/><circle cx="390.5" cy="1532.7" r="2.95"/><circle cx="390.5" cy="1537.3" r="2.95"/><circle cx="390.5" cy="1542.0" r="2.95"/><circle cx="390.5" cy="1546.6" r="2.95"/><circle cx="390.5" cy="1551.2" r="2.95"/><circle cx="390.5" cy="1555.8" r="2.95"/><circle cx="390.5" cy="1560.5" r="2.95"/><circle cx="390.5" cy="1565.1" r="2.95"/><circle cx="390.5" cy="1569.7" r="2.95"/><circle cx="390.5" cy="1574.3" r="2.95"/><circle cx="390.5" cy="1579.0" r="2.95"/><circle cx="390.5" cy="1583.6" r="2.95"/><circle cx="390.5" cy="1609.5" r="2.95"/><circle cx="420.6" cy="1373.2" r="2.95"/><circle cx="420.6" cy="1376.6" r="2.95"/><circle cx="420.6" cy="1379.9" r="2.95"/><circle cx="420.6" cy="1383.3" r="2.95"/><circle cx="420.6" cy="1386.7" r="2.95"/><circle cx="420.6" cy="1390.0" r="2.95"/><circle cx="420.6" cy="1393.4" r="2.95"/><circle cx="420.6" cy="1396.8" r="2.95"/><circle cx="420.6" cy="1400.1" r="2.95"/><circle cx="420.6" cy="1403.5" r="2.95"/><circle cx="420.6" cy="1406.9" r="2.95"/><circle cx="420.6" cy="1410.2" r="2.95"/><circle cx="420.6" cy="1413.6" r="2.95"/><circle cx="420.6" cy="1417.0" r="2.95"/><circle cx="420.6" cy="1420.3" r="2.95"/><circle cx="420.6" cy="1423.7" r="2.95"/><circle cx="420.6" cy="1427.1" r="2.95"/><circle cx="420.6" cy="1430.4" r="2.95"/><circle cx="420.6" cy="1433.8" r="2.95"/><circle cx="420.6" cy="1437.2" r="2.95"/><circle cx="420.6" cy="1440.5" r="2.95"/><circle cx="420.6" cy="1443.9" r="2.95"/><circle cx="420.6" cy="1447.3" r="2.95"/><circle cx="420.6" cy="1450.6" r="2.95"/><circle cx="420.6" cy="1454.0" r="2.95"/><circle cx="420.6" cy="1457.4" r="2.95"/><circle cx="420.6" cy="1460.7" r="2.95"/><circle cx="420.6" cy="1464.1" r="2.95"/><circle cx="420.6" cy="1467.5" r="2.95"/><circle cx="420.6" cy="1470.8" r="2.95"/><circle cx="420.6" cy="1474.2" r="2.95"/><circle cx="420.6" cy="1477.6" r="2.95"/><circle cx="420.6" cy="1480.9" r="2.95"/><circle cx="420.6" cy="1484.3" r="2.95"/><circle cx="420.6" cy="1487.7" r="2.95"/><circle cx="420.6" cy="1491.0" r="2.95"/><circle cx="420.6" cy="1494.4" r="2.95"/><circle cx="420.6" cy="1497.8" r="2.95"/><circle cx="420.6" cy="1501.1" r="2.95"/><circle cx="420.6" cy="1504.5" r="2.95"/><circle cx="420.6" cy="1507.9" r="2.95"/><circle cx="420.6" cy="1511.2" r="2.95"/><circle cx="420.6" cy="1514.6" r="2.95"/><circle cx="420.6" cy="1518.0" r="2.95"/><circle cx="420.6" cy="1521.3" r="2.95"/><circle cx="420.6" cy="1524.7" r="2.95"/><circle cx="420.6" cy="1528.1" r="2.95"/><circle cx="420.6" cy="1531.4" r="2.95"/><circle cx="420.6" cy="1534.8" r="2.95"/><circle cx="420.6" cy="1538.2" r="2.95"/><circle cx="420.6" cy="1541.5" r="2.95"/><circle cx="420.6" cy="1544.9" r="2.95"/><circle cx="420.6" cy="1548.3" r="2.95"/><circle cx="420.6" cy="1551.6" r="2.95"/><circle cx="420.6" cy="1555.0" r="2.95"/><circle cx="420.6" cy="1558.4" r="2.95"/><circle cx="420.6" cy="1561.7" r="2.95"/><circle cx="420.6" cy="1565.1" r="2.95"/><circle cx="420.6" cy="1568.5" r="2.95"/><circle cx="420.6" cy="1571.8" r="2.95"/><circle cx="420.6" cy="1575.2" r="2.95"/><circle cx="420.6" cy="1578.6" r="2.95"/><circle cx="420.6" cy="1581.9" r="2.95"/><circle cx="420.6" cy="1585.3" r="2.95"/><circle cx="420.6" cy="1588.7" r="2.95"/><circle cx="420.6" cy="1592.0" r="2.95"/><circle cx="420.6" cy="1595.4" r="2.95"/><circle cx="420.6" cy="1598.8" r="2.95"/><circle cx="420.6" cy="1602.1" r="2.95"/><circle cx="420.6" cy="1605.5" r="2.95"/><circle cx="420.6" cy="1608.9" r="2.95"/><circle cx="420.6" cy="1612.2" r="2.95"/><circle cx="420.6" cy="1615.6" r="2.95"/><circle cx="420.6" cy="1619.0" r="2.95"/><circle cx="420.6" cy="1622.3" r="2.95"/><circle cx="420.6" cy="1625.7" r="2.95"/><circle cx="420.6" cy="1629.1" r="2.95"/><circle cx="420.6" cy="1632.4" r="2.95"/><circle cx="420.6" cy="1635.8" r="2.95"/><circle cx="420.6" cy="1639.2" r="2.95"/><circle cx="420.6" cy="1642.5" r="2.95"/><circle cx="420.6" cy="1645.9" r="2.95"/><circle cx="420.6" cy="1649.3" r="2.95"/><circle cx="420.6" cy="1652.6" r="2.95"/><circle cx="420.6" cy="1656.0" r="2.95"/><circle cx="420.6" cy="1659.4" r="2.95"/><circle cx="420.6" cy="1662.7" r="2.95"/><circle cx="420.6" cy="1666.1" r="2.95"/><circle cx="420.6" cy="1669.5" r="2.95"/><circle cx="420.6" cy="1672.8" r="2.95"/><circle cx="420.6" cy="1676.2" r="2.95"/><circle cx="433.5" cy="1422.7" r="2.95"/><circle cx="433.5" cy="1427.4" r="2.95"/><circle cx="433.5" cy="1432.1" r="2.95"/><circle cx="433.5" cy="1436.9" r="2.95"/><circle cx="433.5" cy="1441.6" r="2.95"/><circle cx="433.5" cy="1446.3" r="2.95"/><circle cx="433.5" cy="1451.0" r="2.95"/><circle cx="433.5" cy="1455.7" r="2.95"/><circle cx="433.5" cy="1460.4" r="2.95"/><circle cx="433.5" cy="1465.2" r="2.95"/><circle cx="433.5" cy="1469.9" r="2.95"/><circle cx="433.5" cy="1474.6" r="2.95"/><circle cx="433.5" cy="1479.3" r="2.95"/><circle cx="433.5" cy="1484.0" r="2.95"/><circle cx="433.5" cy="1488.7" r="2.95"/><circle cx="433.5" cy="1493.5" r="2.95"/><circle cx="433.5" cy="1498.2" r="2.95"/><circle cx="433.5" cy="1502.9" r="2.95"/><circle cx="433.5" cy="1514.8" r="2.95"/><circle cx="450.8" cy="1475.4" r="2.95"/><circle cx="450.8" cy="1482.9" r="2.95"/><circle cx="450.8" cy="1493.2" r="2.95"/><circle cx="450.8" cy="1515.4" r="2.95"/><circle cx="450.8" cy="1562.1" r="2.95"/><circle cx="463.7" cy="1421.6" r="2.95"/><circle cx="463.7" cy="1426.3" r="2.95"/><circle cx="463.7" cy="1430.9" r="2.95"/><circle cx="463.7" cy="1435.6" r="2.95"/><circle cx="463.7" cy="1440.2" r="2.95"/><circle cx="463.7" cy="1444.9" r="2.95"/><circle cx="463.7" cy="1449.6" r="2.95"/><circle cx="463.7" cy="1454.2" r="2.95"/><circle cx="463.7" cy="1458.9" r="2.95"/><circle cx="463.7" cy="1463.5" r="2.95"/><circle cx="463.7" cy="1468.2" r="2.95"/><circle cx="463.7" cy="1472.8" r="2.95"/><circle cx="463.7" cy="1477.5" r="2.95"/><circle cx="463.7" cy="1482.2" r="2.95"/><circle cx="463.7" cy="1486.8" r="2.95"/><circle cx="463.7" cy="1491.5" r="2.95"/><circle cx="463.7" cy="1496.1" r="2.95"/><circle cx="463.7" cy="1500.8" r="2.95"/><circle cx="463.7" cy="1548.8" r="2.95"/><circle cx="463.7" cy="1564.3" r="2.95"/><circle cx="463.7" cy="1579.3" r="2.95"/><circle cx="463.7" cy="1623.4" r="2.95"/><circle cx="463.7" cy="1638.9" r="2.95"/><circle cx="489.5" cy="1381.8" r="2.95"/><circle cx="489.5" cy="1386.5" r="2.95"/><circle cx="489.5" cy="1391.3" r="2.95"/><circle cx="489.5" cy="1396.0" r="2.95"/><circle cx="489.5" cy="1400.7" r="2.95"/><circle cx="489.5" cy="1405.4" r="2.95"/><circle cx="489.5" cy="1410.2" r="2.95"/><circle cx="489.5" cy="1414.9" r="2.95"/><circle cx="489.5" cy="1419.6" r="2.95"/><circle cx="489.5" cy="1424.4" r="2.95"/><circle cx="489.5" cy="1429.1" r="2.95"/><circle cx="489.5" cy="1445.3" r="2.95"/><circle cx="489.5" cy="1450.6" r="2.95"/><circle cx="489.5" cy="1459.2" r="2.95"/><circle cx="489.5" cy="1463.2" r="2.95"/><circle cx="489.5" cy="1467.3" r="2.95"/><circle cx="489.5" cy="1471.3" r="2.95"/><circle cx="489.5" cy="1475.4" r="2.95"/><circle cx="489.5" cy="1479.4" r="2.95"/><circle cx="489.5" cy="1483.4" r="2.95"/><circle cx="489.5" cy="1487.5" r="2.95"/><circle cx="489.5" cy="1491.5" r="2.95"/><circle cx="489.5" cy="1495.5" r="2.95"/><circle cx="489.5" cy="1499.6" r="2.95"/><circle cx="489.5" cy="1503.6" r="2.95"/><circle cx="489.5" cy="1507.7" r="2.95"/><circle cx="489.5" cy="1511.7" r="2.95"/><circle cx="489.5" cy="1515.7" r="2.95"/><circle cx="489.5" cy="1519.8" r="2.95"/><circle cx="489.5" cy="1523.8" r="2.95"/><circle cx="489.5" cy="1527.8" r="2.95"/><circle cx="489.5" cy="1531.9" r="2.95"/><circle cx="489.5" cy="1535.9" r="2.95"/><circle cx="489.5" cy="1540.0" r="2.95"/><circle cx="489.5" cy="1544.0" r="2.95"/><circle cx="489.5" cy="1548.0" r="2.95"/><circle cx="489.5" cy="1552.1" r="2.95"/><circle cx="489.5" cy="1556.1" r="2.95"/><circle cx="489.5" cy="1560.2" r="2.95"/><circle cx="489.5" cy="1564.2" r="2.95"/><circle cx="489.5" cy="1568.2" r="2.95"/><circle cx="489.5" cy="1572.3" r="2.95"/><circle cx="489.5" cy="1576.3" r="2.95"/><circle cx="489.5" cy="1580.3" r="2.95"/><circle cx="489.5" cy="1584.4" r="2.95"/><circle cx="489.5" cy="1588.4" r="2.95"/><circle cx="489.5" cy="1592.5" r="2.95"/><circle cx="489.5" cy="1596.5" r="2.95"/><circle cx="489.5" cy="1612.7" r="2.95"/><circle cx="489.5" cy="1615.9" r="2.95"/><circle cx="489.5" cy="1629.5" r="2.95"/><circle cx="489.5" cy="1648.2" r="2.95"/><circle cx="545.5" cy="1385.0" r="2.95"/><circle cx="545.5" cy="1389.6" r="2.95"/><circle cx="545.5" cy="1394.2" r="2.95"/><circle cx="545.5" cy="1398.8" r="2.95"/><circle cx="545.5" cy="1403.4" r="2.95"/><circle cx="545.5" cy="1408.0" r="2.95"/><circle cx="545.5" cy="1412.6" r="2.95"/><circle cx="545.5" cy="1417.2" r="2.95"/><circle cx="545.5" cy="1421.8" r="2.95"/><circle cx="545.5" cy="1426.4" r="2.95"/><circle cx="545.5" cy="1431.0" r="2.95"/><circle cx="545.5" cy="1435.6" r="2.95"/><circle cx="532.6" cy="1530.9" r="2.95"/><circle cx="532.6" cy="1536.3" r="2.95"/><circle cx="532.6" cy="1552.4" r="2.95"/><circle cx="532.6" cy="1554.6" r="2.95"/><circle cx="532.6" cy="1594.8" r="2.95"/><circle cx="605.3" cy="1541.7" r="2.95"/><circle cx="605.3" cy="1544.0" r="2.95"/><circle cx="605.3" cy="1556.7" r="2.95"/><circle cx="605.3" cy="1558.4" r="2.95"/><circle cx="605.3" cy="1606.2" r="2.95"/><circle cx="124.5" cy="1644.4" r="2.95"/><circle cx="150.1" cy="1557.4" r="2.95"/><circle cx="150.1" cy="1560.1" r="2.95"/><circle cx="150.1" cy="1589.9" r="2.95"/><circle cx="205.9" cy="1639.7" r="2.95"/><circle cx="249.1" cy="1519.9" r="2.95"/><circle cx="249.1" cy="1574.0" r="2.95"/><circle cx="270.3" cy="1632.6" r="2.95"/><circle cx="326.3" cy="1630.3" r="2.95"/><circle cx="378.2" cy="1627.3" r="2.95"/><circle cx="502.4" cy="1621.3" r="2.95"/><circle cx="536.9" cy="1623.4" r="2.95"/><circle cx="567.0" cy="1624.1" r="2.95"/></g><polygon points="124.4,1457.2 132.5,1458.5 140.5,1459.8 148.5,1461.0 156.5,1462.3 164.5,1463.5 172.5,1464.8 180.6,1466.0 188.6,1467.3 196.6,1468.5 204.6,1469.8 212.6,1471.0 220.7,1472.2 228.7,1473.5 236.7,1474.7 244.7,1476.0 252.7,1477.2 260.7,1478.5 268.8,1479.7 276.8,1480.9 284.8,1482.2 292.8,1483.4 300.8,1484.6 308.8,1485.8 316.9,1487.0 324.9,1488.2 332.9,1489.4 340.9,1490.6 348.9,1491.8 356.9,1492.9 365.0,1494.0 373.0,1495.1 381.0,1496.2 389.0,1497.2 397.0,1498.1 405.1,1499.0 413.1,1499.8 421.1,1500.5 429.1,1501.1 437.1,1501.7 445.1,1502.2 453.2,1502.7 461.2,1503.1 469.2,1503.5 477.2,1503.9 485.2,1504.2 493.2,1504.6 501.3,1504.9 509.3,1505.2 517.3,1505.5 525.3,1505.9 533.3,1506.2 541.3,1506.5 549.4,1506.8 557.4,1507.0 565.4,1507.3 573.4,1507.6 581.4,1507.9 589.5,1508.2 597.5,1508.5 605.5,1508.8 605.5,1533.6 597.5,1532.3 589.5,1531.1 581.4,1529.8 573.4,1528.6 565.4,1527.4 557.4,1526.1 549.4,1524.9 541.3,1523.7 533.3,1522.4 525.3,1521.2 517.3,1520.0 509.3,1518.8 501.3,1517.6 493.2,1516.4 485.2,1515.2 477.2,1514.1 469.2,1512.9 461.2,1511.8 453.2,1510.7 445.1,1509.6 437.1,1508.6 429.1,1507.7 421.1,1506.8 413.1,1506.0 405.1,1505.2 397.0,1504.6 389.0,1504.0 381.0,1503.5 373.0,1503.0 365.0,1502.6 356.9,1502.1 348.9,1501.8 340.9,1501.4 332.9,1501.1 324.9,1500.7 316.9,1500.4 308.8,1500.1 300.8,1499.8 292.8,1499.5 284.8,1499.2 276.8,1498.9 268.8,1498.6 260.7,1498.3 252.7,1498.0 244.7,1497.7 236.7,1497.4 228.7,1497.1 220.7,1496.9 212.6,1496.6 204.6,1496.3 196.6,1496.0 188.6,1495.7 180.6,1495.5 172.5,1495.2 164.5,1494.9 156.5,1494.6 148.5,1494.4 140.5,1494.1 132.5,1493.8 124.4,1493.6" fill="#ff8080" fill-opacity="0.62" stroke="none"/><polyline points="124.4,1475.4 132.5,1476.2 140.5,1476.9 148.5,1477.7 156.5,1478.5 164.5,1479.2 172.5,1480.0 180.6,1480.7 188.6,1481.5 196.6,1482.3 204.6,1483.0 212.6,1483.8 220.7,1484.6 228.7,1485.3 236.7,1486.1 244.7,1486.8 252.7,1487.6 260.7,1488.4 268.8,1489.1 276.8,1489.9 284.8,1490.7 292.8,1491.4 300.8,1492.2 308.8,1492.9 316.9,1493.7 324.9,1494.5 332.9,1495.2 340.9,1496.0 348.9,1496.8 356.9,1497.5 365.0,1498.3 373.0,1499.0 381.0,1499.8 389.0,1500.6 397.0,1501.3 405.1,1502.1 413.1,1502.9 421.1,1503.6 429.1,1504.4 437.1,1505.1 445.1,1505.9 453.2,1506.7 461.2,1507.4 469.2,1508.2 477.2,1509.0 485.2,1509.7 493.2,1510.5 501.3,1511.3 509.3,1512.0 517.3,1512.8 525.3,1513.5 533.3,1514.3 541.3,1515.1 549.4,1515.8 557.4,1516.6 565.4,1517.4 573.4,1518.1 581.4,1518.9 589.5,1519.6 597.5,1520.4 605.5,1521.2" fill="none" stroke="#f22a2a" stroke-width="1.3"/>
<rect x="77.2" y="1238.1" width="601.3" height="479.8" fill="none" stroke="#000" stroke-width="2"/>
<path d="M77.2 1717.9V1726.9 M163.1 1717.9V1726.9 M249.0 1717.9V1726.9 M334.9 1717.9V1726.9 M420.8 1717.9V1726.9 M506.7 1717.9V1726.9 M592.6 1717.9V1726.9 M678.5 1717.9V1726.9 M120.2 1717.9V1722.9 M206.0 1717.9V1722.9 M291.9 1717.9V1722.9 M377.8 1717.9V1722.9 M463.7 1717.9V1722.9 M549.7 1717.9V1722.9 M635.5 1717.9V1722.9 M77.2 1677.9H68.2 M77.2 1598.0H68.2 M77.2 1518.0H68.2 M77.2 1438.0H68.2 M77.2 1358.0H68.2 M77.2 1278.1H68.2" stroke="#000" stroke-width="2" fill="none"/>
<text transform="translate(77.2,1750.5) scale(1,1.09)" font-size="19" text-anchor="middle">2.6</text>
<text transform="translate(163.1,1750.5) scale(1,1.09)" font-size="19" text-anchor="middle">2.8</text>
<text transform="translate(249.0,1750.5) scale(1,1.09)" font-size="19" text-anchor="middle">3.0</text>
<text transform="translate(334.9,1750.5) scale(1,1.09)" font-size="19" text-anchor="middle">3.2</text>
<text transform="translate(420.8,1750.5) scale(1,1.09)" font-size="19" text-anchor="middle">3.4</text>
<text transform="translate(506.7,1750.5) scale(1,1.09)" font-size="19" text-anchor="middle">3.6</text>
<text transform="translate(592.6,1750.5) scale(1,1.09)" font-size="19" text-anchor="middle">3.8</text>
<text transform="translate(678.5,1750.5) scale(1,1.09)" font-size="19" text-anchor="middle">4.0</text>
<text transform="translate(61.2,1684.5) scale(1,1.09)" font-size="19" text-anchor="end">0</text>
<text transform="translate(61.2,1604.5) scale(1,1.09)" font-size="19" text-anchor="end">2</text>
<text transform="translate(61.2,1524.6) scale(1,1.09)" font-size="19" text-anchor="end">4</text>
<text transform="translate(61.2,1444.6) scale(1,1.09)" font-size="19" text-anchor="end">6</text>
<text transform="translate(61.2,1364.6) scale(1,1.09)" font-size="19" text-anchor="end">8</text>
<text transform="translate(61.2,1284.7) scale(1,1.09)" font-size="19" text-anchor="end">10</text>
<text transform="translate(99.2,1268.5) scale(1,1.07)" font-size="25">e</text>
<g transform="translate(1.70,0) scale(0.9982,1)"><g transform="translate(0,1271.6) scale(1,1.07) translate(0,-1271.6)"><text x="501.2" y="1271.6" font-size="22.5"><tspan font-style="italic">Adj.R</tspan><tspan font-size="14.4" dy="-9.0">2</tspan><tspan dy="9.0">=0.01</tspan></text></g></g>
<g transform="translate(1.70,0) scale(0.9982,1)"><g transform="translate(0,1299.8) scale(1,1.07) translate(0,-1299.8)"><text x="501.2" y="1299.8" font-size="22.5"><tspan font-style="italic">P</tspan><tspan>=0.002</tspan></text></g></g>
<g transform="translate(1.70,0) scale(0.9982,1)"><g transform="translate(0,1328.0) scale(1,1.07) translate(0,-1328.0)"><text x="501.2" y="1328.0" font-size="22.5">n=1384</text></g></g>
<g transform="translate(-4.11,-4.30) scale(1.0130,1.0000)"><text x="377.9" y="1793.4" font-size="25" text-anchor="middle">ln(Temperature)  (°C)</text></g>
<g transform="translate(-0.85,2.30) scale(1.0000,1.0065)"><text transform="translate(30.6,1466.0) rotate(-90)" font-size="25" text-anchor="middle">ln(1+Power density)  (mW/m<tspan font-size="17.5" dy="-11">2</tspan><tspan dy="11">)</tspan></text></g>
<g fill="none" stroke="#3434d4" stroke-width="1.1"><circle cx="1030.3" cy="1283.7" r="2.95"/><circle cx="1030.3" cy="1296.6" r="2.95"/><circle cx="1030.3" cy="1675.6" r="2.95"/><circle cx="1030.3" cy="1680.7" r="2.95"/><circle cx="1030.3" cy="1685.7" r="2.95"/><circle cx="1084.6" cy="1311.6" r="2.95"/><circle cx="1084.6" cy="1320.5" r="2.95"/><circle cx="1084.6" cy="1329.5" r="2.95"/><circle cx="1084.6" cy="1338.4" r="2.95"/><circle cx="1084.6" cy="1347.4" r="2.95"/><circle cx="1084.6" cy="1356.3" r="2.95"/><circle cx="1084.6" cy="1365.3" r="2.95"/><circle cx="1084.6" cy="1376.0" r="2.95"/><circle cx="1084.6" cy="1387.8" r="2.95"/><circle cx="1084.6" cy="1402.2" r="2.95"/><circle cx="897.3" cy="1469.3" r="2.95"/><circle cx="897.3" cy="1477.9" r="2.95"/><circle cx="897.3" cy="1485.8" r="2.95"/><circle cx="897.3" cy="1498.3" r="2.95"/><circle cx="897.3" cy="1517.9" r="2.95"/><circle cx="897.3" cy="1524.3" r="2.95"/><circle cx="897.3" cy="1539.3" r="2.95"/><circle cx="897.3" cy="1543.6" r="2.95"/><circle cx="897.3" cy="1551.1" r="2.95"/><circle cx="897.3" cy="1558.7" r="2.95"/><circle cx="897.3" cy="1569.4" r="2.95"/><circle cx="897.3" cy="1616.2" r="2.95"/><circle cx="957.3" cy="1433.9" r="2.95"/><circle cx="957.3" cy="1440.4" r="2.95"/><circle cx="957.3" cy="1458.0" r="2.95"/><circle cx="957.3" cy="1477.9" r="2.95"/><circle cx="957.3" cy="1482.2" r="2.95"/><circle cx="957.3" cy="1487.6" r="2.95"/><circle cx="957.3" cy="1510.4" r="2.95"/><circle cx="957.3" cy="1522.2" r="2.95"/><circle cx="957.3" cy="1536.8" r="2.95"/><circle cx="957.3" cy="1562.9" r="2.95"/><circle cx="957.3" cy="1593.6" r="2.95"/><circle cx="957.3" cy="1625.6" r="2.95"/><circle cx="957.3" cy="1685.7" r="2.95"/><circle cx="965.5" cy="1461.8" r="2.95"/><circle cx="965.5" cy="1468.3" r="2.95"/><circle cx="965.5" cy="1474.7" r="2.95"/><circle cx="965.5" cy="1480.1" r="2.95"/><circle cx="965.5" cy="1484.3" r="2.95"/><circle cx="965.5" cy="1495.1" r="2.95"/><circle cx="965.5" cy="1510.4" r="2.95"/><circle cx="965.5" cy="1526.5" r="2.95"/><circle cx="965.5" cy="1550.1" r="2.95"/><circle cx="965.5" cy="1621.5" r="2.95"/><circle cx="839.6" cy="1568.3" r="2.95"/><circle cx="839.6" cy="1572.3" r="2.95"/><circle cx="839.6" cy="1576.4" r="2.95"/><circle cx="839.6" cy="1580.4" r="2.95"/><circle cx="839.6" cy="1584.5" r="2.95"/><circle cx="839.6" cy="1588.5" r="2.95"/><circle cx="839.6" cy="1592.6" r="2.95"/><circle cx="839.6" cy="1596.6" r="2.95"/><circle cx="839.6" cy="1600.7" r="2.95"/><circle cx="839.6" cy="1604.7" r="2.95"/><circle cx="839.6" cy="1608.8" r="2.95"/><circle cx="839.6" cy="1612.8" r="2.95"/><circle cx="839.6" cy="1616.9" r="2.95"/><circle cx="839.6" cy="1620.9" r="2.95"/><circle cx="839.6" cy="1625.0" r="2.95"/><circle cx="839.6" cy="1629.0" r="2.95"/><circle cx="839.6" cy="1633.1" r="2.95"/><circle cx="839.6" cy="1637.1" r="2.95"/><circle cx="839.6" cy="1641.2" r="2.95"/><circle cx="839.6" cy="1645.2" r="2.95"/><circle cx="839.6" cy="1649.3" r="2.95"/><circle cx="839.6" cy="1653.3" r="2.95"/><circle cx="839.6" cy="1657.4" r="2.95"/><circle cx="839.6" cy="1661.4" r="2.95"/><circle cx="839.6" cy="1665.5" r="2.95"/><circle cx="839.6" cy="1669.5" r="2.95"/><circle cx="839.6" cy="1673.6" r="2.95"/><circle cx="839.6" cy="1677.6" r="2.95"/><circle cx="839.6" cy="1681.7" r="2.95"/><circle cx="839.6" cy="1685.7" r="2.95"/><circle cx="850.1" cy="1600.5" r="2.95"/><circle cx="850.1" cy="1604.5" r="2.95"/><circle cx="850.1" cy="1608.5" r="2.95"/><circle cx="850.1" cy="1612.6" r="2.95"/><circle cx="850.1" cy="1616.6" r="2.95"/><circle cx="850.1" cy="1627.3" r="2.95"/><circle cx="850.1" cy="1641.9" r="2.95"/><circle cx="850.1" cy="1685.7" r="2.95"/><circle cx="997.2" cy="1650.9" r="2.95"/><circle cx="997.2" cy="1657.9" r="2.95"/><circle cx="997.2" cy="1664.8" r="2.95"/><circle cx="997.2" cy="1671.8" r="2.95"/><circle cx="997.2" cy="1678.7" r="2.95"/><circle cx="997.2" cy="1685.7" r="2.95"/><circle cx="1032.4" cy="1506.1" r="2.95"/><circle cx="1032.4" cy="1510.1" r="2.95"/><circle cx="1032.4" cy="1514.2" r="2.95"/><circle cx="1032.4" cy="1518.2" r="2.95"/><circle cx="1032.4" cy="1522.3" r="2.95"/><circle cx="1032.4" cy="1526.3" r="2.95"/><circle cx="1032.4" cy="1530.4" r="2.95"/><circle cx="1032.4" cy="1534.4" r="2.95"/><circle cx="1032.4" cy="1538.5" r="2.95"/><circle cx="1032.4" cy="1542.5" r="2.95"/><circle cx="1032.4" cy="1546.6" r="2.95"/><circle cx="1032.4" cy="1550.6" r="2.95"/><circle cx="1032.4" cy="1554.6" r="2.95"/><circle cx="1032.4" cy="1558.7" r="2.95"/><circle cx="1032.4" cy="1562.7" r="2.95"/><circle cx="1032.4" cy="1566.8" r="2.95"/><circle cx="1032.4" cy="1570.8" r="2.95"/><circle cx="1032.4" cy="1574.9" r="2.95"/><circle cx="1032.4" cy="1578.9" r="2.95"/><circle cx="1032.4" cy="1583.0" r="2.95"/><circle cx="1032.4" cy="1587.0" r="2.95"/><circle cx="1032.4" cy="1591.1" r="2.95"/><circle cx="1032.4" cy="1595.1" r="2.95"/><circle cx="1032.4" cy="1604.4" r="2.95"/><circle cx="1032.4" cy="1628.4" r="2.95"/><circle cx="1032.4" cy="1659.5" r="2.95"/><circle cx="1032.4" cy="1664.3" r="2.95"/><circle cx="1032.4" cy="1669.1" r="2.95"/><circle cx="1048.5" cy="1522.2" r="2.95"/><circle cx="1048.5" cy="1527.5" r="2.95"/><circle cx="1048.5" cy="1552.9" r="2.95"/><circle cx="1048.5" cy="1567.2" r="2.95"/><circle cx="1048.5" cy="1572.4" r="2.95"/><circle cx="1048.5" cy="1577.5" r="2.95"/><circle cx="1048.5" cy="1582.7" r="2.95"/><circle cx="1048.5" cy="1587.8" r="2.95"/><circle cx="1048.5" cy="1593.0" r="2.95"/><circle cx="1048.5" cy="1598.1" r="2.95"/><circle cx="1048.5" cy="1603.2" r="2.95"/><circle cx="1048.5" cy="1608.4" r="2.95"/><circle cx="1048.5" cy="1613.5" r="2.95"/><circle cx="1048.5" cy="1618.7" r="2.95"/><circle cx="1048.5" cy="1638.0" r="2.95"/><circle cx="1048.5" cy="1643.4" r="2.95"/><circle cx="1048.5" cy="1660.6" r="2.95"/><circle cx="1048.5" cy="1668.1" r="2.95"/><circle cx="1048.5" cy="1674.5" r="2.95"/><circle cx="1048.5" cy="1681.0" r="2.95"/><circle cx="1054.5" cy="1557.6" r="2.95"/><circle cx="1054.5" cy="1563.9" r="2.95"/><circle cx="1054.5" cy="1570.2" r="2.95"/><circle cx="1054.5" cy="1576.5" r="2.95"/><circle cx="1054.5" cy="1582.7" r="2.95"/><circle cx="1054.5" cy="1589.0" r="2.95"/><circle cx="1054.5" cy="1595.3" r="2.95"/><circle cx="1054.5" cy="1601.6" r="2.95"/><circle cx="1054.5" cy="1685.7" r="2.95"/><circle cx="1142.8" cy="1473.2" r="2.95"/><circle cx="1142.8" cy="1478.9" r="2.95"/><circle cx="1142.8" cy="1484.7" r="2.95"/><circle cx="1142.8" cy="1490.4" r="2.95"/><circle cx="1142.8" cy="1496.2" r="2.95"/><circle cx="1142.8" cy="1501.9" r="2.95"/><circle cx="1142.8" cy="1507.6" r="2.95"/><circle cx="1142.8" cy="1513.4" r="2.95"/><circle cx="1142.8" cy="1519.1" r="2.95"/><circle cx="1142.8" cy="1528.7" r="2.95"/><circle cx="1142.8" cy="1537.8" r="2.95"/><circle cx="1142.8" cy="1553.9" r="2.95"/><circle cx="1142.8" cy="1575.0" r="2.95"/><circle cx="1142.8" cy="1609.0" r="2.95"/><circle cx="1142.8" cy="1685.4" r="2.95"/><circle cx="1186.5" cy="1441.0" r="2.95"/><circle cx="1186.5" cy="1446.0" r="2.95"/><circle cx="1186.5" cy="1451.0" r="2.95"/><circle cx="1186.5" cy="1456.0" r="2.95"/><circle cx="1186.5" cy="1461.1" r="2.95"/><circle cx="1186.5" cy="1466.1" r="2.95"/><circle cx="1186.5" cy="1471.1" r="2.95"/><circle cx="1186.5" cy="1489.4" r="2.95"/><circle cx="1186.5" cy="1495.8" r="2.95"/><circle cx="1186.5" cy="1500.0" r="2.95"/><circle cx="1186.5" cy="1507.7" r="2.95"/><circle cx="1186.5" cy="1515.4" r="2.95"/><circle cx="1186.5" cy="1523.2" r="2.95"/><circle cx="1186.5" cy="1530.9" r="2.95"/><circle cx="1186.5" cy="1538.6" r="2.95"/><circle cx="1186.5" cy="1546.3" r="2.95"/><circle cx="1186.5" cy="1554.0" r="2.95"/><circle cx="1186.5" cy="1561.8" r="2.95"/><circle cx="1186.5" cy="1569.5" r="2.95"/><circle cx="1186.5" cy="1577.2" r="2.95"/><circle cx="1186.5" cy="1596.1" r="2.95"/><circle cx="1186.5" cy="1613.1" r="2.95"/><circle cx="1186.5" cy="1620.9" r="2.95"/><circle cx="1186.5" cy="1640.7" r="2.95"/><circle cx="1186.5" cy="1674.0" r="2.95"/><circle cx="1238.1" cy="1464.2" r="2.95"/><circle cx="1238.1" cy="1471.1" r="2.95"/><circle cx="1238.1" cy="1476.5" r="2.95"/><circle cx="1238.1" cy="1510.9" r="2.95"/><circle cx="1238.1" cy="1527.2" r="2.95"/><circle cx="1238.1" cy="1565.3" r="2.95"/><circle cx="1099.3" cy="1553.5" r="2.95"/><circle cx="1099.3" cy="1559.2" r="2.95"/><circle cx="1099.3" cy="1565.0" r="2.95"/><circle cx="1099.3" cy="1570.7" r="2.95"/><circle cx="1099.3" cy="1576.4" r="2.95"/><circle cx="1099.3" cy="1582.2" r="2.95"/><circle cx="1099.3" cy="1587.9" r="2.95"/><circle cx="1099.3" cy="1603.0" r="2.95"/><circle cx="1099.3" cy="1613.3" r="2.95"/><circle cx="1099.3" cy="1632.5" r="2.95"/><circle cx="1099.3" cy="1638.5" r="2.95"/><circle cx="1099.3" cy="1650.4" r="2.95"/><circle cx="1099.3" cy="1655.7" r="2.95"/><circle cx="1099.3" cy="1661.1" r="2.95"/><circle cx="1099.3" cy="1668.6" r="2.95"/><circle cx="1099.3" cy="1672.5" r="2.95"/><circle cx="1126.6" cy="1564.3" r="2.95"/><circle cx="1126.6" cy="1569.0" r="2.95"/><circle cx="1126.6" cy="1573.6" r="2.95"/><circle cx="1126.6" cy="1578.3" r="2.95"/><circle cx="1126.6" cy="1582.9" r="2.95"/><circle cx="1126.6" cy="1587.6" r="2.95"/><circle cx="1126.6" cy="1592.3" r="2.95"/><circle cx="1126.6" cy="1596.9" r="2.95"/><circle cx="1126.6" cy="1601.6" r="2.95"/><circle cx="1126.6" cy="1606.2" r="2.95"/><circle cx="1126.6" cy="1610.9" r="2.95"/><circle cx="1126.6" cy="1615.6" r="2.95"/><circle cx="1126.6" cy="1620.2" r="2.95"/><circle cx="1126.6" cy="1624.9" r="2.95"/><circle cx="1126.6" cy="1629.5" r="2.95"/><circle cx="1126.6" cy="1634.2" r="2.95"/><circle cx="1126.6" cy="1643.9" r="2.95"/><circle cx="1126.6" cy="1650.4" r="2.95"/><circle cx="1126.6" cy="1654.7" r="2.95"/><circle cx="1126.6" cy="1665.4" r="2.95"/><circle cx="1126.6" cy="1671.9" r="2.95"/><circle cx="1180.4" cy="1615.9" r="2.95"/><circle cx="1180.4" cy="1620.0" r="2.95"/><circle cx="1180.4" cy="1624.1" r="2.95"/><circle cx="1180.4" cy="1628.3" r="2.95"/><circle cx="1180.4" cy="1632.4" r="2.95"/><circle cx="1180.4" cy="1636.5" r="2.95"/><circle cx="1180.4" cy="1640.6" r="2.95"/><circle cx="1180.4" cy="1644.7" r="2.95"/><circle cx="1180.4" cy="1648.8" r="2.95"/><circle cx="1180.4" cy="1653.0" r="2.95"/><circle cx="1180.4" cy="1657.1" r="2.95"/><circle cx="1180.4" cy="1661.2" r="2.95"/><circle cx="1180.4" cy="1665.3" r="2.95"/><circle cx="1180.4" cy="1669.4" r="2.95"/><circle cx="1180.4" cy="1673.5" r="2.95"/><circle cx="1180.4" cy="1677.7" r="2.95"/><circle cx="1180.4" cy="1681.8" r="2.95"/><circle cx="1180.4" cy="1685.9" r="2.95"/><circle cx="1226.7" cy="1515.8" r="2.95"/><circle cx="1226.7" cy="1519.6" r="2.95"/><circle cx="1226.7" cy="1523.5" r="2.95"/><circle cx="1226.7" cy="1527.3" r="2.95"/><circle cx="1226.7" cy="1531.1" r="2.95"/><circle cx="1226.7" cy="1535.0" r="2.95"/><circle cx="1226.7" cy="1538.8" r="2.95"/><circle cx="1226.7" cy="1542.6" r="2.95"/><circle cx="1226.7" cy="1546.5" r="2.95"/><circle cx="1226.7" cy="1550.3" r="2.95"/><circle cx="1226.7" cy="1558.4" r="2.95"/><circle cx="1226.7" cy="1570.1" r="2.95"/><circle cx="1226.7" cy="1591.2" r="2.95"/><circle cx="1226.7" cy="1594.4" r="2.95"/><circle cx="1226.7" cy="1610.5" r="2.95"/><circle cx="1226.7" cy="1616.6" r="2.95"/><circle cx="1226.7" cy="1632.5" r="2.95"/><circle cx="1226.7" cy="1640.7" r="2.95"/><circle cx="1226.7" cy="1650.4" r="2.95"/><circle cx="1226.7" cy="1660.0" r="2.95"/><circle cx="1226.7" cy="1673.0" r="2.95"/><circle cx="1350.7" cy="1680.5" r="2.95"/><circle cx="1350.7" cy="1682.6" r="2.95"/><circle cx="1350.7" cy="1685.9" r="2.95"/></g><polygon points="835.3,1586.5 844.0,1586.1 852.7,1585.7 861.3,1585.3 870.0,1584.8 878.7,1584.4 887.4,1584.0 896.1,1583.6 904.7,1583.2 913.4,1582.7 922.1,1582.3 930.8,1581.9 939.5,1581.4 948.1,1581.0 956.8,1580.5 965.5,1580.0 974.2,1579.6 982.9,1579.1 991.5,1578.6 1000.2,1578.1 1008.9,1577.6 1017.6,1577.0 1026.3,1576.5 1034.9,1576.0 1043.6,1575.4 1052.3,1574.9 1061.0,1574.3 1069.7,1573.7 1078.3,1573.1 1087.0,1572.5 1095.7,1571.8 1104.4,1571.2 1113.1,1570.6 1121.7,1569.9 1130.4,1569.2 1139.1,1568.5 1147.8,1567.9 1156.5,1567.1 1165.1,1566.4 1173.8,1565.7 1182.5,1565.0 1191.2,1564.2 1199.9,1563.5 1208.5,1562.8 1217.2,1562.0 1225.9,1561.2 1234.6,1560.5 1243.3,1559.7 1251.9,1558.9 1260.6,1558.1 1269.3,1557.3 1278.0,1556.5 1286.7,1555.7 1295.3,1554.9 1304.0,1554.1 1312.7,1553.3 1321.4,1552.5 1330.1,1551.7 1338.7,1550.9 1347.4,1550.1 1356.1,1549.2 1356.1,1569.3 1347.4,1569.6 1338.7,1570.0 1330.1,1570.4 1321.4,1570.8 1312.7,1571.2 1304.0,1571.6 1295.3,1572.0 1286.7,1572.4 1278.0,1572.9 1269.3,1573.3 1260.6,1573.7 1251.9,1574.1 1243.3,1574.6 1234.6,1575.0 1225.9,1575.4 1217.2,1575.9 1208.5,1576.3 1199.9,1576.8 1191.2,1577.2 1182.5,1577.7 1173.8,1578.2 1165.1,1578.7 1156.5,1579.2 1147.8,1579.7 1139.1,1580.2 1130.4,1580.7 1121.7,1581.3 1113.1,1581.8 1104.4,1582.4 1095.7,1583.0 1087.0,1583.5 1078.3,1584.1 1069.7,1584.7 1061.0,1585.4 1052.3,1586.0 1043.6,1586.6 1034.9,1587.3 1026.3,1588.0 1017.6,1588.6 1008.9,1589.3 1000.2,1590.0 991.5,1590.7 982.9,1591.5 974.2,1592.2 965.5,1592.9 956.8,1593.7 948.1,1594.4 939.5,1595.2 930.8,1595.9 922.1,1596.7 913.4,1597.5 904.7,1598.3 896.1,1599.0 887.4,1599.8 878.7,1600.6 870.0,1601.4 861.3,1602.2 852.7,1603.0 844.0,1603.8 835.3,1604.6" fill="#ff8080" fill-opacity="0.62" stroke="none"/><polyline points="835.3,1595.6 844.0,1594.9 852.7,1594.3 861.3,1593.7 870.0,1593.1 878.7,1592.5 887.4,1591.9 896.1,1591.3 904.7,1590.7 913.4,1590.1 922.1,1589.5 930.8,1588.9 939.5,1588.3 948.1,1587.7 956.8,1587.1 965.5,1586.5 974.2,1585.9 982.9,1585.3 991.5,1584.7 1000.2,1584.1 1008.9,1583.5 1017.6,1582.8 1026.3,1582.2 1034.9,1581.6 1043.6,1581.0 1052.3,1580.4 1061.0,1579.8 1069.7,1579.2 1078.3,1578.6 1087.0,1578.0 1095.7,1577.4 1104.4,1576.8 1113.1,1576.2 1121.7,1575.6 1130.4,1575.0 1139.1,1574.4 1147.8,1573.8 1156.5,1573.2 1165.1,1572.6 1173.8,1572.0 1182.5,1571.4 1191.2,1570.7 1199.9,1570.1 1208.5,1569.5 1217.2,1568.9 1225.9,1568.3 1234.6,1567.7 1243.3,1567.1 1251.9,1566.5 1260.6,1565.9 1269.3,1565.3 1278.0,1564.7 1286.7,1564.1 1295.3,1563.5 1304.0,1562.9 1312.7,1562.3 1321.4,1561.7 1330.1,1561.1 1338.7,1560.5 1347.4,1559.9 1356.1,1559.3" fill="none" stroke="#f22a2a" stroke-width="1.3"/>
<rect x="796.0" y="1238.9" width="601.5" height="478.6" fill="none" stroke="#000" stroke-width="2"/>
<path d="M846.1 1717.5V1726.5 M946.4 1717.5V1726.5 M1046.6 1717.5V1726.5 M1146.9 1717.5V1726.5 M1247.1 1717.5V1726.5 M1347.4 1717.5V1726.5 M796.0 1685.6H787.0 M796.0 1621.8H787.0 M796.0 1558.0H787.0 M796.0 1494.2H787.0 M796.0 1430.3H787.0 M796.0 1366.5H787.0 M796.0 1302.7H787.0 M796.0 1238.9H787.0" stroke="#000" stroke-width="2" fill="none"/>
<text transform="translate(846.1,1750.1) scale(1,1.09)" font-size="19" text-anchor="middle">3</text>
<text transform="translate(946.4,1750.1) scale(1,1.09)" font-size="19" text-anchor="middle">4</text>
<text transform="translate(1046.6,1750.1) scale(1,1.09)" font-size="19" text-anchor="middle">5</text>
<text transform="translate(1146.9,1750.1) scale(1,1.09)" font-size="19" text-anchor="middle">6</text>
<text transform="translate(1247.1,1750.1) scale(1,1.09)" font-size="19" text-anchor="middle">7</text>
<text transform="translate(1347.4,1750.1) scale(1,1.09)" font-size="19" text-anchor="middle">8</text>
<text transform="translate(780.0,1692.2) scale(1,1.09)" font-size="19" text-anchor="end">0</text>
<text transform="translate(780.0,1628.4) scale(1,1.09)" font-size="19" text-anchor="end">1</text>
<text transform="translate(780.0,1564.6) scale(1,1.09)" font-size="19" text-anchor="end">2</text>
<text transform="translate(780.0,1500.8) scale(1,1.09)" font-size="19" text-anchor="end">3</text>
<text transform="translate(780.0,1436.9) scale(1,1.09)" font-size="19" text-anchor="end">4</text>
<text transform="translate(780.0,1373.1) scale(1,1.09)" font-size="19" text-anchor="end">5</text>
<text transform="translate(780.0,1309.3) scale(1,1.09)" font-size="19" text-anchor="end">6</text>
<text transform="translate(780.0,1245.5) scale(1,1.09)" font-size="19" text-anchor="end">7</text>
<text transform="translate(811.8,1268.3) scale(1,1.07)" font-size="25">f</text>
<g transform="translate(-8.84,0) scale(1.0109,1)"><g transform="translate(0,1268.3) scale(1,1.07) translate(0,-1268.3)"><text x="881.2" y="1268.3" font-size="22.5"><tspan font-style="italic">Adj.R</tspan><tspan font-size="14.4" dy="-9.0">2</tspan><tspan dy="9.0">=0.02</tspan></text></g></g>
<g transform="translate(-8.84,0) scale(1.0109,1)"><g transform="translate(0,1296.6) scale(1,1.07) translate(0,-1296.6)"><text x="881.2" y="1296.6" font-size="22.5"><tspan font-style="italic">P</tspan></text><path d="M915.9 1281.7L897.9 1288.3L915.9 1295.0" fill="none" stroke="#000" stroke-width="1.25"/><text x="919.2" y="1296.6" font-size="22.5">0.001</text></g></g>
<g transform="translate(-8.84,0) scale(1.0109,1)"><g transform="translate(0,1324.4) scale(1,1.07) translate(0,-1324.4)"><text x="881.2" y="1324.4" font-size="22.5"><tspan font-style="italic">n</tspan>=725</text></g></g>
<g transform="translate(-10.05,-4.30) scale(1.0094,1.0000)"><text x="1096.8" y="1793.0" font-size="25" text-anchor="middle">ln(1+Cathode chamber volume)  (mL)</text></g>
<g transform="translate(8.70,-3.22) scale(1.0000,1.0100)"><text transform="translate(749.4,1466.2) rotate(-90)" font-size="25" text-anchor="middle">ln(1+Power density)  (W/m<tspan font-size="17.5" dy="-11">3</tspan><tspan dy="11">)</tspan></text></g>
<g fill="none" stroke="#3434d4" stroke-width="1.1"><circle cx="192.9" cy="2041.6" r="2.95"/><circle cx="192.9" cy="2044.8" r="2.95"/><circle cx="198.4" cy="2051.8" r="2.95"/><circle cx="207.4" cy="2062.5" r="2.95"/><circle cx="378.8" cy="2089.7" r="2.95"/><circle cx="406.2" cy="2124.9" r="2.95"/><circle cx="147.1" cy="2171.9" r="2.95"/><circle cx="135.2" cy="2202.3" r="2.95"/><circle cx="309.0" cy="2285.6" r="2.95"/><circle cx="360.3" cy="2303.4" r="2.95"/><circle cx="366.7" cy="2302.1" r="2.95"/><circle cx="374.2" cy="2303.4" r="2.95"/><circle cx="377.4" cy="2297.4" r="2.95"/><circle cx="587.7" cy="2302.7" r="2.95"/><circle cx="452.1" cy="1903.4" r="2.95"/><circle cx="452.1" cy="1908.6" r="2.95"/><circle cx="452.1" cy="1916.7" r="2.95"/><circle cx="452.1" cy="1923.2" r="2.95"/><circle cx="452.1" cy="1930.7" r="2.95"/><circle cx="452.1" cy="1937.2" r="2.95"/><circle cx="452.1" cy="1944.3" r="2.95"/><circle cx="452.1" cy="1953.8" r="2.95"/><circle cx="452.1" cy="1960.9" r="2.95"/><circle cx="452.1" cy="1972.1" r="2.95"/><circle cx="452.1" cy="1984.1" r="2.95"/><circle cx="452.1" cy="2000.0" r="2.95"/><circle cx="366.7" cy="2189.4" r="2.95"/><circle cx="366.7" cy="2192.6" r="2.95"/><circle cx="366.7" cy="2198.0" r="2.95"/><circle cx="366.7" cy="2204.4" r="2.95"/><circle cx="366.7" cy="2210.4" r="2.95"/><circle cx="366.7" cy="2218.3" r="2.95"/><circle cx="366.7" cy="2220.4" r="2.95"/><circle cx="366.7" cy="2233.3" r="2.95"/><circle cx="366.7" cy="2242.4" r="2.95"/><circle cx="378.2" cy="2178.2" r="2.95"/><circle cx="378.2" cy="2182.8" r="2.95"/><circle cx="378.2" cy="2187.5" r="2.95"/><circle cx="378.2" cy="2192.1" r="2.95"/><circle cx="378.2" cy="2196.8" r="2.95"/><circle cx="378.2" cy="2201.4" r="2.95"/><circle cx="378.2" cy="2206.0" r="2.95"/><circle cx="378.2" cy="2210.7" r="2.95"/><circle cx="378.2" cy="2215.3" r="2.95"/><circle cx="378.2" cy="2219.9" r="2.95"/><circle cx="378.2" cy="2224.6" r="2.95"/><circle cx="378.2" cy="2229.2" r="2.95"/><circle cx="378.2" cy="2233.9" r="2.95"/><circle cx="378.2" cy="2238.5" r="2.95"/><circle cx="388.3" cy="2195.5" r="2.95"/><circle cx="388.3" cy="2204.1" r="2.95"/><circle cx="388.3" cy="2210.5" r="2.95"/><circle cx="388.3" cy="2218.5" r="2.95"/><circle cx="388.3" cy="2224.5" r="2.95"/><circle cx="388.3" cy="2245.6" r="2.95"/><circle cx="394.4" cy="2187.9" r="2.95"/><circle cx="394.4" cy="2191.2" r="2.95"/><circle cx="394.4" cy="2199.8" r="2.95"/><circle cx="394.4" cy="2205.8" r="2.95"/><circle cx="394.4" cy="2213.3" r="2.95"/><circle cx="394.4" cy="2227.8" r="2.95"/><circle cx="394.4" cy="2230.6" r="2.95"/><circle cx="394.4" cy="2242.8" r="2.95"/><circle cx="429.2" cy="2195.5" r="2.95"/><circle cx="429.2" cy="2200.1" r="2.95"/><circle cx="429.2" cy="2204.7" r="2.95"/><circle cx="429.2" cy="2209.2" r="2.95"/><circle cx="429.2" cy="2213.8" r="2.95"/><circle cx="429.2" cy="2218.4" r="2.95"/><circle cx="429.2" cy="2222.9" r="2.95"/><circle cx="429.2" cy="2227.5" r="2.95"/><circle cx="429.2" cy="2232.1" r="2.95"/><circle cx="429.2" cy="2236.7" r="2.95"/><circle cx="429.2" cy="2241.2" r="2.95"/><circle cx="429.2" cy="2245.8" r="2.95"/><circle cx="429.2" cy="2250.4" r="2.95"/><circle cx="429.2" cy="2261.1" r="2.95"/><circle cx="429.2" cy="2265.4" r="2.95"/><circle cx="429.2" cy="2271.9" r="2.95"/><circle cx="429.2" cy="2285.9" r="2.95"/><circle cx="433.5" cy="2243.9" r="2.95"/><circle cx="433.5" cy="2249.3" r="2.95"/><circle cx="433.5" cy="2257.9" r="2.95"/><circle cx="433.5" cy="2273.4" r="2.95"/><circle cx="476.2" cy="2231.0" r="2.95"/><circle cx="476.2" cy="2235.3" r="2.95"/><circle cx="476.2" cy="2243.9" r="2.95"/><circle cx="476.2" cy="2249.3" r="2.95"/><circle cx="476.2" cy="2262.2" r="2.95"/><circle cx="476.2" cy="2265.4" r="2.95"/><circle cx="490.6" cy="2234.2" r="2.95"/><circle cx="490.6" cy="2240.3" r="2.95"/><circle cx="490.6" cy="2246.4" r="2.95"/><circle cx="490.6" cy="2252.5" r="2.95"/><circle cx="490.6" cy="2258.6" r="2.95"/><circle cx="490.6" cy="2264.7" r="2.95"/><circle cx="490.6" cy="2270.8" r="2.95"/><circle cx="539.7" cy="2269.7" r="2.95"/><circle cx="539.7" cy="2274.0" r="2.95"/><circle cx="539.7" cy="2279.4" r="2.95"/><circle cx="539.7" cy="2288.0" r="2.95"/><circle cx="539.7" cy="2301.6" r="2.95"/><circle cx="375.0" cy="2303.1" r="2.95"/><circle cx="378.2" cy="2297.7" r="2.95"/><circle cx="383.2" cy="2303.1" r="2.95"/><circle cx="388.3" cy="2297.3" r="2.95"/><circle cx="394.4" cy="2302.0" r="2.95"/><circle cx="427.7" cy="2285.9" r="2.95"/><circle cx="427.7" cy="2302.0" r="2.95"/><circle cx="429.2" cy="2303.1" r="2.95"/><circle cx="434.2" cy="2291.2" r="2.95"/><circle cx="435.9" cy="2286.9" r="2.95"/><circle cx="435.9" cy="2297.7" r="2.95"/><circle cx="434.2" cy="2303.1" r="2.95"/><circle cx="444.3" cy="2290.2" r="2.95"/><circle cx="444.3" cy="2296.6" r="2.95"/><circle cx="444.3" cy="2300.9" r="2.95"/><circle cx="469.3" cy="2293.4" r="2.95"/><circle cx="469.3" cy="2297.7" r="2.95"/><circle cx="469.3" cy="2302.0" r="2.95"/><circle cx="476.2" cy="2299.9" r="2.95"/><circle cx="483.7" cy="2303.1" r="2.95"/><circle cx="489.1" cy="2296.6" r="2.95"/><circle cx="490.6" cy="2303.1" r="2.95"/><circle cx="497.0" cy="2297.7" r="2.95"/><circle cx="497.0" cy="2302.0" r="2.95"/><circle cx="539.7" cy="2300.5" r="2.95"/></g><polygon points="130.9,2053.0 138.6,2057.5 146.3,2061.9 154.0,2066.3 161.6,2070.7 169.3,2075.1 177.0,2079.4 184.7,2083.8 192.4,2088.2 200.1,2092.6 207.8,2097.0 215.5,2101.3 223.2,2105.7 230.9,2110.0 238.6,2114.4 246.2,2118.7 253.9,2123.1 261.6,2127.4 269.3,2131.7 277.0,2136.0 284.7,2140.3 292.4,2144.5 300.1,2148.8 307.8,2153.0 315.5,2157.2 323.2,2161.4 330.9,2165.5 338.5,2169.7 346.2,2173.8 353.9,2177.8 361.6,2181.8 369.3,2185.8 377.0,2189.7 384.7,2193.6 392.4,2197.4 400.1,2201.2 407.8,2204.9 415.5,2208.5 423.1,2212.0 430.8,2215.5 438.5,2218.9 446.2,2222.2 453.9,2225.5 461.6,2228.7 469.3,2231.8 477.0,2234.9 484.7,2237.9 492.4,2240.9 500.1,2243.8 507.7,2246.7 515.4,2249.5 523.1,2252.3 530.8,2255.1 538.5,2257.9 546.2,2260.6 553.9,2263.3 561.6,2266.0 569.3,2268.7 577.0,2271.3 584.7,2274.0 592.4,2276.6 592.4,2327.4 584.7,2323.1 577.0,2318.8 569.3,2314.6 561.6,2310.3 553.9,2306.0 546.2,2301.8 538.5,2297.6 530.8,2293.4 523.1,2289.3 515.4,2285.1 507.7,2281.0 500.1,2277.0 492.4,2273.0 484.7,2269.0 477.0,2265.1 469.3,2261.2 461.6,2257.4 453.9,2253.6 446.2,2250.0 438.5,2246.3 430.8,2242.8 423.1,2239.3 415.5,2235.9 407.8,2232.6 400.1,2229.3 392.4,2226.2 384.7,2223.0 377.0,2220.0 369.3,2216.9 361.6,2214.0 353.9,2211.0 346.2,2208.2 338.5,2205.3 330.9,2202.5 323.2,2199.7 315.5,2197.0 307.8,2194.2 300.1,2191.5 292.4,2188.8 284.7,2186.1 277.0,2183.5 269.3,2180.8 261.6,2178.2 253.9,2175.6 246.2,2173.0 238.6,2170.4 230.9,2167.8 223.2,2165.2 215.5,2162.6 207.8,2160.0 200.1,2157.4 192.4,2154.9 184.7,2152.3 177.0,2149.8 169.3,2147.2 161.6,2144.7 154.0,2142.1 146.3,2139.6 138.6,2137.1 130.9,2134.5" fill="#ff8080" fill-opacity="0.62" stroke="none"/><polyline points="130.9,2093.8 138.6,2097.3 146.3,2100.7 154.0,2104.2 161.6,2107.7 169.3,2111.1 177.0,2114.6 184.7,2118.1 192.4,2121.5 200.1,2125.0 207.8,2128.5 215.5,2132.0 223.2,2135.4 230.9,2138.9 238.6,2142.4 246.2,2145.8 253.9,2149.3 261.6,2152.8 269.3,2156.3 277.0,2159.7 284.7,2163.2 292.4,2166.7 300.1,2170.1 307.8,2173.6 315.5,2177.1 323.2,2180.6 330.9,2184.0 338.5,2187.5 346.2,2191.0 353.9,2194.4 361.6,2197.9 369.3,2201.4 377.0,2204.8 384.7,2208.3 392.4,2211.8 400.1,2215.3 407.8,2218.7 415.5,2222.2 423.1,2225.7 430.8,2229.1 438.5,2232.6 446.2,2236.1 453.9,2239.6 461.6,2243.0 469.3,2246.5 477.0,2250.0 484.7,2253.4 492.4,2256.9 500.1,2260.4 507.7,2263.9 515.4,2267.3 523.1,2270.8 530.8,2274.3 538.5,2277.7 546.2,2281.2 553.9,2284.7 561.6,2288.1 569.3,2291.6 577.0,2295.1 584.7,2298.6 592.4,2302.0" fill="none" stroke="#f22a2a" stroke-width="1.3"/>
<rect x="77.2" y="1858.1" width="601.3" height="480.0" fill="none" stroke="#000" stroke-width="2"/>
<path d="M131.9 2338.1V2347.1 M241.2 2338.1V2347.1 M350.5 2338.1V2347.1 M459.8 2338.1V2347.1 M569.2 2338.1V2347.1 M678.5 2338.1V2347.1 M77.2 2303.8H68.2 M77.2 2235.2H68.2 M77.2 2166.7H68.2 M77.2 2098.1H68.2 M77.2 2029.5H68.2 M77.2 1961.0H68.2 M77.2 1892.4H68.2" stroke="#000" stroke-width="2" fill="none"/>
<text transform="translate(131.9,2370.7) scale(1,1.09)" font-size="19" text-anchor="middle">3</text>
<text transform="translate(241.2,2370.7) scale(1,1.09)" font-size="19" text-anchor="middle">4</text>
<text transform="translate(350.5,2370.7) scale(1,1.09)" font-size="19" text-anchor="middle">5</text>
<text transform="translate(459.8,2370.7) scale(1,1.09)" font-size="19" text-anchor="middle">6</text>
<text transform="translate(569.2,2370.7) scale(1,1.09)" font-size="19" text-anchor="middle">7</text>
<text transform="translate(678.5,2370.7) scale(1,1.09)" font-size="19" text-anchor="middle">8</text>
<text transform="translate(61.2,2310.4) scale(1,1.09)" font-size="19" text-anchor="end">0</text>
<text transform="translate(61.2,2241.8) scale(1,1.09)" font-size="19" text-anchor="end">1</text>
<text transform="translate(61.2,2173.3) scale(1,1.09)" font-size="19" text-anchor="end">2</text>
<text transform="translate(61.2,2104.7) scale(1,1.09)" font-size="19" text-anchor="end">3</text>
<text transform="translate(61.2,2036.1) scale(1,1.09)" font-size="19" text-anchor="end">4</text>
<text transform="translate(61.2,1967.6) scale(1,1.09)" font-size="19" text-anchor="end">5</text>
<text transform="translate(61.2,1899.0) scale(1,1.09)" font-size="19" text-anchor="end">6</text>
<text transform="translate(95.0,1889.2) scale(1,1.07)" font-size="25">g</text>
<g transform="translate(-0.35,0) scale(1.0117,1)"><g transform="translate(0,1904.7) scale(1,1.07) translate(0,-1904.7)"><text x="166.9" y="1904.7" font-size="24.5"><tspan font-style="italic">Adj.R</tspan><tspan font-size="15.7" dy="-9.8">2</tspan><tspan dy="9.8">=0.15</tspan></text></g></g>
<g transform="translate(-0.35,0) scale(1.0117,1)"><g transform="translate(0,1935.7) scale(1,1.07) translate(0,-1935.7)"><text x="166.9" y="1935.7" font-size="24.5"><tspan font-style="italic">P</tspan></text><path d="M204.7 1919.4L185.1 1926.7L204.7 1933.9" fill="none" stroke="#000" stroke-width="1.25"/><text x="208.3" y="1935.7" font-size="24.5">0.001</text></g></g>
<g transform="translate(-0.35,0) scale(1.0117,1)"><g transform="translate(0,1966.8) scale(1,1.07) translate(0,-1966.8)"><text x="166.9" y="1966.8" font-size="24.5"><tspan font-style="italic">n</tspan>=241</text></g></g>
<g transform="translate(-3.20,-4.60) scale(1.0086,1.0000)"><text x="377.9" y="2413.6" font-size="25" text-anchor="middle">ln(1+Internal resistance)  (Ω)</text></g>
<g transform="translate(8.45,-9.43) scale(1.0000,1.0100)"><text transform="translate(30.6,2086.1) rotate(-90)" font-size="25" text-anchor="middle">ln(1+Power density)  (W/m<tspan font-size="17.5" dy="-11">3</tspan><tspan dy="11">)</tspan></text></g>
<g fill="none" stroke="#3434d4" stroke-width="1.1"><circle cx="1080.3" cy="1927.3" r="2.95"/><circle cx="1080.3" cy="1932.7" r="2.95"/><circle cx="1080.3" cy="1939.1" r="2.95"/><circle cx="1080.3" cy="1944.9" r="2.95"/><circle cx="1080.3" cy="1951.4" r="2.95"/><circle cx="1080.3" cy="1957.4" r="2.95"/><circle cx="1080.3" cy="1963.4" r="2.95"/><circle cx="1080.3" cy="1971.8" r="2.95"/><circle cx="1080.3" cy="1977.8" r="2.95"/><circle cx="1080.3" cy="1987.4" r="2.95"/><circle cx="1080.3" cy="1998.6" r="2.95"/><circle cx="1080.3" cy="2012.1" r="2.95"/><circle cx="938.0" cy="2068.5" r="2.95"/><circle cx="938.0" cy="2074.3" r="2.95"/><circle cx="938.0" cy="2080.3" r="2.95"/><circle cx="938.0" cy="2088.3" r="2.95"/><circle cx="938.0" cy="2097.9" r="2.95"/><circle cx="938.0" cy="2112.5" r="2.95"/><circle cx="938.0" cy="2128.6" r="2.95"/><circle cx="938.0" cy="2150.7" r="2.95"/><circle cx="938.0" cy="2167.2" r="2.95"/><circle cx="938.0" cy="2173.6" r="2.95"/><circle cx="938.0" cy="2180.1" r="2.95"/><circle cx="938.0" cy="2186.5" r="2.95"/><circle cx="938.0" cy="2192.9" r="2.95"/><circle cx="938.0" cy="2199.4" r="2.95"/><circle cx="938.0" cy="2205.8" r="2.95"/><circle cx="938.0" cy="2212.3" r="2.95"/><circle cx="938.0" cy="2218.7" r="2.95"/><circle cx="938.0" cy="2234.2" r="2.95"/><circle cx="938.0" cy="2238.0" r="2.95"/><circle cx="938.0" cy="2254.1" r="2.95"/><circle cx="938.0" cy="2261.0" r="2.95"/><circle cx="938.0" cy="2267.0" r="2.95"/><circle cx="938.0" cy="2273.4" r="2.95"/><circle cx="938.0" cy="2277.7" r="2.95"/><circle cx="981.6" cy="2041.5" r="2.95"/><circle cx="981.6" cy="2048.6" r="2.95"/><circle cx="981.6" cy="2064.2" r="2.95"/><circle cx="981.6" cy="2081.8" r="2.95"/><circle cx="981.6" cy="2086.1" r="2.95"/><circle cx="981.6" cy="2091.5" r="2.95"/><circle cx="981.6" cy="2112.5" r="2.95"/><circle cx="981.6" cy="2123.3" r="2.95"/><circle cx="981.6" cy="2128.6" r="2.95"/><circle cx="981.6" cy="2138.3" r="2.95"/><circle cx="981.6" cy="2152.9" r="2.95"/><circle cx="981.6" cy="2162.9" r="2.95"/><circle cx="981.6" cy="2172.2" r="2.95"/><circle cx="981.6" cy="2191.3" r="2.95"/><circle cx="981.6" cy="2195.1" r="2.95"/><circle cx="981.6" cy="2221.5" r="2.95"/><circle cx="981.6" cy="2268.1" r="2.95"/><circle cx="981.6" cy="2271.3" r="2.95"/><circle cx="981.6" cy="2274.5" r="2.95"/><circle cx="981.6" cy="2277.7" r="2.95"/><circle cx="839.6" cy="2167.2" r="2.95"/><circle cx="839.6" cy="2171.3" r="2.95"/><circle cx="839.6" cy="2175.4" r="2.95"/><circle cx="839.6" cy="2179.5" r="2.95"/><circle cx="839.6" cy="2183.6" r="2.95"/><circle cx="839.6" cy="2187.7" r="2.95"/><circle cx="839.6" cy="2191.8" r="2.95"/><circle cx="839.6" cy="2195.8" r="2.95"/><circle cx="839.6" cy="2199.9" r="2.95"/><circle cx="839.6" cy="2204.0" r="2.95"/><circle cx="839.6" cy="2208.1" r="2.95"/><circle cx="839.6" cy="2212.2" r="2.95"/><circle cx="839.6" cy="2216.3" r="2.95"/><circle cx="839.6" cy="2220.4" r="2.95"/><circle cx="839.6" cy="2224.5" r="2.95"/><circle cx="839.6" cy="2228.6" r="2.95"/><circle cx="839.6" cy="2232.7" r="2.95"/><circle cx="839.6" cy="2236.8" r="2.95"/><circle cx="839.6" cy="2240.9" r="2.95"/><circle cx="839.6" cy="2245.0" r="2.95"/><circle cx="839.6" cy="2249.1" r="2.95"/><circle cx="839.6" cy="2253.1" r="2.95"/><circle cx="839.6" cy="2257.2" r="2.95"/><circle cx="839.6" cy="2261.3" r="2.95"/><circle cx="839.6" cy="2265.4" r="2.95"/><circle cx="839.6" cy="2269.5" r="2.95"/><circle cx="839.6" cy="2273.6" r="2.95"/><circle cx="839.6" cy="2277.7" r="2.95"/><circle cx="861.4" cy="2127.5" r="2.95"/><circle cx="861.4" cy="2131.8" r="2.95"/><circle cx="861.4" cy="2140.4" r="2.95"/><circle cx="861.4" cy="2159.7" r="2.95"/><circle cx="861.4" cy="2182.3" r="2.95"/><circle cx="861.4" cy="2205.2" r="2.95"/><circle cx="861.4" cy="2230.5" r="2.95"/><circle cx="861.4" cy="2237.6" r="2.95"/><circle cx="1101.9" cy="2156.7" r="2.95"/><circle cx="1101.9" cy="2162.7" r="2.95"/><circle cx="1101.9" cy="2168.7" r="2.95"/><circle cx="1101.9" cy="2174.7" r="2.95"/><circle cx="1101.9" cy="2180.7" r="2.95"/><circle cx="1101.9" cy="2186.7" r="2.95"/><circle cx="1101.9" cy="2192.7" r="2.95"/><circle cx="1101.9" cy="2198.7" r="2.95"/><circle cx="1101.9" cy="2277.3" r="2.95"/><circle cx="1178.5" cy="1901.2" r="2.95"/><circle cx="1178.5" cy="1913.5" r="2.95"/><circle cx="1178.5" cy="2069.1" r="2.95"/><circle cx="1178.5" cy="2075.7" r="2.95"/><circle cx="1178.5" cy="2082.4" r="2.95"/><circle cx="1178.5" cy="2089.0" r="2.95"/><circle cx="1178.5" cy="2102.0" r="2.95"/><circle cx="1178.5" cy="2106.0" r="2.95"/><circle cx="1178.5" cy="2110.0" r="2.95"/><circle cx="1178.5" cy="2114.0" r="2.95"/><circle cx="1178.5" cy="2118.0" r="2.95"/><circle cx="1178.5" cy="2122.0" r="2.95"/><circle cx="1178.5" cy="2126.0" r="2.95"/><circle cx="1178.5" cy="2130.0" r="2.95"/><circle cx="1178.5" cy="2134.0" r="2.95"/><circle cx="1178.5" cy="2138.0" r="2.95"/><circle cx="1178.5" cy="2142.0" r="2.95"/><circle cx="1178.5" cy="2146.0" r="2.95"/><circle cx="1178.5" cy="2150.0" r="2.95"/><circle cx="1178.5" cy="2154.0" r="2.95"/><circle cx="1178.5" cy="2158.0" r="2.95"/><circle cx="1178.5" cy="2162.0" r="2.95"/><circle cx="1178.5" cy="2166.0" r="2.95"/><circle cx="1178.5" cy="2170.0" r="2.95"/><circle cx="1178.5" cy="2174.0" r="2.95"/><circle cx="1178.5" cy="2178.0" r="2.95"/><circle cx="1178.5" cy="2183.0" r="2.95"/><circle cx="1178.5" cy="2189.2" r="2.95"/><circle cx="1178.5" cy="2195.3" r="2.95"/><circle cx="1178.5" cy="2201.5" r="2.95"/><circle cx="1178.5" cy="2207.6" r="2.95"/><circle cx="1178.5" cy="2213.8" r="2.95"/><circle cx="1178.5" cy="2223.4" r="2.95"/><circle cx="1178.5" cy="2236.4" r="2.95"/><circle cx="1178.5" cy="2253.6" r="2.95"/><circle cx="1178.5" cy="2256.8" r="2.95"/><circle cx="1178.5" cy="2262.2" r="2.95"/><circle cx="1178.5" cy="2266.5" r="2.95"/><circle cx="1178.5" cy="2270.8" r="2.95"/><circle cx="1178.5" cy="2277.3" r="2.95"/><circle cx="1211.2" cy="2265.4" r="2.95"/><circle cx="1211.2" cy="2269.4" r="2.95"/><circle cx="1211.2" cy="2273.3" r="2.95"/><circle cx="1211.2" cy="2277.3" r="2.95"/><circle cx="1254.7" cy="2157.8" r="2.95"/><circle cx="1254.7" cy="2163.9" r="2.95"/><circle cx="1254.7" cy="2170.1" r="2.95"/><circle cx="1254.7" cy="2176.2" r="2.95"/><circle cx="1254.7" cy="2182.4" r="2.95"/><circle cx="1254.7" cy="2188.5" r="2.95"/><circle cx="1254.7" cy="2194.6" r="2.95"/><circle cx="1254.7" cy="2200.8" r="2.95"/><circle cx="1254.7" cy="2206.9" r="2.95"/><circle cx="1254.7" cy="2213.1" r="2.95"/><circle cx="1254.7" cy="2219.2" r="2.95"/><circle cx="1254.7" cy="2225.4" r="2.95"/><circle cx="1254.7" cy="2231.5" r="2.95"/><circle cx="1254.7" cy="2237.6" r="2.95"/><circle cx="1254.7" cy="2243.8" r="2.95"/><circle cx="1254.7" cy="2249.9" r="2.95"/><circle cx="1254.7" cy="2256.1" r="2.95"/><circle cx="1254.7" cy="2262.2" r="2.95"/><circle cx="1353.7" cy="2069.6" r="2.95"/><circle cx="1353.7" cy="2074.3" r="2.95"/><circle cx="1353.7" cy="2079.0" r="2.95"/><circle cx="1353.7" cy="2083.7" r="2.95"/><circle cx="1353.7" cy="2088.4" r="2.95"/><circle cx="1353.7" cy="2093.1" r="2.95"/><circle cx="1353.7" cy="2097.7" r="2.95"/><circle cx="1353.7" cy="2102.4" r="2.95"/><circle cx="1353.7" cy="2107.1" r="2.95"/><circle cx="1353.7" cy="2111.8" r="2.95"/><circle cx="1353.7" cy="2116.5" r="2.95"/><circle cx="1353.7" cy="2121.2" r="2.95"/><circle cx="1353.7" cy="2129.8" r="2.95"/><circle cx="1353.7" cy="2139.1" r="2.95"/><circle cx="1353.7" cy="2154.1" r="2.95"/><circle cx="1353.7" cy="2165.3" r="2.95"/><circle cx="1353.7" cy="2173.9" r="2.95"/><circle cx="1353.7" cy="2205.6" r="2.95"/><circle cx="1353.7" cy="2246.0" r="2.95"/><circle cx="1353.7" cy="2277.3" r="2.95"/></g><polygon points="834.3,2197.4 843.0,2197.2 851.8,2197.0 860.5,2196.8 869.3,2196.6 878.0,2196.5 886.8,2196.3 895.5,2196.1 904.3,2195.9 913.0,2195.7 921.8,2195.5 930.5,2195.3 939.3,2195.1 948.0,2194.8 956.8,2194.6 965.5,2194.4 974.3,2194.2 983.0,2193.9 991.8,2193.7 1000.5,2193.4 1009.3,2193.1 1018.0,2192.9 1026.8,2192.6 1035.5,2192.3 1044.3,2192.0 1053.0,2191.7 1061.8,2191.4 1070.5,2191.0 1079.3,2190.7 1088.0,2190.3 1096.7,2189.9 1105.5,2189.5 1114.2,2189.1 1123.0,2188.7 1131.7,2188.3 1140.5,2187.9 1149.2,2187.4 1158.0,2186.9 1166.7,2186.5 1175.5,2186.0 1184.2,2185.5 1193.0,2185.0 1201.7,2184.4 1210.5,2183.9 1219.2,2183.4 1228.0,2182.8 1236.7,2182.3 1245.5,2181.7 1254.2,2181.2 1263.0,2180.6 1271.7,2180.0 1280.5,2179.5 1289.2,2178.9 1298.0,2178.3 1306.7,2177.7 1315.5,2177.1 1324.2,2176.5 1333.0,2175.9 1341.7,2175.4 1350.5,2174.8 1359.2,2174.1 1359.2,2191.8 1350.5,2192.0 1341.7,2192.2 1333.0,2192.4 1324.2,2192.6 1315.5,2192.7 1306.7,2192.9 1298.0,2193.1 1289.2,2193.3 1280.5,2193.5 1271.7,2193.8 1263.0,2194.0 1254.2,2194.2 1245.5,2194.4 1236.7,2194.6 1228.0,2194.9 1219.2,2195.1 1210.5,2195.4 1201.7,2195.6 1193.0,2195.9 1184.2,2196.2 1175.5,2196.4 1166.7,2196.7 1158.0,2197.0 1149.2,2197.4 1140.5,2197.7 1131.7,2198.0 1123.0,2198.4 1114.2,2198.8 1105.5,2199.1 1096.7,2199.5 1088.0,2199.9 1079.3,2200.3 1070.5,2200.8 1061.8,2201.2 1053.0,2201.7 1044.3,2202.2 1035.5,2202.6 1026.8,2203.1 1018.0,2203.6 1009.3,2204.1 1000.5,2204.7 991.8,2205.2 983.0,2205.7 974.3,2206.3 965.5,2206.8 956.8,2207.4 948.0,2207.9 939.3,2208.5 930.5,2209.1 921.8,2209.6 913.0,2210.2 904.3,2210.8 895.5,2211.4 886.8,2212.0 878.0,2212.6 869.3,2213.2 860.5,2213.8 851.8,2214.4 843.0,2215.0 834.3,2215.6" fill="#ff8080" fill-opacity="0.62" stroke="none"/><polyline points="834.3,2206.5 843.0,2206.1 851.8,2205.7 860.5,2205.3 869.3,2204.9 878.0,2204.5 886.8,2204.1 895.5,2203.7 904.3,2203.3 913.0,2202.9 921.8,2202.6 930.5,2202.2 939.3,2201.8 948.0,2201.4 956.8,2201.0 965.5,2200.6 974.3,2200.2 983.0,2199.8 991.8,2199.4 1000.5,2199.0 1009.3,2198.6 1018.0,2198.3 1026.8,2197.9 1035.5,2197.5 1044.3,2197.1 1053.0,2196.7 1061.8,2196.3 1070.5,2195.9 1079.3,2195.5 1088.0,2195.1 1096.7,2194.7 1105.5,2194.3 1114.2,2193.9 1123.0,2193.6 1131.7,2193.2 1140.5,2192.8 1149.2,2192.4 1158.0,2192.0 1166.7,2191.6 1175.5,2191.2 1184.2,2190.8 1193.0,2190.4 1201.7,2190.0 1210.5,2189.6 1219.2,2189.2 1228.0,2188.9 1236.7,2188.5 1245.5,2188.1 1254.2,2187.7 1263.0,2187.3 1271.7,2186.9 1280.5,2186.5 1289.2,2186.1 1298.0,2185.7 1306.7,2185.3 1315.5,2184.9 1324.2,2184.6 1333.0,2184.2 1341.7,2183.8 1350.5,2183.4 1359.2,2183.0" fill="none" stroke="#f22a2a" stroke-width="1.3"/>
<rect x="796.0" y="1858.2" width="601.5" height="479.3" fill="none" stroke="#000" stroke-width="2"/>
<path d="M850.7 2337.5V2346.5 M960.0 2337.5V2346.5 M1069.4 2337.5V2346.5 M1178.8 2337.5V2346.5 M1288.1 2337.5V2346.5 M1397.5 2337.5V2346.5 M796.0 2337.5H787.0 M796.0 2277.6H787.0 M796.0 2217.7H787.0 M796.0 2157.8H787.0 M796.0 2097.8H787.0 M796.0 2037.9H787.0 M796.0 1978.0H787.0 M796.0 1918.1H787.0 M796.0 1858.2H787.0" stroke="#000" stroke-width="2" fill="none"/>
<text transform="translate(850.7,2370.1) scale(1,1.09)" font-size="19" text-anchor="middle">3.1</text>
<text transform="translate(960.0,2370.1) scale(1,1.09)" font-size="19" text-anchor="middle">3.2</text>
<text transform="translate(1069.4,2370.1) scale(1,1.09)" font-size="19" text-anchor="middle">3.3</text>
<text transform="translate(1178.8,2370.1) scale(1,1.09)" font-size="19" text-anchor="middle">3.4</text>
<text transform="translate(1288.1,2370.1) scale(1,1.09)" font-size="19" text-anchor="middle">3.5</text>
<text transform="translate(1397.5,2370.1) scale(1,1.09)" font-size="19" text-anchor="middle">3.6</text>
<text transform="translate(780.0,2344.1) scale(1,1.09)" font-size="19" text-anchor="end">−1</text>
<text transform="translate(780.0,2284.2) scale(1,1.09)" font-size="19" text-anchor="end">0</text>
<text transform="translate(780.0,2224.3) scale(1,1.09)" font-size="19" text-anchor="end">1</text>
<text transform="translate(780.0,2164.4) scale(1,1.09)" font-size="19" text-anchor="end">2</text>
<text transform="translate(780.0,2104.4) scale(1,1.09)" font-size="19" text-anchor="end">3</text>
<text transform="translate(780.0,2044.5) scale(1,1.09)" font-size="19" text-anchor="end">4</text>
<text transform="translate(780.0,1984.6) scale(1,1.09)" font-size="19" text-anchor="end">5</text>
<text transform="translate(780.0,1924.7) scale(1,1.09)" font-size="19" text-anchor="end">6</text>
<text transform="translate(780.0,1864.8) scale(1,1.09)" font-size="19" text-anchor="end">7</text>
<text transform="translate(808.6,1889.8) scale(1,1.07)" font-size="25">h</text>
<g transform="translate(-12.79,0) scale(1.0151,1)"><g transform="translate(0,1899.7) scale(1,1.07) translate(0,-1899.7)"><text x="915.5" y="1899.7" font-size="24.5"><tspan font-style="italic">Adj.R</tspan><tspan font-size="15.7" dy="-9.8">2</tspan><tspan dy="9.8">=0.01</tspan></text></g></g>
<g transform="translate(-12.79,0) scale(1.0151,1)"><g transform="translate(0,1930.1) scale(1,1.07) translate(0,-1930.1)"><text x="915.5" y="1930.1" font-size="24.5"><tspan font-style="italic">P</tspan><tspan>=0.004</tspan></text></g></g>
<g transform="translate(-12.79,0) scale(1.0151,1)"><g transform="translate(0,1960.4) scale(1,1.07) translate(0,-1960.4)"><text x="915.5" y="1960.4" font-size="24.5"><tspan font-style="italic">n</tspan>=672</text></g></g>
<g transform="translate(-10.56,-3.60) scale(1.0093,1.0000)"><text x="1096.8" y="2413.0" font-size="25" text-anchor="middle">ln(Temperature)  (°C)</text></g>
<g transform="translate(-1.95,-8.45) scale(1.0000,1.0100)"><text transform="translate(749.4,2085.8) rotate(-90)" font-size="25" text-anchor="middle">ln(1+Power density)  (W/m<tspan font-size="17.5" dy="-11">3</tspan><tspan dy="11">)</tspan></text></g>
</svg></body></html>
